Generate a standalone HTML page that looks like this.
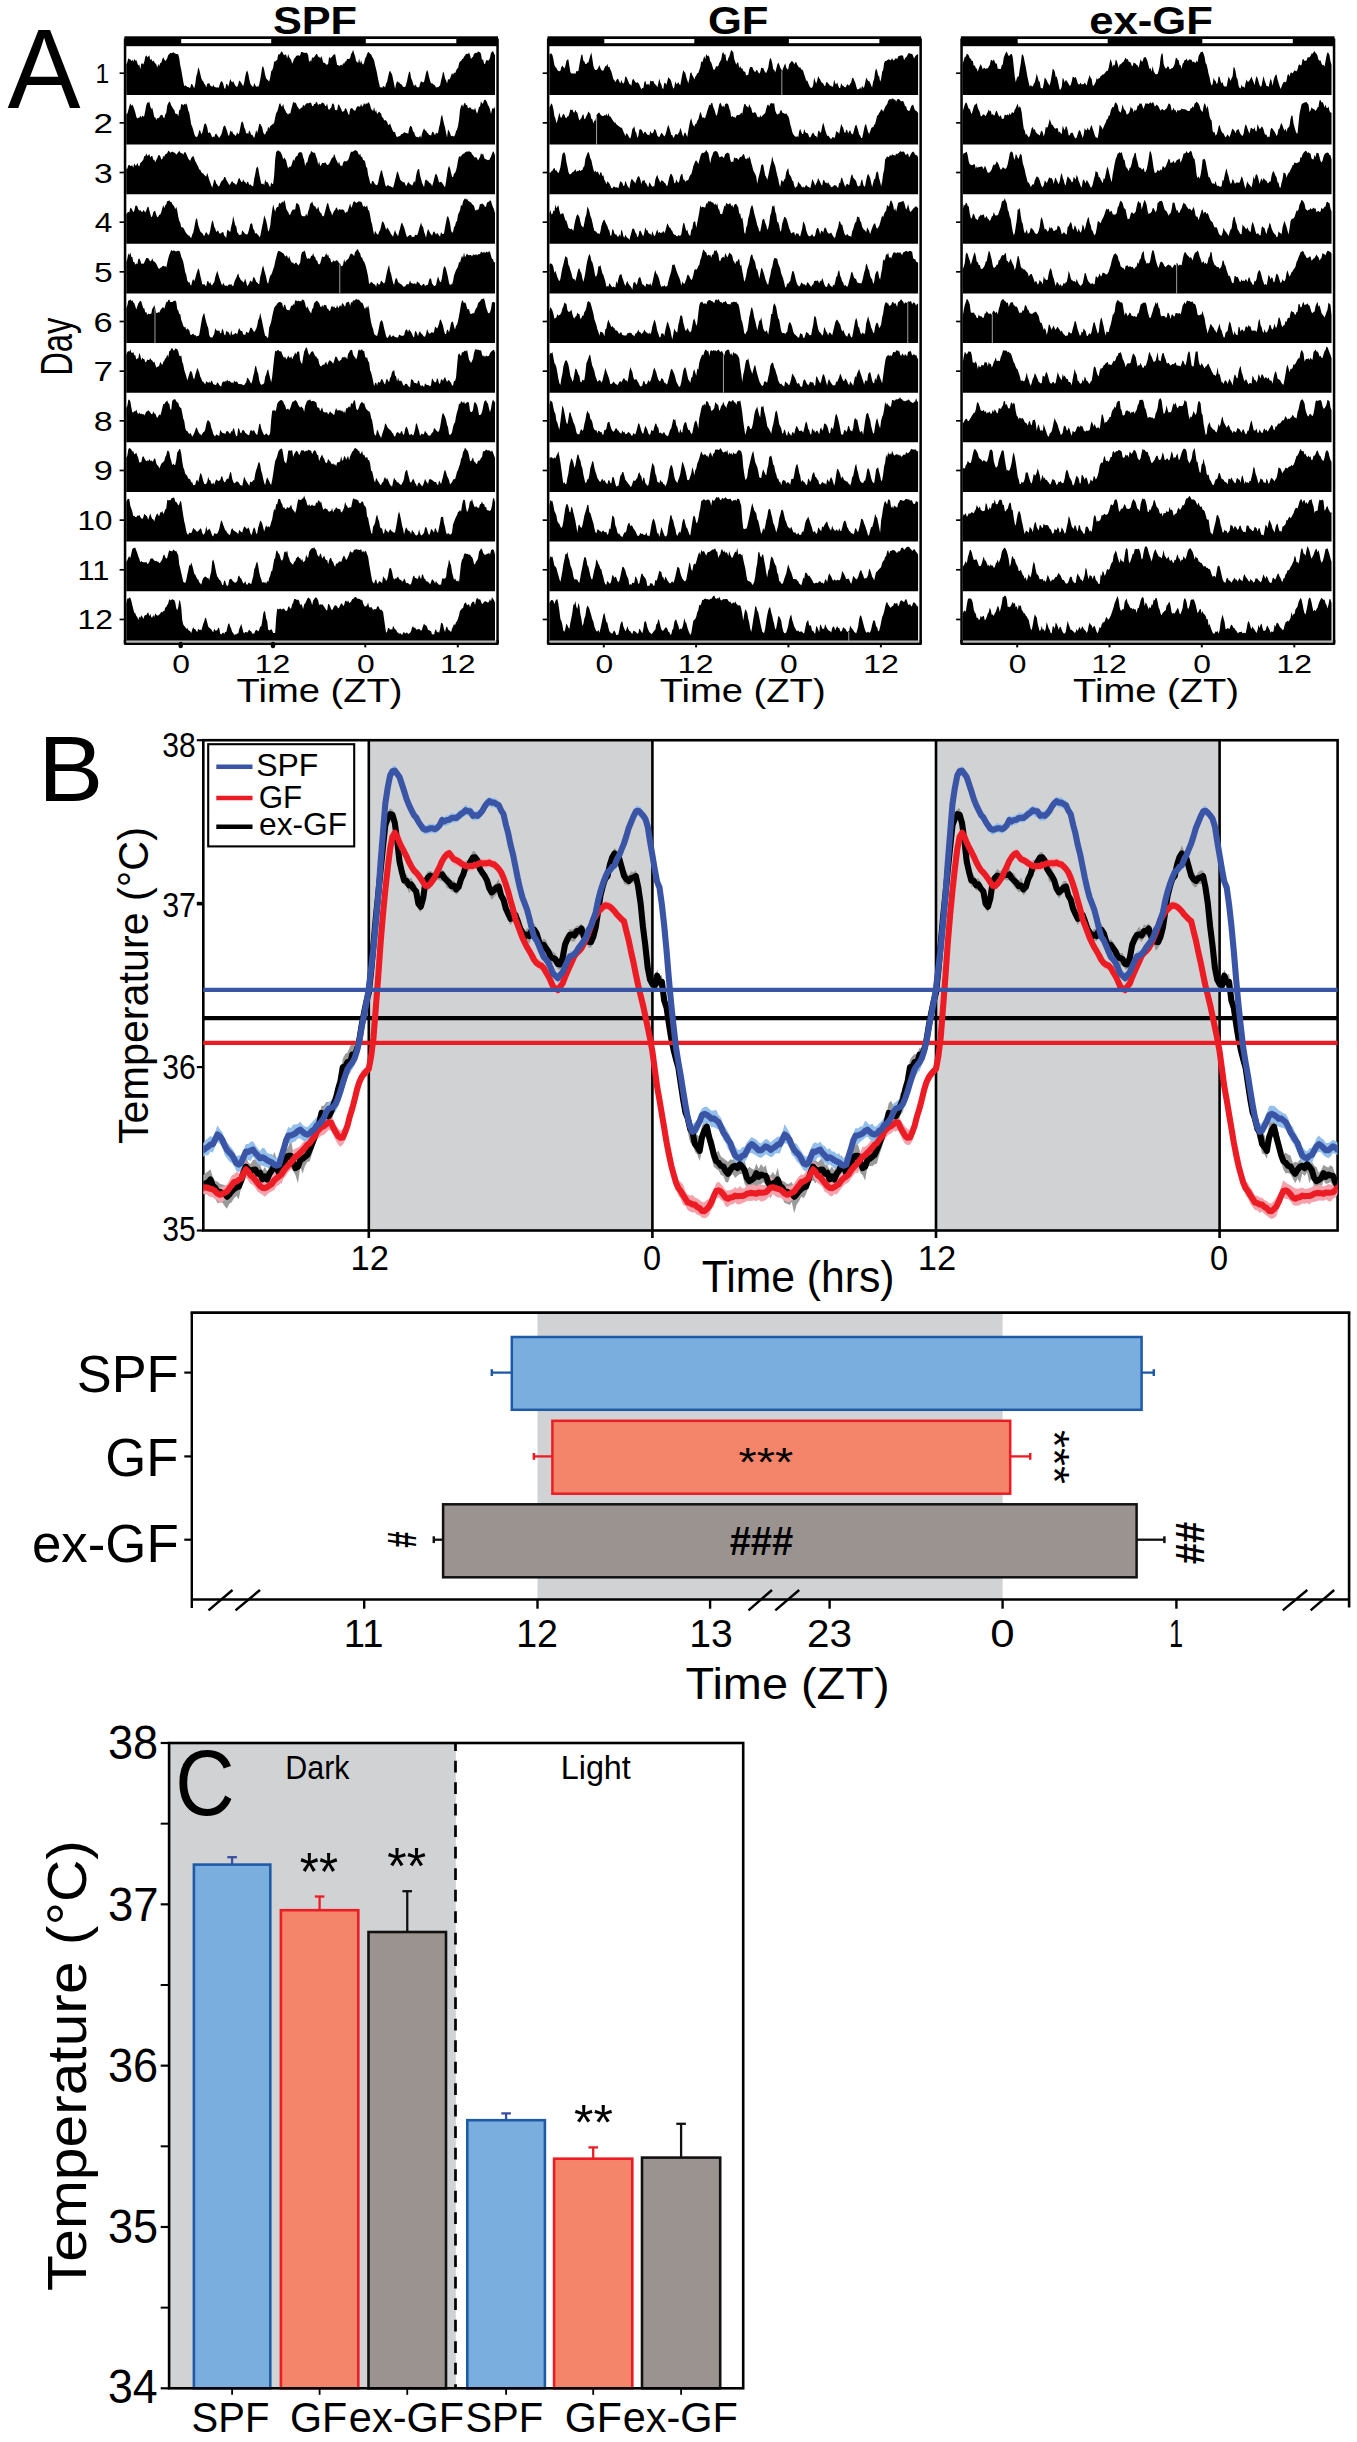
<!DOCTYPE html>
<html lang="en"><head><meta charset="utf-8"><title>Figure</title>
<style>
html,body{margin:0;padding:0;background:#fff}
svg{display:block}
text{font-family:"Liberation Sans", Arial, Helvetica, sans-serif;}
</style></head><body>
<svg width="1357" height="2442" viewBox="0 0 1357 2442">
<rect width="1357" height="2442" fill="#fff"/>
<g id="panelA">
<path transform="translate(126.3,95) scale(0.99919,-0.1)" d="M0,0V306l1 21 1 40 1-10 1 0 1-20 1 17 1-21 1 30 1-20 1 8 1-31 1-26 1 10 1-47 1 55 1 6 1-14 1 29 1 49 1 15 1-20 1 8 1 12 1-48 1 13 1-26 1 8 1-15 1-12 1-11 1-31 1 35 1-20 1 30 1 2 1 36 1 19 1-19 1-17 1 9 1 19 1 32 1 7 1 14 1-4 1 3 1 10 1-14 1-2 1-4 1-1 1-4 1-39 1-69 1-49 1-56 1-59 1-46 1 10 1-7 1-11 1 0 1-7 1 0 1 36 1-1 1-24 1-17 1 43 1 78 1 30 1 60 1-22 1-43 1-44 1-25 1-6 1-26 1-9 1-27 1 36 1 4 1 4 1-26 1-3 1-10 1 22 1-21 1-3 1-7 1 9 1-13 1 23 1 28 1 22 1-8 1-20 1-43 1-9 1 49 1-1 1-27 1 35 1 44 1-20 1-16 1 14 1-24 1-21 1-9 1-5 1 28 1 37 1-11 1-11 1-21 1-12 1 36 1 58 1 44 1 18 1-31 1-52 1-45 1-21 1-6 1-14 1 42 1-18 1-22 1 11 1-10 1 26 1 47 1 59 1 70 1 2 1-32 1-52 1-34 1-12 1-8 1-10 1 37 1 64 1 10 1 27 1 62 1 0 1 10 1 5 1 55 1 0 1 6 1 23 1-2 1-21 1-16 1 12 1-7 1-36 1 44 1-30 1-13 1-17 1-37 1 24 1 28 1 9 1 19 1 1 1 6 1-9 1 7 1 34 1-2 1-4 1-3 1-2 1 4 1-7 1-17 1-72 1 19 1-13 1 43 1-6 1 8 1 13 1 17 1 1 1-29 1 3 1-21 1 26 1-22 1-42 1-3 1-5 1-12 1-2 1 10 1 72 1-20 1 11 1 7 1 16 1 6 1 5 1-57 1-53 1 0 1-10 1 5 1 9 1-11 1 24 1-5 1 23 1-1 1 29 1-4 1 1 1 10 1 40 1 14 1 29 1-38 1-28 1-49 1-8 1-11 1 45 1-50 1 34 1-32 1-13 1 20 1 41 1 18 1 29 1 19 1-6 1-15 1-2 1-24 1-16 1-22 1-47 1-37 1-47 1-53 1-47 1-39 1 6 1-11 1 19 1-4 1-10 1 41 1 16 1 50 1 42 1 22 1-24 1-17 1-48 1-47 1-51 1 50 1 31 1-12 1-1 1-15 1-4 1-7 1-20 1 1 1-5 1 29 1 36 1 51 1 39 1 1 1-62 1-24 1-32 1-31 1 21 1-11 1-20 1 6 1-5 1 38 1 28 1-11 1-4 1 6 1 44 1 46 1 28 1-20 1-49 1-35 1-31 1 5 1-12 1-5 1-8 1-22 1 9 1-7 1 13 1 8 1 50 1 36 1 52 1-16 1-52 1-19 1-31 1 45 1-8 1 12 1 28 1 28 1-18 1 22 1-8 1 22 1 26 1 2 1 49 1 21 1 0 1 23 1 2 1 21 1 12 1 15 1 2 1-4 1 20 1-30 1-38 1 14 1 8 1 31 1 4 1 5 1-2 1 17 1-6 1-4 1-16 1-63 1 13 1-45 1-8 1 36 1 6 1-7 1 6 1 26 1 48 1 7 1 12 1-27 1-18V0Z"/>
<path transform="translate(126.3,144.62) scale(0.99919,-0.1)" d="M0,0V309l1-1 1 38 1 35 1 32 1-25 1 13 1-19 1-28 1-34 1-41 1-18 1 7 1 1 1 23 1-24 1 22 1-11 1 10 1 49 1 56 1 27 1-3 1 12 1-46 1-29 1 10 1-39 1-53 1 1 1-27 1 19 1-3 1 9 1 19 1 4 1 4 1-25 1-10 1 37 1 18 1 73 1 21 1 19 1-10 1-32 1-14 1-21 1-6 1-38 1-3 1-3 1-22 1 62 1 3 1 57 1-2 1-12 1 17 1-10 1 15 1-25 1-47 1-23 1-56 1-61 1-23 1-33 1-40 1-22 1-7 1 2 1 23 1 42 1-1 1-38 1 15 1 39 1 46 1 9 1-13 1-30 1-57 1 11 1-5 1-24 1-25 1 14 1-12 1 32 1 8 1-19 1-12 1-16 1 18 1 16 1 33 1 42 1 18 1-5 1-29 1-27 1-39 1-1 1 50 1-12 1 4 1-27 1-2 1-17 1 9 1 28 1-24 1 17 1 48 1 53 1 16 1-17 1-43 1-23 1-40 1 6 1-10 1 36 1-17 1-31 1 5 1-18 1-17 1 39 1 41 1-32 1 43 1 50 1 2 1-16 1-20 1-48 1-21 1-3 1 32 1 1 1 49 1-23 1 25 1 7 1 12 1 1 1 16 1 51 1 44 1 13 1 34 1 42 1 13 1-32 1-7 1 31 1-47 1-15 1-27 1-10 1-10 1 16 1-10 1 45 1 37 1 41 1-10 1 2 1-11 1-27 1-12 1-18 1 4 1 13 1-1 1 31 1-16 1 12 1 13 1 6 1-3 1 3 1 7 1-6 1-31 1-1 1 23 1 0 1 21 1-6 1-28 1 15 1-8 1 8 1 13 1-6 1-5 1-26 1 2 1 25 1-53 1-13 1 15 1 7 1 37 1 9 1-19 1-51 1 5 1-7 1 59 1-2 1-22 1-22 1-27 1 3 1 5 1 28 1-3 1-23 1-29 1-16 1 61 1 9 1 2 1-14 1-7 1-8 1 26 1 20 1 2 1-3 1-2 1 30 1-31 1 13 1 24 1-16 1 14 1-7 1 17 1-4 1-22 1-41 1-10 1-10 1 40 1-50 1 19 1-42 1 15 1 14 1-13 1-9 1-39 1 0 1-30 1 4 1-3 1-17 1-27 1-3 1 18 1-32 1-26 1-24 1-4 1-4 1-35 1-14 1 6 1 4 1 2 1 18 1 1 1 5 1 13 1-1 1-9 1 6 1-15 1 52 1 30 1 1 1-15 1-44 1 1 1-35 1-18 1 2 1-4 1-3 1 23 1-29 1 45 1 31 1 22 1-23 1 1 1-22 1-5 1-17 1-2 1-6 1 35 1 6 1-18 1-19 1 29 1-11 1 5 1 56 1 39 1 65 1 24 1-50 1-41 1-39 1-52 1-48 1 82 1-15 1-20 1-34 1 6 1-5 1-4 1 19 1 35 1 18 1 34 1 63 1 99 1 35 1 20 1-28 1 34 1 11 1-27 1 5 1-35 1 6 1 5 1-11 1-15 1 11 1-18 1 31 1-36 1-28 1 29 1 39 1 5 1 54 1-23 1 0 1 31 1 8 1-9 1-19 1-30 1-12 1-30 1-46 1 48 1 15 1-12 1 28V0Z"/>
<path transform="translate(126.3,194.24) scale(0.99919,-0.1)" d="M0,0V257l1-1 1 33 1 6 1-12 1 1 1 6 1-24 1 44 1-22 1-1 1 27 1-27 1-9 1 35 1 8 1 11 1 12 1 39 1-4 1 30 1-27 1 9 1 12 1-34 1 11 1 4 1-38 1-2 1-25 1 27 1 15 1 28 1 4 1-14 1-31 1 4 1 31 1-8 1 25 1 3 1 10 1 21 1-3 1-16 1 6 1 6 1-7 1-2 1-8 1-15 1 13 1 12 1 15 1-18 1-6 1 0 1-15 1 22 1 5 1-17 1-25 1-23 1-15 1-9 1 28 1 11 1 11 1-23 1-30 1-15 1-23 1-18 1-27 1-3 1-22 1-12 1-3 1-16 1-8 1-8 1 39 1-35 1-36 1-26 1-28 1-24 1 40 1 42 1-8 1-33 1-10 1-17 1 0 1 26 1 21 1 10 1 9 1 27 1-1 1-25 1-17 1-18 1-20 1 8 1 20 1 13 1-18 1-2 1-14 1-5 1 18 1 36 1 18 1-20 1-22 1-4 1 30 1-25 1 1 1-26 1 25 1-3 1-29 1 7 1-11 1-9 1 2 1 73 1 44 1 58 1 20 1-15 1-60 1-46 1-48 1-6 1 5 1-16 1 58 1-28 1 4 1-16 1-21 1-19 1 52 1-22 1 8 1 83 1 161 1 72 1 10 1 6 1-8 1-3 1-17 1-23 1-40 1 20 1-13 1-18 1-47 1-33 1 21 1-5 1 9 1 30 1 37 1-17 1 31 1 18 1-1 1 28 1 13 1-1 1 0 1-8 1-41 1-29 1-61 1 37 1-4 1 43 1 36 1 9 1 30 1-7 1-9 1 1 1-6 1-36 1-26 1-55 1 37 1-48 1 6 1 24 1-1 1 0 1 8 1-13 1-15 1 4 1 10 1 18 1 24 1 20 1 0 1 37 1-27 1-30 1-18 1-27 1 24 1-39 1 0 1-7 1 33 1 18 1-2 1-3 1 7 1 9 1 25 1 37 1 23 1-5 1 8 1 1 1 12 1-9 1-1 1-21 1-23 1 17 1-35 1 3 1-33 1-1 1-14 1-54 1-8 1-70 1-38 1-41 1-19 1 36 1-1 1-16 1-16 1-7 1-4 1 24 1 52 1 40 1 36 1-6 1-50 1-34 1-50 1-25 1 10 1 8 1-15 1 3 1-6 1-6 1-4 1 33 1 44 1 38 1 50 1-13 1-32 1-36 1-14 1-5 1-13 1 6 1-20 1-24 1 17 1 25 1-6 1-15 1-4 1-12 1 19 1 30 1-19 1 71 1 43 1 22 1 3 1-67 1-34 1-39 1-21 1-22 1 63 1 17 1-16 1-1 1-17 1-8 1-3 1-26 1 29 1 40 1 42 1 17 1-21 1-27 1-43 1 6 1 1 1-10 1-13 1-19 1-12 1 57 1 70 1 60 1 27 1-25 1-41 1-42 1-7 1 38 1 6 1 24 1 44 1 59 1 40 1-4 1 5 1 13 1 11 1 3 1 10 1 6 1 4 1-2 1 7 1-11 1 1 1-24 1-10 1-15 1-10 1 12 1-17 1-22 1 17 1 20 1 39 1-20 1 18 1-39 1-23 1 6 1-14 1 3 1-5 1 19 1 19 1 28 1 24 1-10 1-31V0Z"/>
<path transform="translate(126.3,243.86) scale(0.99919,-0.1)" d="M0,0V295l1 17 1 8 1-6 1 46 1-5 1-17 1-21 1 15 1 46 1 6 1-8 1-30 1-16 1 8 1-14 1-9 1 24 1-10 1-16 1 21 1 31 1 9 1-36 1-39 1-33 1 9 1 41 1 12 1-1 1-35 1-26 1 4 1 22 1 2 1 25 1 34 1 35 1-33 1 31 1 9 1 33 1 0 1 7 1-16 1 3 1-24 1-13 1-12 1-26 1 25 1-42 1-60 1-39 1-20 1-45 1 0 1-5 1-17 1-21 1-17 1-11 1-11 1-1 1-17 1-7 1 34 1 20 1 49 1 53 1 44 1-16 1-58 1-28 1-30 1-14 1-4 1-17 1-16 1 28 1 14 1-15 1-15 1 7 1 42 1 53 1 45 1-17 1-48 1-17 1-38 1 16 1 1 1-27 1-5 1 8 1 7 1 4 1-35 1-11 1-15 1 84 1-6 1-10 1-7 1 55 1 40 1 65 1-45 1-48 1-11 1-58 1-14 1-16 1 7 1-9 1 51 1-13 1-11 1-14 1-2 1-6 1 23 1 35 1 49 1 8 1-4 1-50 1-12 1-37 1 10 1-16 1-4 1-24 1 7 1 52 1 50 1 44 1 64 1-26 1-29 1-46 1-62 1 16 1 41 1 86 1 72 1 60 1-43 1-32 1 33 1 14 1-1 1 46 1-12 1 5 1 17 1-13 1 28 1-26 1-60 1-22 1-10 1-31 1 2 1 25 1 18 1 8 1 0 1 0 1 64 1-2 1-6 1-13 1-42 1-53 1-12 1-3 1 0 1-1 1 29 1-29 1 49 1 28 1 48 1 6 1 19 1-31 1-18 1 3 1-26 1-7 1 30 1-41 1-24 1-1 1-29 1-8 1 12 1 40 1 42 1 40 1-1 1-38 1-35 1-14 1-35 1 25 1 22 1 7 1 29 1-11 1-24 1 17 1-5 1-2 1 5 1-5 1-5 1-32 1 15 1-7 1 27 1 32 1 35 1-46 1 15 1 38 1 12 1-4 1-13 1 5 1 6 1 5 1-4 1 2 1-17 1-38 1 15 1-14 1 1 1 15 1-46 1-5 1-47 1-61 1-30 1-58 1-48 1 40 1-18 1-16 1-6 1 32 1 15 1 40 1 46 1-3 1-16 1-28 1-37 1 25 1-10 1-21 1-14 1-24 1-8 1-17 1 42 1 26 1-32 1-13 1-18 1 45 1 36 1 42 1 16 1-28 1-21 1-33 1-42 1-25 1 10 1 9 1 8 1-6 1-20 1 8 1-8 1 25 1-2 1-4 1 24 1 39 1 34 1 31 1-34 1-8 1-51 1-26 1-34 1 57 1 32 1-18 1-23 1-11 1-15 1 32 1 11 1-13 1-21 1 19 1-12 1-14 1-11 1 46 1-17 1-6 1 11 1 58 1 53 1 52 1 5 1-26 1-40 1-73 1-25 1 7 1 47 1 16 1 38 1 9 1 63 1 23 1 22 1 57 1-17 1 48 1 20 1 12 1-14 1 11 1-21 1-6 1-11 1 0 1-18 1-5 1-13 1-38 1-10 1 16 1-11 1 23 1 41 1-6 1 13 1-10 1-9 1-19 1 4 1 39 1 7 1 2 1 16 1-9 1-35 1-28 1-18 1-38V0Z"/>
<path transform="translate(126.3,293.48) scale(0.99919,-0.1)" d="M0,0V319l1 27 1 57 1-24 1 34 1-45 1-4 1-50 1 0 1-26 1 14 1-13 1 54 1 9 1-22 1-32 1 3 1-7 1 17 1 21 1 23 1-1 1-2 1-17 1-16 1 8 1 25 1-29 1-4 1-9 1-13 1-23 1-20 1-8 1 11 1 3 1 12 1 6 1-8 1 5 1-16 1 49 1 45 1 31 1 26 1 28 1-15 1 8 1-2 1-7 1-2 1 8 1-3 1 3 1-21 1-39 1-22 1-28 1-53 1-52 1-26 1-55 1-23 1 9 1-30 1-8 1 44 1 21 1-23 1 29 1 38 1 34 1 29 1-19 1-53 1-40 1-47 1-4 1 6 1-14 1-9 1 51 1 2 1-28 1 19 1-31 1-2 1 20 1 9 1 51 1 32 1 32 1-32 1-34 1-29 1-31 1-20 1 26 1-20 1-12 1 7 1-11 1 13 1 9 1-6 1 8 1-18 1-4 1 37 1 27 1 19 1 27 1 20 1-39 1-17 1-17 1-3 1-20 1 13 1 31 1-36 1-43 1 12 1 21 1 26 1-8 1-7 1 47 1 0 1-20 1-25 1-9 1-11 1-6 1 73 1 36 1 53 1 25 1-43 1-34 1-39 1-52 1-10 1 43 1 33 1 11 1 22 1 32 1 29 1 48 1 40 1 42 1 25 1 0 1-5 1-5 1-8 1-5 1-13 1-23 1 13 1-3 1-31 1 30 1-34 1-24 1-10 1 3 1-21 1 14 1 7 1-13 1-17 1 11 1 16 1 80 1 30 1-3 1 14 1-11 1-44 1-29 1 11 1-9 1 3 1 27 1-3 1 32 1-36 1-4 1-33 1-4 1-31 1-8 1 10 1 35 1 37 1-7 1 1 1 12 1 26 1-26 1 12 1-36 1-2 1-37 1-6 1 20 1-3 1-7 1 15 1-3 1-8 1-24 1 0 1-24 1-2 1 16 1 57 1-37 1 20 1 8 1 8 1 18 1 26 1 11 1-6 1-7 1-14 1 45 1 5 1 22 1-7 1-23 1-13 1-40 1-2 1-29 1-14 1-22 1-35 1-43 1-46 1-76 1 7 1 16 1-8 1-9 1-8 1-3 1-24 1 44 1-13 1-13 1 17 1 29 1-9 1-14 1-8 1 19 1 54 1 47 1 39 1 29 1-64 1-26 1-49 1-40 1-22 1 46 1 26 1-14 1-29 1-11 1-3 1-12 1-2 1-19 1 2 1 1 1 13 1 13 1-9 1 13 1 32 1-30 1 1 1-8 1 3 1 3 1-14 1 35 1-12 1-3 1-17 1-11 1-1 1 17 1 2 1-26 1 14 1-4 1 10 1 42 1 19 1-6 1-46 1-13 1-14 1 0 1 14 1 46 1 38 1-33 1-23 1 1 1 42 1 71 1 40 1 0 1-25 1-41 1-45 1-52 1-26 1 16 1-10 1 36 1 57 1 28 1 27 1 16 1 19 1 46 1-5 1 35 1 35 1-25 1 53 1-46 1 18 1 19 1-14 1-4 1 4 1-1 1-15 1 19 1 2 1-12 1 19 1-17 1 10 1 5 1-4 1 28 1-7 1-8 1 14 1-16 1 14 1 0 1-9 1 18 1-11 1-37 1-32 1-3 1-32 1 3V0Z"/>
<line x1="339.77" y1="264.28" x2="339.77" y2="293.48" stroke="#c8c8c8" stroke-width="0.8"/>
<path transform="translate(126.3,343.1) scale(0.99919,-0.1)" d="M0,0V350l1 25 1 52 1-2 1 14 1-18 1 8 1-20 1-11 1-29 1-32 1 30 1 29 1 15 1 13 1-9 1-34 1-32 1 0 1-44 1 6 1-31 1 15 1-7 1 5 1 0 1 51 1 11 1 26 1-38 1-41 1-2 1 12 1-9 1 26 1 13 1 14 1 2 1-14 1 31 1 37 1-4 1 23 1 4 1-24 1 0 1 1 1 6 1 5 1 2 1-15 1-72 1-12 1-34 1-3 1-57 1-27 1-31 1-17 1 9 1-34 1 17 1-12 1-6 1-46 1-4 1 8 1 6 1-17 1 6 1-18 1 4 1 2 1 11 1 59 1 60 1 53 1 32 1 14 1-50 1-41 1-35 1-23 1-71 1-23 1 0 1-4 1 20 1 18 1 58 1-21 1-4 1-4 1 8 1-32 1 5 1 44 1-18 1-43 1-8 1 46 1-9 1 0 1-18 1-23 1 57 1-46 1 1 1 4 1 12 1-3 1-12 1 37 1 29 1-23 1-8 1-1 1-33 1-1 1-6 1 33 1-4 1-11 1 19 1 35 1 5 1-14 1-19 1-13 1 13 1 20 1 30 1 56 1 19 1 54 1-47 1-42 1-52 1-48 1-43 1 3 1-23 1 7 1 97 1 27 1 31 1 52 1 45 1 41 1 18 1 6 1 21 1 7 1 9 1-2 1-4 1-8 1-46 1 32 1 0 1-41 1-12 1-1 1-5 1 18 1 33 1-8 1 25 1-15 1 47 1 4 1-12 1 9 1-8 1 2 1-3 1 20 1-3 1-8 1-31 1-48 1 22 1-17 1-26 1-14 1-15 1 45 1 10 1 50 1 7 1 11 1 3 1-11 1-11 1-29 1-17 1 27 1-20 1 22 1-5 1 3 1-37 1-1 1-20 1-1 1 38 1 12 1-17 1 12 1-16 1-2 1 32 1-34 1 15 1 17 1-20 1 42 1-8 1-17 1-13 1 39 1 3 1 10 1-7 1-39 1 42 1-8 1 24 1-4 1 8 1 12 1-10 1 2 1-4 1-11 1-18 1 2 1-17 1-31 1-15 1 23 1-17 1 31 1-41 1-73 1-56 1-41 1-26 1-48 1-12 1-6 1-5 1 38 1 53 1 47 1 17 1 1 1-29 1-50 1-38 1-41 1-18 1 6 1 20 1 11 1-26 1 4 1 13 1-11 1-7 1-3 1-1 1 0 1 29 1-7 1-2 1-5 1 5 1 0 1 41 1 17 1 0 1-27 1 30 1-15 1-12 1-20 1-26 1-10 1 67 1-5 1-21 1-28 1 41 1 9 1-22 1-5 1-16 1-12 1 3 1 25 1 49 1-24 1-20 1 1 1 7 1 9 1-15 1 15 1 52 1-10 1-10 1 18 1 34 1 42 1-11 1-27 1-27 1-51 1-31 1-1 1 44 1-4 1-24 1 44 1 51 1 15 1-6 1-45 1-31 1 38 1 14 1 33 1 54 1 55 1 62 1 38 1-9 1-21 1 9 1-18 1-41 1-13 1 6 1-45 1-3 1-2 1 11 1-6 1 28 1 24 1 9 1 37 1 15 1 6 1 20 1 4 1 4 1 4 1-34 1-52 1-28 1-33 1-2 1 10 1 33 1 63 1 5 1 1 1-10V0Z"/>
<line x1="154.98" y1="308.33" x2="154.98" y2="343.1" stroke="#c8c8c8" stroke-width="0.8"/>
<path transform="translate(126.3,392.72) scale(0.99919,-0.1)" d="M0,0V382l1 26 1 10 1-8 1 25 1-34 1-3 1 9 1-32 1 0 1-42 1 10 1 1 1 55 1-24 1-50 1 27 1-14 1-1 1-32 1 5 1 23 1-5 1-2 1 22 1-22 1-5 1-18 1 9 1-30 1-29 1 4 1 6 1 9 1 38 1-21 1-12 1 30 1 13 1 22 1 10 1 30 1-28 1 61 1 4 1 22 1 7 1-24 1-2 1 20 1-3 1-5 1-19 1-43 1-8 1 7 1-63 1-26 1-56 1-29 1-33 1-42 1 31 1 33 1 31 1-2 1-21 1-46 1-13 1 45 1 29 1 41 1-22 1-25 1-41 1-21 1-26 1-6 1-12 1-14 1 32 1-8 1-10 1 16 1-18 1 26 1-9 1-24 1-7 1-3 1 1 1 25 1-7 1-19 1-10 1-5 1 39 1 10 1-2 1 4 1-3 1 21 1-20 1 8 1-9 1-12 1 5 1-11 1 30 1-15 1 4 1-2 1-20 1-4 1-2 1 2 1-3 1-8 1 1 1 16 1 12 1 48 1-11 1-13 1-20 1-18 1 25 1 49 1 41 1 62 1-6 1-45 1-27 1-63 1-32 1-16 1 7 1 0 1 12 1 62 1 23 1 39 1 14 1-51 1-39 1-43 1 57 1 98 1 91 1 75 1-11 1 9 1 8 1-13 1-4 1 2 1-26 1-26 1-13 1 14 1-32 1 16 1 25 1-18 1-7 1 19 1-33 1 27 1 15 1 29 1-24 1 28 1 6 1-8 1-79 1-31 1-6 1 67 1 54 1 21 1 26 1-18 1-39 1-26 1 15 1 18 1 7 1-2 1-24 1-25 1 0 1-22 1 1 1-50 1-23 1-9 1 14 1 8 1-3 1 17 1 16 1-37 1 24 1 22 1 1 1-9 1-9 1-15 1 26 1 42 1 4 1-13 1-21 1-17 1 13 1 2 1 31 1-8 1 13 1-13 1 9 1-25 1 53 1 18 1 19 1 6 1-2 1-46 1-20 1-7 1-21 1 24 1 58 1 20 1-15 1 12 1-1 1-16 1 4 1-58 1-14 1 8 1-41 1-9 1-80 1-23 1-39 1-45 1-54 1 34 1 5 1-32 1 38 1-7 1 0 1 31 1 5 1-20 1-23 1-12 1 43 1 17 1-27 1-8 1 39 1 17 1 47 1 2 1 18 1-59 1-10 1-49 1 37 1-31 1-1 1 3 1-16 1-25 1-13 1 20 1 3 1-3 1-21 1-3 1-11 1 82 1-2 1-7 1-26 1-2 1 1 1-10 1 34 1-6 1-34 1-19 1 13 1-9 1-11 1 39 1-12 1-6 1 0 1-6 1-10 1 19 1 64 1-14 1-21 1-4 1-1 1 43 1-15 1-39 1-3 1 45 1-4 1-14 1 27 1 13 1-28 1-23 1 17 1 5 1-18 1-10 1-28 1-1 1 49 1-4 1 35 1 117 1 107 1 19 1-14 1-13 1 40 1-6 1 13 1 7 1-8 1 16 1-47 1-53 1-15 1-18 1 20 1 27 1 55 1 34 1 2 1-5 1 1 1 0 1-11 1 8 1-45 1-19 1 11 1-20 1 20 1-9 1 0 1 4 1 26 1 14 1 9 1 9 1 3 1-29V0Z"/>
<path transform="translate(126.3,442.34) scale(0.99919,-0.1)" d="M0,0V349l1 14 1 62 1 0 1-15 1-60 1-49 1-3 1 16 1-6 1 21 1-31 1-17 1 18 1-16 1 5 1-9 1 7 1-17 1 16 1 20 1 5 1 11 1-11 1-12 1-14 1-3 1 29 1-21 1 0 1-27 1-18 1 17 1 19 1-12 1 34 1 41 1 40 1-2 1 18 1 9 1 11 1-29 1-5 1-53 1-5 1 89 1 10 1 6 1-1 1-20 1-13 1-1 1-39 1-9 1-8 1-47 1-55 1-25 1-71 1-26 1-4 1-14 1-19 1 16 1-18 1-21 1 17 1 19 1 28 1 31 1-16 1-27 1-21 1-5 1-14 1 16 1 15 1 7 1 21 1 54 1 34 1 5 1-11 1-15 1-46 1-28 1-35 1-21 1-4 1 20 1-7 1-5 1-5 1 62 1-17 1-12 1-6 1 1 1-10 1 27 1 5 1-5 1-16 1-9 1 29 1-7 1 38 1-14 1-40 1-29 1 4 1 79 1-11 1-35 1-10 1 30 1 6 1-9 1-18 1-8 1-7 1-10 1 3 1 39 1 11 1-17 1 12 1-2 1-23 1-15 1-6 1 48 1 59 1 8 1-47 1-28 1-24 1-20 1 8 1 13 1-11 1-11 1 2 1 25 1 130 1 91 1 0 1 9 1-18 1 24 1 51 1 21 1 7 1 11 1 2 1-5 1-10 1-25 1-16 1-39 1 5 1 5 1-18 1 21 1 27 1 33 1 6 1 3 1 12 1-7 1-13 1-27 1-16 1-15 1 16 1-12 1-10 1-35 1 61 1 27 1 23 1 5 1 0 1 12 1-24 1 7 1-4 1 6 1-16 1 6 1-54 1-8 1 1 1-34 1 19 1 19 1-42 1-7 1-2 1 3 1 0 1-23 1 15 1 16 1-14 1-4 1-11 1-11 1 45 1 29 1-25 1 2 1-3 1 9 1-19 1 16 1-27 1 18 1-26 1 52 1-3 1 10 1 14 1-17 1 52 1-16 1 16 1 30 1-16 1-71 1-19 1 8 1 26 1 29 1 11 1 14 1-24 1 12 1-37 1-27 1-8 1-12 1-2 1-16 1-48 1-26 1-61 1-67 1-28 1 10 1 53 1-15 1-29 1-20 1-21 1 35 1 34 1 27 1 50 1-5 1-25 1-17 1-9 1-9 1-9 1-19 1-7 1-26 1-6 1 29 1 16 1 0 1-11 1-5 1 26 1-2 1-35 1 3 1 51 1 30 1-10 1-28 1-39 1-11 1 16 1-9 1-12 1 26 1 38 1 64 1-14 1-33 1-36 1-44 1 14 1 8 1-13 1 12 1 30 1-19 1-8 1-23 1 0 1-3 1 16 1 15 1 8 1 39 1-6 1-17 1-8 1-8 1 9 1 39 1 59 1 59 1 26 1-20 1-20 1-31 1-50 1-24 1-68 1-11 1 11 1 17 1 54 1 33 1 14 1 60 1 43 1 29 1 55 1-6 1 29 1-5 1-15 1 19 1-28 1 14 1 3 1 9 1-16 1-78 1-10 1-1 1 24 1 63 1 17 1-18 1-16 1-39 1-61 1 0 1 6 1 25 1 44 1 53 1 15 1 6 1-23 1-14 1-47 1-38 1 39 1 59 1 31 1-19 1-9V0Z"/>
<path transform="translate(126.3,491.96) scale(0.99919,-0.1)" d="M0,0V342l1 19 1 66 1 13 1-5 1-11 1-19 1 3 1-30 1 5 1 10 1-31 1-22 1-46 1 2 1 2 1 49 1 12 1-20 1-18 1-14 1 9 1-8 1 25 1-24 1 8 1-15 1 11 1 21 1-3 1-44 1-19 1-6 1-28 1 24 1 23 1 12 1 6 1 14 1 36 1 18 1 46 1-2 1-13 1-57 1-28 1-45 1 17 1-16 1 3 1 47 1 77 1 10 1 23 1-1 1-46 1-78 1-58 1-23 1-41 1-10 1-13 1-24 1-3 1-7 1-27 1 0 1-31 1 3 1 1 1 40 1 12 1-26 1 44 1 45 1-3 1-33 1-41 1-28 1-3 1 3 1 20 1 52 1-34 1-3 1-28 1-12 1 20 1-23 1 29 1 24 1-8 1-8 1 3 1 6 1 33 1 4 1-36 1-22 1 1 1 24 1 11 1-6 1 31 1 44 1-14 1-57 1-30 1-15 1 2 1 16 1 0 1-5 1-14 1-19 1 3 1-12 1 52 1 45 1-26 1-19 1-16 1-14 1-20 1 45 1-9 1 6 1 16 1-1 1 62 1 40 1 28 1 41 1 14 1-30 1-59 1-31 1-51 1-40 1-24 1 53 1 26 1-20 1-18 1-25 1-10 1 46 1 62 1 68 1 60 1 23 1 25 1 43 1 17 1 11 1 6 1-5 1-49 1-69 1-17 1-9 1 46 1 78 1 7 1-5 1 4 1 2 1-67 1 27 1 17 1 18 1-5 1-15 1-26 1 22 1 28 1-3 1 10 1-18 1 0 1 9 1-6 1 14 1-3 1-4 1-5 1-34 1 23 1 15 1 4 1-19 1-30 1 1 1-62 1 28 1 22 1 17 1-28 1-14 1-30 1-15 1 6 1 37 1-16 1-7 1-22 1-11 1 13 1-15 1 5 1-20 1 36 1 3 1-1 1 11 1 51 1-46 1 8 1 38 1-4 1-33 1 21 1 20 1-45 1 40 1 21 1 23 1 8 1 21 1 12 1-11 1-1 1-18 1 0 1-32 1 10 1 23 1-48 1 12 1-31 1-5 1 12 1-34 1-1 1-31 1-75 1-4 1-42 1-48 1-24 1 47 1-17 1-19 1-13 1-21 1-1 1 25 1 3 1 37 1 15 1-28 1 18 1-24 1-21 1-26 1-8 1-9 1 50 1 43 1-23 1-6 1-21 1 4 1-14 1-7 1-11 1 19 1 15 1 37 1 58 1 18 1 7 1-46 1-35 1-43 1-3 1 18 1 22 1-16 1-29 1-12 1-25 1 32 1 14 1-15 1-10 1-18 1 14 1 29 1 33 1-24 1-12 1-15 1 42 1 8 1-5 1-5 1-7 1-11 1-2 1 0 1-24 1-9 1 48 1-15 1-23 1 39 1 38 1 49 1 20 1-27 1-37 1-16 1-27 1-42 1 14 1 10 1 23 1 8 1-2 1 34 1 40 1 19 1 31 1 29 1 49 1 18 1 52 1 15 1 31 1-16 1-12 1-13 1-39 1-56 1-3 1 22 1 19 1-46 1 0 1-19 1 1 1 30 1-2 1 5 1 27 1 4 1 61 1-2 1 3 1 18 1-10 1-3 1 2 1-5 1-11 1 17 1-22 1-29 1-27V0Z"/>
<path transform="translate(126.3,541.58) scale(0.99919,-0.1)" d="M0,0V398l1 24 1 7 1-6 1-65 1-28 1-28 1-45 1 1 1-11 1-3 1 17 1-4 1 11 1-21 1-14 1-7 1 14 1 39 1-12 1-5 1-15 1-29 1 36 1 28 1-33 1-24 1-1 1-22 1 38 1 25 1 18 1-20 1-7 1 37 1-3 1 16 1-30 1 18 1 30 1 7 1 88 1-9 1 6 1-6 1 22 1 4 1 4 1-1 1-39 1-5 1-12 1-21 1 11 1 35 1-13 1-69 1-65 1-60 1-41 1-57 1-27 1-8 1 22 1-4 1 1 1 20 1 31 1-15 1-1 1-19 1-4 1 8 1 9 1 18 1-9 1-37 1-20 1 9 1 18 1 62 1-46 1 6 1 13 1-14 1-27 1-29 1-8 1 31 1-2 1-4 1 3 1 18 1 28 1 48 1 39 1-14 1-34 1-25 1-26 1-5 1-22 1-5 1-19 1 10 1 45 1 19 1-21 1-7 1-8 1-4 1-10 1-10 1 42 1-13 1-9 1-6 1 36 1 23 1-3 1-16 1-5 1 18 1-17 1-36 1-28 1 24 1 40 1 16 1-19 1-46 1 3 1 59 1 33 1 39 1-10 1-22 1-40 1-40 1 34 1 31 1-25 1 16 1-15 1 16 1 37 1 30 1 59 1 46 1-19 1 66 1-6 1 51 1 8 1-5 1-35 1-12 1-40 1 9 1-19 1-2 1 21 1-8 1-1 1 16 1 16 1-40 1-14 1-12 1-17 1 31 1 54 1 51 1-1 1-5 1 1 1 14 1 0 1 29 1-32 1-16 1-41 1-14 1 18 1-22 1 7 1 10 1-15 1 6 1-4 1 37 1-14 1 31 1 0 1-23 1 12 1-45 1-33 1 1 1 12 1-10 1 2 1-21 1-8 1 5 1 5 1 27 1-43 1 25 1 6 1 24 1-16 1-3 1-5 1 2 1-34 1 7 1 19 1 26 1 55 1-33 1-10 1-21 1 8 1 2 1-4 1 51 1 43 1-6 1-7 1 4 1-11 1 3 1-28 1-8 1 10 1 13 1-8 1-34 1-5 1-22 1-83 1-16 1-56 1-43 1-47 1-16 1 76 1 13 1 28 1 54 1 26 1-43 1-24 1-59 1-14 1 3 1-50 1-2 1 54 1-26 1-4 1-17 1 15 1 23 1-17 1-9 1-4 1-10 1 8 1 50 1 58 1 69 1 30 1-39 1-48 1-54 1-36 1-54 1 44 1 28 1-14 1-20 1-1 1-9 1-22 1 42 1-18 1-11 1-18 1-10 1 1 1 14 1 46 1-40 1-23 1 7 1 8 1 17 1 48 1 5 1-22 1-37 1-19 1 17 1 43 1-6 1-18 1-12 1 48 1-16 1-27 1-7 1 53 1 47 1 59 1-2 1 2 1-64 1-37 1-54 1-23 1 16 1-7 1-8 1 0 1 22 1 79 1 27 1 24 1 25 1 16 1 31 1 6 1 14 1-17 1 66 1 48 1 8 1-9 1-75 1-39 1 15 1 39 1 57 1-9 1 28 1-39 1-29 1-17 1 14 1-12 1-5 1 0 1 35 1 3 1 26 1-31 1 8 1-40 1 10 1-39 1 8 1-14 1 3 1 10 1 45 1 67 1 5 1-42V0Z"/>
<path transform="translate(126.3,591.2) scale(0.99919,-0.1)" d="M0,0V296l1 13 1 29 1 12 1-17 1 41 1 48 1 7 1 6 1 0 1-27 1-27 1-33 1-23 1-36 1 14 1-11 1-3 1 1 1-2 1 6 1-23 1 5 1 16 1 31 1 3 1 4 1-11 1-12 1-7 1 5 1-11 1 2 1-16 1 8 1 13 1 19 1 36 1 11 1-27 1-16 1 10 1 43 1 32 1-6 1-2 1-3 1 18 1-6 1-10 1 3 1-24 1-20 1-91 1-40 1-46 1-43 1-44 1-9 1-5 1 31 1 52 1 42 1 56 1-8 1 33 1-31 1-35 1-48 1-5 1-26 1-21 1-5 1-26 1-10 1-16 1 43 1 23 1 9 1 8 1-4 1-13 1 5 1-25 1 46 1 42 1 101 1 17 1-32 1-50 1-50 1-36 1-14 1-19 1-6 1-16 1-30 1-2 1 49 1-11 1-35 1-14 1 11 1 53 1 9 1 1 1-14 1-13 1-7 1-6 1 6 1 13 1 43 1 11 1-25 1-4 1-25 1-26 1 3 1 24 1-31 1-11 1 17 1 7 1-12 1-3 1 41 1 34 1 73 1 21 1 39 1 18 1-42 1-63 1-46 1-23 1-38 1 7 1-7 1 6 1-17 1 31 1-16 1 43 1 20 1 48 1 2 1 61 1 53 1 18 1 65 1 9 1-28 1-5 1-32 1-34 1-3 1 24 1 57 1 12 1-15 1 23 1-55 1-25 1-33 1-10 1-15 1-3 1 29 1 4 1 30 1 7 1 15 1-22 1 4 1-28 1 19 1-34 1 6 1 10 1 62 1-32 1 3 1 52 1 20 1 11 1 9 1-3 1 13 1-21 1-6 1-45 1-18 1-6 1 35 1-14 1-38 1 12 1 18 1-30 1-18 1 5 1-45 1 37 1 26 1-1 1-30 1-10 1-33 1-14 1 31 1-2 1 10 1 13 1 3 1-10 1 30 1 25 1 12 1-22 1-23 1 13 1 20 1 27 1 30 1-10 1-8 1 9 1 25 1-7 1 13 1-9 1 1 1-4 1 0 1 9 1-34 1 20 1-23 1 21 1-7 1-28 1-25 1-67 1-62 1-54 1-55 1-22 1-8 1 31 1 13 1-45 1 2 1 24 1-4 1-7 1-14 1 74 1-19 1-6 1-24 1 15 1 37 1 66 1 14 1-6 1-35 1-54 1-25 1 15 1-5 1 14 1 10 1-25 1-8 1-3 1-14 1 1 1 27 1-12 1-35 1 6 1-5 1-8 1-7 1 9 1 32 1 41 1 9 1-24 1-1 1-8 1 5 1 37 1-25 1-20 1 49 1-4 1-39 1-2 1-24 1 0 1-7 1-9 1-16 1 25 1 28 1-11 1-11 1-22 1 28 1-23 1-5 1-16 1 7 1-3 1 56 1 12 1-13 1 11 1 6 1 82 1 37 1 64 1-33 1-30 1-67 1-38 1-41 1 18 1-23 1-9 1 12 1-18 1 93 1 91 1 43 1 9 1 41 1 15 1-10 1 1 1-5 1-5 1 4 1-21 1-6 1-22 1-50 1 0 1 29 1 9 1 19 1 68 1 15 1 19 1-5 1-36 1-17 1-5 1 0 1 11 1-4 1 15 1-23 1 42 1 12 1 1 1-11 1-43V0Z"/>
<path transform="translate(126.3,640.82) scale(0.99919,-0.1)" d="M0,0V375l1 47 1-2 1 14 1-4 1-29 1-42 1-43 1-36 1-4 1-29 1-8 1-30 1 31 1-10 1 25 1-12 1-25 1 31 1 10 1-4 1 20 1 11 1-40 1 25 1-36 1-1 1 23 1-18 1 37 1-17 1-6 1-1 1 10 1 11 1 18 1-9 1 15 1-2 1 39 1 5 1 20 1 17 1 41 1-13 1 6 1 5 1-4 1-4 1-23 1-58 1-20 1 32 1 71 1-16 1-60 1-127 1-43 1-15 1-11 1-18 1 11 1-23 1-5 1-8 1-17 1 37 1 24 1-19 1-2 1-20 1-9 1 36 1-16 1 4 1-10 1 33 1 36 1 25 1 37 1-13 1-36 1-40 1-13 1-7 1-9 1-18 1-11 1 38 1-20 1-1 1 3 1 28 1-12 1-51 1-9 1 14 1 8 1-15 1 22 1-5 1 41 1 41 1 8 1-33 1-22 1-34 1-9 1-19 1 6 1-2 1 13 1-6 1 49 1 21 1 31 1-41 1-39 1-19 1 15 1 1 1-7 1 14 1 18 1-14 1-4 1-23 1 1 1-2 1 28 1 11 1-6 1-12 1 18 1 34 1-2 1 53 1 74 1 31 1-15 1-62 1-24 1-87 1-10 1 6 1 10 1-15 1-26 1 2 1 1 1 154 1 88 1-6 1-1 1 11 1-14 1 4 1 6 1-1 1-18 1-6 1 7 1 33 1 8 1-21 1-2 1 44 1 14 1 37 1 2 1-7 1-4 1 5 1-16 1-42 1 15 1-20 1-33 1 48 1 8 1 23 1 22 1 15 1-7 1-9 1-23 1-38 1 48 1 12 1 16 1 0 1-8 1-18 1-51 1 14 1-10 1 10 1-13 1-16 1-14 1-18 1-6 1 65 1-2 1-19 1-28 1-13 1 20 1 20 1 10 1-1 1-12 1-20 1 12 1 22 1 18 1 0 1-26 1 10 1 38 1 6 1-16 1 19 1-27 1 4 1 12 1 22 1 2 1 12 1 7 1 1 1-17 1 3 1-5 1-1 1-15 1 9 1-37 1-24 1-10 1 7 1 8 1 26 1-45 1-6 1 9 1-11 1-21 1 8 1 1 1-5 1 29 1 7 1-18 1-22 1 5 1-9 1-16 1-73 1-68 1-67 1 10 1 41 1-6 1-14 1 6 1-10 1 44 1-21 1-16 1-2 1-26 1-4 1-14 1 11 1-10 1-12 1 23 1 8 1-18 1 11 1 1 1-15 1 5 1 9 1 14 1 40 1 11 1-21 1 11 1-23 1 0 1 3 1 4 1-10 1-12 1 17 1 33 1 25 1-18 1 0 1-18 1-28 1-3 1-6 1-5 1-32 1 5 1-7 1 44 1 11 1-32 1 10 1-17 1 41 1 61 1 1 1-20 1-44 1-28 1 47 1 7 1-27 1-11 1-4 1-15 1 36 1 23 1 24 1-12 1 29 1 10 1 27 1 33 1 45 1 10 1 15 1 1 1 40 1 15 1 2 1-28 1 6 1 7 1-35 1 32 1 20 1 6 1 1 1-35 1 52 1 22 1-11 1-9 1 6 1-25 1-24 1 6 1 13 1 8 1-2 1-5 1-7 1 13 1 24 1-26 1 45 1-19 1-11 1-30V0Z"/>
<rect x="124.4" y="36.3" width="373.6" height="9.9" fill="#000"/>
<rect x="181.2" y="39" width="90" height="4.2" fill="#fff"/>
<rect x="365.8" y="39" width="90.5" height="4.2" fill="#fff"/>
<rect x="123.8" y="38.5" width="2.5" height="605" fill="#000"/>
<rect x="496.3" y="38.5" width="2.5" height="605" fill="#000"/>
<path d="M125.05,640 V643.7 H497.55 V640" fill="none" stroke="#000" stroke-width="2.5" stroke-linejoin="round"/>
<rect x="126.3" y="640.7" width="370" height="1.5" fill="#b4b4b4"/>
<ellipse cx="180.7" cy="645.0" rx="2.3" ry="3.3" fill="#000"/>
<ellipse cx="273" cy="645.0" rx="2.3" ry="3.3" fill="#000"/>
<rect x="364.3" y="643" width="2" height="4.4" fill="#000"/>
<rect x="456.8" y="643" width="2" height="4.4" fill="#000"/>
<text transform="translate(172.27,672.55) scale(1.2573,1)" font-size="25.35" fill="#000">0</text>
<text transform="translate(254.75,672.8) scale(1.2437,1)" font-size="25.71" fill="#000">12</text>
<text transform="translate(356.88,672.55) scale(1.2573,1)" font-size="25.35" fill="#000">0</text>
<text transform="translate(440.05,672.8) scale(1.2437,1)" font-size="25.71" fill="#000">12</text>
<text transform="translate(236.54,702.2) scale(1.1655,1)" font-size="32.75" fill="#000">Time (ZT)</text>
<line x1="119.6" y1="73.2" x2="124.3" y2="73.2" stroke="#000" stroke-width="1.7"/>
<line x1="119.6" y1="122.86" x2="124.3" y2="122.86" stroke="#000" stroke-width="1.7"/>
<line x1="119.6" y1="172.52" x2="124.3" y2="172.52" stroke="#000" stroke-width="1.7"/>
<line x1="119.6" y1="222.18" x2="124.3" y2="222.18" stroke="#000" stroke-width="1.7"/>
<line x1="119.6" y1="271.84" x2="124.3" y2="271.84" stroke="#000" stroke-width="1.7"/>
<line x1="119.6" y1="321.5" x2="124.3" y2="321.5" stroke="#000" stroke-width="1.7"/>
<line x1="119.6" y1="371.16" x2="124.3" y2="371.16" stroke="#000" stroke-width="1.7"/>
<line x1="119.6" y1="420.82" x2="124.3" y2="420.82" stroke="#000" stroke-width="1.7"/>
<line x1="119.6" y1="470.48" x2="124.3" y2="470.48" stroke="#000" stroke-width="1.7"/>
<line x1="119.6" y1="520.14" x2="124.3" y2="520.14" stroke="#000" stroke-width="1.7"/>
<line x1="119.6" y1="569.8" x2="124.3" y2="569.8" stroke="#000" stroke-width="1.7"/>
<line x1="119.6" y1="619.46" x2="124.3" y2="619.46" stroke="#000" stroke-width="1.7"/>
<path transform="translate(549.4,95) scale(0.99919,-0.1)" d="M0,0V403l1 13 1-2 1-13 1-44 1-58 1-20 1-10 1-18 1-11 1-3 1 6 1 38 1 13 1-15 1-15 1 25 1 50 1 16 1 0 1-64 1-60 1-16 1 3 1-6 1 5 1-8 1 32 1-3 1 1 1 61 1 54 1 49 1 3 1-63 1-8 1-25 1 1 1 15 1-2 1 38 1 35 1 28 1-65 1-67 1-30 1-13 1 0 1 8 1 16 1 26 1-30 1-20 1-8 1 3 1 22 1 22 1-1 1 24 1-35 1 5 1-26 1-22 1-36 1-41 1-8 1-22 1 21 1 15 1-6 1-24 1-18 1 35 1-25 1-12 1 18 1 56 1-6 1-22 1-23 1-27 1-5 1-12 1 59 1 11 1-18 1-14 1-11 1 8 1-8 1-14 1-26 1-21 1 11 1-2 1 60 1 15 1-37 1-1 1 9 1-20 1 53 1-8 1 0 1 5 1-27 1-10 1-9 1-21 1 42 1 48 1-40 1-22 1-36 1-8 1 62 1-3 1-20 1 39 1 40 1-10 1-13 1-23 1-38 1-31 1 14 1 61 1-29 1 4 1 16 1-21 1-11 1 56 1 51 1 45 1-18 1-8 1-46 1-29 1-30 1 41 1 60 1 8 1-30 1-15 1-28 1 29 1 11 1 23 1 3 1 30 1 29 1 59 1-10 1 29 1 33 1-33 1 56 1-25 1 9 1-17 1-43 1-12 1-32 1-35 1-8 1 17 1 23 1-4 1 4 1 29 1 19 1 20 1 58 1 13 1-30 1 16 1-67 1-13 1 32 1 18 1 36 1 31 1-15 1-6 1-70 1-32 1-27 1 24 1-2 1-54 1 19 1-26 1 7 1-31 1-5 1-3 1-36 1 4 1 4 1 52 1 25 1-1 1 1 1-24 1-19 1-9 1 22 1-3 1-20 1-14 1 18 1 44 1-8 1 5 1-27 1-18 1-8 1 27 1 27 1 62 1 37 1-15 1-37 1-63 1-4 1-27 1 34 1 42 1 23 1-20 1-31 1-20 1-14 1 29 1 27 1 22 1-42 1-18 1-1 1 51 1 13 1 16 1 0 1-6 1-26 1 19 1 7 1-28 1-16 1-15 1 7 1-23 1 0 1-17 1-31 1-31 1-35 1 4 1-27 1-24 1-17 1-9 1 6 1 26 1 74 1-36 1-27 1 34 1 45 1-24 1-13 1-24 1-7 1-9 1-22 1-2 1 34 1 5 1-13 1-12 1-15 1 6 1-17 1 14 1 63 1-37 1-14 1 24 1-34 1-24 1-1 1 50 1-22 1-5 1-10 1-8 1 11 1 24 1-10 1-7 1 21 1 12 1 45 1 2 1-25 1-19 1-39 1-35 1 7 1-3 1 23 1-23 1 37 1-23 1 6 1 41 1 55 1-17 1-17 1 0 1-18 1-26 1-21 1 58 1 28 1 75 1 30 1-23 1-47 1-8 1-55 1 27 1 73 1 14 1 74 1 19 1 0 1 7 1 7 1 4 1-11 1 3 1 19 1-21 1-1 1 16 1 7 1-16 1 30 1 5 1 5 1 2 1 1 1-7 1-42 1 23 1 7 1 12 1 26 1 1 1-2 1-5 1 2 1-22 1-24 1 18 1 14 1 8 1 4V0Z"/>
<line x1="781.83" y1="71.14" x2="781.83" y2="95" stroke="#c8c8c8" stroke-width="0.8"/>
<path transform="translate(549.4,144.62) scale(0.99919,-0.1)" d="M0,0V369l1 21 1 24 1-17 1-44 1-66 1-26 1-48 1 25 1 42 1 40 1-45 1-9 1 26 1 16 1-9 1-29 1-7 1 17 1 3 1 31 1 38 1-7 1 6 1-26 1-7 1 31 1-24 1-7 1-41 1-36 1 13 1 11 1 28 1 12 1-52 1 8 1 25 1 17 1 27 1-12 1-12 1-47 1-6 1-43 1 31 1-3 1 53 1 16 1 9 1 5 1-19 1-11 1-6 1 2 1 9 1-8 1 22 1-29 1 35 1-32 1-4 1-15 1-17 1-14 1-13 1 0 1-17 1-8 1-10 1-6 1-10 1 0 1-12 1-28 1-19 1-28 1 30 1-6 1-19 1-19 1-8 1 37 1 59 1 9 1 17 1-51 1-14 1-51 1 22 1 60 1 6 1-7 1-11 1-30 1 19 1 2 1-15 1-14 1-1 1-6 1 44 1-21 1-4 1 9 1 33 1-1 1-27 1-34 1-12 1-2 1 20 1 21 1-7 1-15 1-14 1 13 1 34 1 39 1 30 1-29 1-34 1-38 1 0 1-32 1 17 1 22 1 3 1-12 1 15 1 15 1 44 1-28 1-37 1-25 1 38 1 5 1-23 1-23 1 62 1 55 1 47 1 23 1-46 1-23 1-15 1 28 1 2 1 30 1 11 1 41 1 38 1-20 1-41 1 6 1-11 1 7 1 30 1 35 1 31 1 36 1-12 1 26 1 1 1-41 1-23 1-34 1-33 1 17 1 50 1 47 1 22 1-21 1-24 1 15 1-21 1 34 1 6 1 0 1-10 1-37 1-29 1-62 1 16 1-16 1 8 1-18 1 24 1 10 1-4 1 6 1 5 1 18 1-17 1 57 1 41 1 5 1-23 1-3 1-15 1 39 1-28 1-11 1-45 1-6 1 8 1 0 1-12 1-34 1 1 1-11 1 28 1-23 1 13 1 12 1 7 1 10 1 44 1 35 1 6 1-19 1 28 1 7 1-4 1-2 1 3 1-71 1-27 1-17 1 11 1-3 1 31 1 11 1-27 1-5 1-4 1-6 1 7 1-17 1-9 1-32 1-51 1-33 1-43 1-25 1-11 1-10 1-6 1 13 1-20 1 65 1 24 1-30 1-22 1-1 1 50 1-30 1-9 1 1 1-12 1-29 1-4 1 16 1 23 1 9 1-20 1-14 1 0 1-21 1 72 1 1 1-22 1 13 1 51 1 40 1-32 1-42 1-29 1-30 1 5 1-13 1-15 1-11 1 21 1 1 1-12 1 19 1 55 1-10 1-4 1-17 1 51 1 52 1-25 1-15 1-40 1-16 1 36 1-4 1-33 1 21 1 11 1-28 1-16 1 11 1 41 1 35 1 15 1-25 1-34 1-41 1-11 1-25 1 0 1 44 1 50 1 42 1-2 1-39 1-35 1-20 1 26 1 30 1 13 1-4 1 26 1 12 1 38 1 42 1 6 1 20 1 13 1 26 1-5 1-20 1 23 1 23 1 18 1 10 1 33 1 16 1 5 1-6 1 10 1 0 1-13 1 4 1-23 1 22 1 6 1-4 1-9 1-14 1 6 1 0 1-23 1-29 1-1 1-37 1-6 1-7 1 17 1 33 1 11 1 8 1-34 1-28 1 1 1-12 1-14V0Z"/>
<line x1="596.59" y1="115.88" x2="596.59" y2="144.62" stroke="#c8c8c8" stroke-width="0.8"/>
<path transform="translate(549.4,194.24) scale(0.99919,-0.1)" d="M0,0V217l1-2 1 14 1 7 1 20 1 9 1-27 1 2 1-17 1-12 1 24 1 35 1 66 1 64 1 16 1 5 1-28 1-70 1-46 1-53 1-23 1-2 1 8 1 14 1 5 1 8 1 19 1-30 1 12 1-4 1 14 1-13 1 8 1 2 1 28 1 13 1 71 1 29 1 27 1 15 1-26 1-40 1-19 1-47 1-43 1-31 1 19 1-21 1 10 1-9 1-30 1 33 1-3 1-35 1 8 1-47 1-16 1-28 1 30 1-11 1-11 1-20 1-25 1-5 1 16 1 3 1-10 1 3 1-2 1-8 1 39 1 33 1-10 1-8 1-32 1 4 1 49 1-23 1-27 1-13 1-16 1 56 1 39 1-1 1-16 1-10 1-16 1 33 1 23 1 18 1-7 1-27 1-47 1 33 1 2 1 8 1-30 1-7 1-21 1-17 1 52 1-14 1-19 1-12 1 3 1 0 1 68 1 27 1 20 1-33 1-20 1-27 1 26 1-6 1-3 1-17 1-4 1-22 1-6 1 42 1 46 1 30 1 4 1-17 1-24 1-54 1 3 1 37 1-22 1-14 1 19 1 46 1 23 1 5 1-58 1 0 1-23 1 10 1 5 1 3 1 30 1 19 1 8 1 36 1 44 1 24 1 29 1 4 1-11 1-25 1 37 1 39 1 25 1 14 1-4 1 6 1 7 1 21 1-24 1-6 1-56 1-52 1 54 1 26 1 30 1 10 1 4 1-3 1-5 1-18 1-35 1 2 1 4 1 4 1-19 1 11 1 30 1 5 1 9 1-7 1-3 1-60 1-28 1 8 1-1 1 44 1-10 1 3 1-3 1-17 1 17 1 15 1-3 1 14 1 17 1-8 1-38 1-8 1 14 1-9 1 25 1-22 1-43 1-34 1-41 1-18 1-19 1-28 1-68 1 50 1 39 1 38 1 57 1 9 1-3 1-57 1-51 1-15 1-30 1 40 1 49 1 47 1 39 1 62 1-46 1-27 1-24 1-50 1-42 1-35 1-55 1-28 1 66 1-5 1-12 1 25 1 11 1 63 1 23 1 18 1-61 1-14 1-16 1-34 1-6 1-43 1-26 1 12 1 7 1 46 1-17 1-8 1-16 1-18 1 9 1-12 1 12 1 19 1-15 1-5 1-5 1-12 1 35 1 58 1-17 1-19 1-32 1 24 1 20 1 35 1-24 1-16 1-25 1-10 1 53 1 1 1-26 1 1 1-13 1 19 1-23 1-10 1-20 1 4 1 4 1 14 1-4 1 1 1-18 1-7 1 51 1-4 1 53 1-1 1-33 1-27 1-30 1 22 1 10 1-8 1-7 1 51 1 43 1 19 1-35 1-14 1-8 1-17 1-36 1-19 1 12 1-2 1 52 1 14 1-49 1-25 1 7 1 58 1 42 1 23 1-20 1-23 1-48 1-43 1 40 1 39 1 4 1 57 1 18 1-16 1-53 1-36 1-45 1 48 1 74 1 43 1 102 1 15 1 17 1-10 1 7 1 20 1-15 1 22 1-14 1 5 1-11 1 24 1-9 1 13 1 3 1 18 1-7 1-1 1 3 1-2 1-23 1-11 1 14 1 1 1-39 1 20 1 21 1 11 1 9 1-10 1-20 1-9 1 1 1-22V0Z"/>
<path transform="translate(549.4,243.86) scale(0.99919,-0.1)" d="M0,0V301l1 41 1-45 1 2 1 35 1-7 1 66 1-36 1 15 1 15 1-53 1-41 1 7 1 6 1-3 1-34 1-33 1-6 1-32 1-38 1-7 1-7 1 8 1-13 1-11 1 61 1 48 1 36 1 21 1-10 1-17 1-47 1-38 1-14 1-7 1 49 1 54 1 27 1 80 1-19 1-27 1-45 1-25 1-40 1-48 1-37 1-5 1-6 1-17 1 2 1-10 1 26 1 56 1 33 1 22 1 11 1-26 1-22 1-18 1-33 1-12 1-52 1 3 1 63 1-7 1-34 1-12 1-1 1-19 1-2 1 23 1-23 1 72 1-20 1-49 1-15 1 32 1-19 1-14 1-2 1-18 1 38 1 34 1 39 1 4 1-9 1-31 1-13 1-34 1 9 1 51 1 7 1-17 1-26 1-14 1 36 1 52 1-29 1 3 1-27 1-11 1 0 1-21 1 49 1-30 1-24 1 14 1 32 1 24 1-38 1 14 1-13 1 4 1 2 1 16 1-23 1 22 1 36 1 41 1-17 1-26 1-2 1-22 1-10 1-29 1-8 1 0 1-14 1-5 1 15 1-6 1-2 1 14 1 63 1 52 1-3 1-40 1-40 1 17 1-40 1-18 1-3 1 58 1 12 1 62 1 11 1-3 1-60 1 49 1 52 1 53 1 69 1-22 1 8 1-3 1-5 1 2 1 42 1-7 1 29 1-9 1 8 1-9 1-5 1-1 1-24 1 16 1-21 1 19 1-50 1-12 1-41 1-4 1 4 1 35 1 47 1-8 1 37 1-9 1-9 1 8 1 8 1-30 1 13 1-32 1 29 1 9 1 1 1-19 1-13 1-65 1 1 1-55 1 18 1-61 1-88 1-19 1 65 1 26 1 66 1 34 1 55 1 33 1 12 1-32 1-52 1-37 1-38 1-45 1-22 1-38 1-2 1 50 1 60 1 19 1-7 1-34 1-25 1-45 1 15 1 50 1 77 1 27 1 72 1-10 1 17 1-66 1-29 1-74 1-4 1-33 1-62 1 16 1 66 1 31 1 38 1-6 1-10 1-27 1-38 1-35 1-26 1-26 1 7 1 5 1 0 1-34 1 24 1-6 1 6 1-24 1-7 1 42 1 36 1 74 1-19 1-24 1-47 1-32 1-22 1-6 1 0 1 8 1 13 1-21 1-6 1 15 1 51 1 22 1 0 1-29 1-35 1 36 1-3 1-16 1 38 1 17 1-15 1-30 1-16 1-6 1 6 1 7 1-20 1-16 1-17 1 4 1 44 1 31 1 29 1 57 1-4 1-29 1 1 1-45 1-36 1-23 1-6 1 19 1-15 1-9 1 0 1-9 1 55 1 21 1 38 1 31 1 4 1 58 1-10 1 6 1-44 1-13 1-44 1-20 1-10 1-7 1-21 1 54 1-21 1-15 1-35 1 34 1 29 1 28 1 14 1 5 1-41 1-13 1 12 1 15 1 31 1 38 1 35 1-16 1 33 1 20 1 11 1 59 1-15 1 1 1 47 1 13 1-21 1-26 1-55 1 24 1-38 1 43 1 46 1 8 1-2 1 6 1 2 1 7 1-13 1-39 1-36 1 20 1 37 1-46 1-34 1 7 1 11 1 14 1 11 1 6 1 10 1-14 1-2V0Z"/>
<path transform="translate(549.4,293.48) scale(0.99919,-0.1)" d="M0,0V287l1 15 1-5 1-6 1-29 1-57 1 22 1-33 1-31 1-23 1-17 1 22 1 61 1 49 1 37 1 42 1 41 1-10 1-8 1-70 1-17 1-38 1-27 1-44 1-15 1 0 1-21 1 38 1 44 1 39 1 7 1-33 1-18 1-49 1-38 1 43 1 53 1 68 1 52 1 38 1 28 1-21 1-49 1-15 1-37 1-52 1-53 1 2 1 27 1 73 1-3 1 15 1-42 1-40 1-18 1-31 1-32 1-53 1 6 1-7 1 38 1-16 1-14 1-13 1 7 1-3 1-7 1 65 1-29 1 49 1 36 1 11 1 5 1-38 1-27 1-33 1-22 1 30 1 22 1-27 1-16 1-11 1-14 1-22 1 66 1 11 1-4 1-26 1 17 1 46 1 15 1 0 1-35 1-37 1-1 1-13 1-11 1 34 1-6 1-4 1-3 1 19 1-33 1 33 1 46 1 47 1 36 1-36 1-9 1-23 1-30 1-44 1-28 1 11 1-5 1 13 1-16 1 4 1 0 1 49 1 36 1 32 1 35 1 63 1-2 1 9 1-29 1-33 1-26 1-27 1-22 1-30 1-49 1 43 1-18 1-8 1 22 1 27 1 40 1 4 1-15 1-20 1-20 1 14 1 35 1 51 1 12 1-8 1 10 1 28 1 11 1 50 1 24 1 45 1 36 1-10 1-17 1-3 1-36 1 14 1-9 1 8 1-30 1 34 1-5 1 46 1-10 1 14 1-25 1-16 1-65 1-8 1 29 1 8 1 10 1-18 1 52 1-21 1-24 1 21 1 30 1-10 1-8 1-15 1-48 1-11 1-25 1 33 1-9 1 25 1 0 1-66 1 15 1-64 1-50 1-59 1 22 1 42 1 57 1 33 1 33 1 55 1 27 1 2 1-38 1-16 1-28 1-58 1-8 1-38 1-56 1 51 1 57 1-5 1-31 1-29 1-42 1-27 1-27 1-6 1 56 1 36 1 60 1 25 1 54 1 33 1 4 1-6 1-2 1-49 1-25 1-24 1-49 1-25 1-28 1-41 1-48 1 6 1 34 1-2 1 17 1 12 1 49 1 44 1 9 1-23 1-42 1-40 1-30 1-12 1-12 1 11 1 30 1-5 1-16 1 5 1-11 1-3 1 32 1-4 1-15 1-14 1-13 1 18 1 7 1 32 1 8 1-9 1 10 1-7 1-24 1 28 1-8 1 33 1-23 1-36 1-22 1-7 1 3 1 36 1-5 1-20 1-5 1-16 1 28 1-8 1 34 1 51 1 8 1 48 1 12 1-52 1-25 1-33 1-11 1-37 1 14 1-13 1-10 1 21 1 39 1 35 1 48 1 12 1-33 1-31 1-7 1-6 1-30 1-6 1-4 1 2 1-8 1 23 1 42 1 49 1 30 1 58 1-13 1-38 1-16 1-54 1-22 1-14 1-48 1 22 1 70 1 26 1 15 1-12 1-52 1-25 1 65 1 47 1 89 1-12 1 17 1 51 1-10 1 25 1-52 1 6 1-13 1 27 1 28 1 6 1-3 1-8 1 11 1-3 1-4 1 9 1-17 1-12 1 24 1 6 1 6 1 7 1-6 1-8 1 10 1 4 1-8 1 0 1-64 1-13 1 2 1-25 1-7 1-2V0Z"/>
<path transform="translate(549.4,343.1) scale(0.99919,-0.1)" d="M0,0V322l1 40 1-15 1-20 1-34 1-50 1 9 1 4 1 34 1-17 1 8 1 8 1 18 1 39 1 19 1 40 1-8 1-3 1-64 1-17 1 0 1 5 1 19 1-46 1-33 1-12 1 18 1 6 1 35 1-15 1 0 1-49 1 10 1 24 1-2 1 37 1 14 1 32 1 53 1 11 1-8 1-7 1-34 1-38 1-38 1-57 1-28 1-28 1-43 1-26 1-39 1 43 1-6 1-2 1-12 1-32 1 73 1 8 1 54 1 36 1-27 1-21 1-30 1 13 1-16 1-5 1-21 1-2 1-3 1-21 1-11 1 13 1 4 1-28 1-3 1-1 1-1 1 1 1 22 1 0 1 5 1-1 1-3 1-17 1-4 1-12 1 26 1 5 1 13 1 24 1-24 1-3 1-18 1 9 1 11 1 26 1-21 1-6 1-7 1-12 1 15 1-16 1 22 1 54 1 33 1 38 1-20 1-43 1-51 1-25 1-35 1-7 1 42 1-1 1 0 1-24 1 59 1 39 1 46 1-17 1-33 1-33 1-52 1-45 1 53 1 59 1-24 1-12 1-7 1 76 1 39 1 54 1 4 1-12 1-60 1-39 1-41 1 0 1 25 1-14 1-21 1-7 1 11 1 57 1 51 1 18 1-31 1-45 1 31 1 95 1 79 1 31 1 2 1 8 1-23 1 3 1 2 1-11 1 28 1 10 1 7 1-4 1-7 1-3 1-9 1-8 1 29 1 8 1-14 1 19 1-16 1-19 1 5 1-16 1 14 1-3 1 12 1-9 1-19 1-3 1 1 1-6 1 24 1-3 1 9 1-1 1-4 1 7 1-20 1-2 1-38 1-56 1-61 1-28 1-46 1-64 1-16 1 24 1 13 1 57 1 76 1 47 1 55 1-7 1-35 1-58 1-36 1-44 1-49 1 45 1 51 1 1 1 33 1-60 1-51 1-23 1-13 1 17 1-11 1-33 1 63 1 61 1 84 1-1 1 81 1 26 1-15 1-27 1-61 1-46 1-16 1-60 1-53 1-18 1-1 1 0 1-11 1 17 1 7 1 61 1 31 1 3 1-21 1-29 1-44 1-24 1-6 1-11 1-9 1-11 1 4 1 43 1-10 1 2 1-40 1-1 1 25 1 36 1-9 1-3 1-21 1-1 1 3 1 53 1 46 1 83 1 6 1-25 1-56 1-47 1-29 1-6 1-14 1-19 1 17 1 71 1-18 1-27 1-13 1-27 1 30 1-3 1-11 1-17 1 45 1 40 1 45 1 21 1 9 1-18 1-16 1-16 1-41 1-31 1 19 1-24 1-25 1-12 1-9 1 28 1 14 1-24 1-22 1 0 1 53 1 56 1 53 1 32 1-28 1-62 1-8 1-42 1-27 1 17 1 0 1-17 1 20 1 90 1 36 1 38 1-41 1-28 1-44 1-22 1-32 1-3 1 64 1 32 1 10 1-14 1-43 1 15 1 22 1 71 1 39 1 67 1 35 1 15 1-17 1 6 1-31 1 6 1 5 1 27 1 5 1-23 1 12 1-17 1-24 1 50 1 2 1 12 1 14 1-16 1-7 1-26 1 18 1-5 1-3 1 18 1-5 1 2 1 5 1-34 1 18 1 2 1-12 1-21 1 23 1-8V0Z"/>
<line x1="907.78" y1="302.51" x2="907.78" y2="343.1" stroke="#c8c8c8" stroke-width="0.8"/>
<path transform="translate(549.4,392.72) scale(0.99919,-0.1)" d="M0,0V372l1 28 1-8 1 14 1-54 1-55 1-15 1-27 1-56 1-60 1-45 1-17 1 68 1 43 1 73 1 37 1 25 1 2 1-18 1-28 1-52 1-59 1-24 1-35 1 20 1 59 1 54 1-5 1-24 1-30 1-16 1-58 1-7 1 30 1-9 1 6 1 67 1 98 1 22 1 28 1 36 1-7 1-62 1-44 1-22 1-27 1-51 1-25 1-32 1 6 1 10 1-5 1-20 1 16 1 44 1 39 1 50 1-34 1-27 1-26 1-32 1-47 1 2 1 8 1 18 1-11 1-11 1-5 1-11 1 15 1 20 1 7 1-15 1 21 1 19 1 4 1-24 1 7 1-23 1 42 1 66 1 45 1-28 1-24 1-52 1-24 1 2 1 4 1-20 1-15 1-21 1-19 1 4 1 6 1 47 1-4 1-27 1-6 1 17 1 28 1-18 1 6 1 31 1 35 1 44 1 29 1-25 1-27 1-38 1-31 1-18 1 0 1 30 1-3 1-11 1-31 1 1 1-19 1 8 1 38 1 39 1 43 1 31 1-9 1-21 1-24 1-33 1-41 1-20 1-21 1-13 1 8 1 40 1 59 1 54 1 27 1 9 1-33 1-48 1-42 1-13 1-23 1 56 1 2 1 57 1 24 1-35 1-31 1 76 1-17 1 71 1 35 1 26 1 21 1-9 1 35 1 22 1 0 1-16 1 8 1-57 1 51 1 12 1-12 1 13 1-8 1 4 1-9 1 7 1 9 1-8 1-19 1 14 1-6 1-25 1-17 1 42 1 11 1 7 1 1 1-8 1-44 1 19 1-32 1 44 1-18 1 2 1-6 1-8 1-16 1-21 1-83 1-69 1-83 1 75 1 40 1 62 1 45 1-6 1 21 1-47 1-52 1-26 1-33 1 39 1 40 1 8 1-46 1-41 1-34 1-36 1-21 1-18 1-12 1 6 1 41 1 1 1-9 1-4 1 54 1 36 1 73 1 25 1 13 1-8 1-41 1-21 1-37 1-29 1-44 1-20 1-18 1 7 1-14 1-7 1-7 1 51 1-13 1-5 1-13 1-9 1 29 1 37 1 53 1-13 1-19 1-16 1-29 1-29 1 10 1-5 1-25 1-11 1 5 1 54 1 19 1-6 1-27 1-14 1-12 1 13 1 24 1-7 1-4 1 3 1-33 1 2 1 92 1-8 1-24 1-20 1-22 1 23 1 46 1 27 1-10 1-32 1-41 1-33 1 49 1 16 1-25 1-13 1-17 1-10 1 4 1 0 1 37 1-6 1 25 1 24 1 37 1-21 1-28 1-24 1-4 1 30 1-12 1-18 1-27 1-10 1 36 1-15 1-11 1-19 1 54 1 44 1-15 1 39 1 24 1 23 1-33 1-29 1-32 1-26 1-38 1 43 1-2 1-10 1 73 1 15 1 7 1-39 1-46 1-24 1-2 1 54 1-26 1 42 1 28 1-13 1-33 1-24 1-32 1 76 1 76 1 69 1 44 1 9 1 16 1-16 1 13 1-14 1 14 1 29 1 1 1-6 1 17 1 7 1-14 1 10 1-39 1-19 1 27 1-10 1-15 1 21 1-10 1-16 1 52 1-7 1 17 1-16 1-35 1 7 1 7 1-17 1 12 1-28 1-18V0Z"/>
<line x1="723.43" y1="355.03" x2="723.43" y2="392.72" stroke="#c8c8c8" stroke-width="0.8"/>
<path transform="translate(549.4,442.34) scale(0.99919,-0.1)" d="M0,0V372l1 50 1-11 1-11 1-54 1-42 1-19 1-68 1-20 1-42 1-28 1 79 1 83 1 80 1-23 1-45 1-55 1-50 1-15 1 53 1 64 1 4 1-38 1-29 1-34 1-19 1-30 1-50 1-19 1-1 1 0 1 37 1 14 1-19 1 15 1 55 1 40 1 57 1 37 1-25 1-5 1-51 1-12 1-24 1-53 1-19 1-11 1 5 1-33 1 29 1-5 1-13 1 6 1-28 1-3 1 49 1-3 1 15 1 55 1 12 1 3 1-42 1-31 1-17 1-11 1 8 1 23 1 6 1-20 1-5 1-17 1-7 1-7 1 33 1-22 1 11 1-29 1 4 1 8 1 15 1-11 1-8 1-19 1-3 1 28 1-8 1-7 1 32 1 38 1 41 1-4 1-34 1-35 1-26 1-3 1 44 1 34 1-20 1-20 1-35 1-15 1 5 1 44 1-9 1-3 1 42 1 33 1-3 1-28 1-11 1-55 1 7 1-7 1-8 1 15 1 3 1-22 1-8 1-9 1 7 1 33 1 27 1 12 1 47 1 47 1-14 1 11 1-64 1-13 1-45 1-18 1 45 1-35 1-4 1 62 1 32 1 11 1-8 1-41 1-31 1 3 1-21 1-22 1 9 1 49 1 49 1 24 1 1 1-30 1-49 1 107 1 45 1 50 1 34 1-4 1 19 1-20 1 43 1 1 1-13 1-30 1-5 1-50 1 6 1 10 1 15 1 60 1-16 1-7 1-11 1-57 1 21 1 33 1 6 1 35 1-33 1-11 1-21 1 35 1 25 1 16 1-10 1-2 1 13 1 0 1-19 1 0 1-28 1 35 1 5 1-4 1 12 1-54 1-69 1-88 1-68 1-69 1 35 1 49 1 10 1-5 1-28 1-1 1 24 1 50 1 67 1 43 1 18 1 23 1-46 1-41 1-23 1 113 1-10 1 17 1-60 1-36 1-52 1-59 1-15 1-18 1-17 1-26 1 59 1 36 1 51 1 66 1 24 1-22 1-52 1-64 1-22 1-23 1-49 1 2 1 39 1-15 1-38 1-12 1 52 1-26 1-10 1-17 1 36 1 0 1-17 1 42 1 37 1-4 1-23 1-21 1 0 1 6 1-9 1-13 1 39 1 46 1 27 1-23 1-51 1-14 1-39 1-4 1 64 1-24 1 1 1-23 1 17 1 5 1-19 1-19 1 53 1 18 1-37 1 18 1 55 1-1 1-9 1-15 1-32 1-43 1 7 1 62 1-23 1 8 1 49 1 65 1 32 1-21 1-36 1-42 1-50 1-58 1-5 1 6 1 38 1 7 1-24 1 15 1 48 1-7 1-35 1-8 1-8 1 35 1 79 1 23 1-18 1 4 1-50 1-46 1-36 1 14 1-5 1-33 1 73 1 69 1 59 1 18 1-4 1-36 1-30 1-60 1-39 1-40 1 10 1 72 1 52 1 25 1-40 1-38 1-26 1 78 1 35 1 23 1 54 1 76 1-30 1 18 1-22 1-4 1-18 1 16 1 57 1 0 1-8 1 7 1 12 1-8 1 11 1 0 1 15 1-19 1-2 1-14 1 0 1-9 1 10 1-1 1 11 1-1 1-15 1-8 1-6 1-7 1 14 1 2 1 36 1-33 1-7V0Z"/>
<path transform="translate(549.4,491.96) scale(0.99919,-0.1)" d="M0,0V345l1-3 1 7 1-8 1-8 1 13 1-11 1 26 1 18 1 29 1-53 1-59 1-68 1-80 1-66 1 17 1-22 1 4 1 60 1 44 1 74 1 43 1 38 1-21 1-25 1-52 1 22 1 59 1 48 1 4 1-40 1-21 1-53 1-23 1-63 1-45 1-41 1 6 1 31 1 2 1 44 1 68 1 32 1 37 1-10 1-54 1-41 1-27 1-37 1-16 1-16 1-8 1 20 1 15 1-29 1 17 1-22 1-15 1-9 1 40 1-1 1-26 1-4 1 60 1 5 1-27 1-42 1-30 1 10 1-2 1 48 1 53 1 11 1 27 1 1 1-37 1-42 1-11 1-12 1-15 1-10 1-22 1 3 1 28 1 32 1-1 1 0 1 17 1 11 1 42 1 16 1-29 1-14 1-54 1 42 1-4 1-51 1-11 1-17 1 7 1 46 1 74 1 49 1 56 1-19 1-17 1-72 1-26 1-56 1-3 1-16 1 41 1-24 1 1 1-23 1-2 1-20 1 17 1 33 1 44 1 68 1 36 1 18 1-18 1-44 1-59 1-34 1-13 1-15 1 30 1 27 1 36 1 58 1 64 1-20 1-30 1-37 1-44 1-54 1-4 1 8 1 32 1 30 1 62 1-28 1-54 1 52 1 17 1 50 1 23 1 28 1 39 1 32 1-25 1-14 1 7 1 4 1-20 1 7 1-23 1 34 1 21 1-17 1-31 1 34 1 3 1 37 1-3 1 5 1-6 1 1 1 19 1-14 1-18 1-14 1 2 1 10 1-9 1 25 1-56 1 31 1-20 1 14 1-23 1 28 1-14 1 0 1 0 1 21 1 13 1 0 1-2 1-9 1-36 1-118 1-70 1-58 1 5 1 21 1 79 1 36 1 42 1 45 1 37 1 25 1-60 1-57 1-21 1-25 1-43 1-58 1-10 1 2 1 54 1 32 1-25 1-26 1-12 1 66 1 37 1 79 1 10 1 8 1-39 1-51 1-13 1-56 1-28 1-42 1 0 1-35 1 2 1-35 1 38 1 16 1-8 1 5 1-36 1 16 1 0 1-12 1-15 1 55 1 5 1-5 1 43 1 61 1 37 1 15 1-35 1-56 1-30 1-63 1 23 1-17 1-3 1-14 1-20 1 10 1 59 1-14 1-22 1 19 1 51 1 21 1 6 1-45 1-5 1-19 1-8 1-37 1-12 1 10 1 20 1-9 1-8 1 2 1-16 1 59 1-14 1-19 1 36 1 17 1-21 1-31 1-36 1 42 1 73 1 55 1-4 1-22 1-26 1-47 1 24 1-14 1-24 1-3 1-10 1 1 1-18 1-6 1-18 1 28 1 56 1 11 1 51 1 50 1 21 1-57 1-33 1-48 1-32 1-14 1-6 1-5 1 25 1 3 1 42 1 67 1 16 1-18 1-36 1-45 1-32 1-16 1-4 1 65 1 73 1 12 1 9 1-45 1-39 1-53 1 7 1 59 1 81 1 35 1 82 1-29 1 54 1-26 1 15 1-15 1 38 1-26 1-21 1 3 1 13 1-8 1 4 1-13 1 8 1-18 1 3 1 14 1 8 1-12 1 34 1-13 1 0 1 11 1 11 1 22 1-6 1 1 1-5 1 5 1-7 1-14 1 7V0Z"/>
<path transform="translate(549.4,541.58) scale(0.99919,-0.1)" d="M0,0V357l1 61 1-15 1 4 1-45 1-57 1-20 1-24 1-57 1-18 1-11 1-25 1-15 1 17 1 51 1 74 1 62 1 35 1 3 1-27 1-52 1-8 1 62 1-16 1-44 1-42 1-44 1-54 1-64 1 74 1 9 1-25 1-10 1 25 1 47 1 54 1 31 1 32 1 44 1-4 1-72 1-7 1-34 1-37 1-28 1-54 1-36 1-15 1 40 1 0 1-14 1-3 1-13 1 14 1 4 1-13 1-3 1 2 1-30 1 15 1 51 1-9 1 69 1 70 1-9 1-16 1-77 1-22 1-44 1-19 1 5 1-20 1-6 1-10 1 24 1 23 1 0 1 16 1 48 1 25 1 10 1-37 1 10 1-6 1-23 1-15 1-14 1-22 1-23 1-3 1 6 1 25 1-13 1 5 1-9 1-5 1 3 1 24 1-34 1 2 1-9 1 47 1 60 1 48 1 25 1-15 1-33 1-51 1-51 1 3 1-38 1 45 1 53 1-27 1-28 1-27 1-11 1 1 1 24 1 80 1 45 1 58 1 6 1-38 1-23 1-46 1-30 1-52 1-20 1 22 1 22 1-16 1 42 1 65 1 35 1-4 1-43 1-37 1-13 1-27 1-29 1-13 1 71 1 63 1 57 1 9 1-24 1-50 1 3 1 39 1 60 1 45 1 72 1 4 1 12 1 1 1-11 1 2 1 8 1-3 1-1 1-21 1-36 1 61 1-13 1 2 1 12 1 23 1-8 1 8 1-10 1-19 1 1 1 21 1-10 1 2 1 12 1-8 1-9 1-2 1 1 1 6 1-15 1-14 1 15 1-7 1 11 1-14 1 22 1 0 1-5 1-36 1-30 1-139 1-85 1-10 1 8 1-6 1 26 1 47 1 45 1 48 1 48 1 45 1-37 1-35 1-15 1-14 1-60 1-15 1-43 1-51 1-40 1 24 1 37 1-23 1 44 1 54 1 38 1 64 1 16 1-6 1-44 1-40 1-52 1-21 1-36 1-40 1 35 1 39 1 71 1 31 1 44 1 11 1-14 1-45 1-45 1-20 1-33 1-20 1-6 1-12 1 24 1-27 1-27 1-8 1 8 1-20 1-4 1 20 1-24 1-2 1 6 1 32 1-10 1 38 1 54 1 29 1 14 1 23 1-29 1-31 1-28 1-34 1-39 1 16 1-9 1-21 1 10 1 57 1-14 1-13 1-13 1 49 1-13 1 20 1 18 1 15 1 9 1-38 1-22 1-21 1-7 1 46 1-32 1-7 1-21 1 24 1-7 1-16 1 35 1-28 1-3 1 33 1 44 1 25 1 3 1-21 1-43 1-15 1-25 1-4 1-19 1 3 1-14 1 12 1 49 1-2 1-28 1-8 1 38 1 40 1 54 1 2 1-15 1-34 1-22 1-33 1-28 1-38 1 6 1 46 1 35 1-3 1 35 1 44 1 56 1-29 1-11 1-47 1-50 1-52 1 125 1 54 1 68 1 46 1 26 1-20 1-16 1 50 1-1 1-12 1-72 1 18 1-25 1 32 1-12 1-1 1-14 1 47 1 11 1 23 1 0 1-6 1-2 1 0 1 13 1 8 1-6 1-2 1 2 1-15 1 8 1-8 1-24 1-10 1 8 1 29 1-17 1 8V0Z"/>
<path transform="translate(549.4,591.2) scale(0.99919,-0.1)" d="M0,0V313l1 38 1-12 1 7 1-41 1-50 1-8 1-15 1-39 1-36 1-36 1-30 1 57 1 51 1 72 1 43 1 57 1-2 1 25 1-54 1-27 1-54 1-25 1-29 1-57 1-32 1 3 1 1 1-9 1-18 1-9 1 57 1 54 1 49 1 56 1 40 1 1 1-23 1-59 1-15 1-43 1-46 1-34 1-2 1 50 1 49 1 31 1 70 1-16 1-30 1-17 1-32 1-7 1-46 1-31 1-46 1-25 1-5 1 41 1-13 1-14 1-1 1 30 1 55 1-8 1-21 1 14 1-12 1-31 1-15 1 16 1 41 1 48 1 48 1 3 1-19 1-18 1-42 1-22 1-23 1-58 1 9 1-9 1 25 1-9 1 7 1 63 1-13 1-22 1-43 1 9 1 46 1 47 1 4 1-23 1-12 1-12 1-23 1-55 1 3 1-3 1 30 1-4 1 0 1-20 1-7 1 64 1-13 1 23 1 40 1 39 1-7 1-4 1-49 1-4 1-33 1 39 1-15 1-21 1-12 1-16 1-6 1 13 1 11 1-19 1 27 1 39 1 44 1 50 1-1 1-8 1-47 1-32 1-27 1-12 1-15 1 1 1 18 1 54 1 53 1 63 1-16 1-56 1-15 1 56 1 19 1-10 1 28 1 38 1 35 1 25 1-29 1 51 1-22 1 10 1-5 1-22 1-17 1 27 1 8 1-1 1 8 1 7 1 9 1-2 1 8 1 5 1-29 1-1 1-66 1 25 1 13 1 46 1 4 1-29 1 17 1-24 1 10 1-10 1-33 1 53 1-36 1-24 1-11 1 20 1 25 1 21 1-11 1 47 1-69 1 6 1 5 1-16 1 9 1-50 1-48 1-38 1-65 1-57 1-10 1-1 1-7 1-7 1-23 1 9 1 22 1 56 1 79 1 50 1 108 1 8 1-44 1-15 1 32 1-4 1-59 1-52 1-65 1-50 1 66 1 21 1 73 1 49 1-7 1-16 1-38 1-22 1-15 1-65 1-18 1-66 1-4 1-18 1-6 1 16 1 34 1 28 1 28 1 50 1 41 1-33 1-26 1-21 1-32 1-36 1 0 1-1 1 2 1-16 1-6 1-24 1-7 1-11 1 28 1 52 1-14 1 60 1 0 1-10 1-24 1 9 1-17 1-15 1-15 1-24 1-12 1 4 1 6 1-6 1 6 1 10 1 5 1-18 1 7 1-15 1 8 1 38 1-8 1-21 1 55 1 32 1-18 1-13 1-25 1-20 1 17 1-7 1-8 1 9 1-2 1-4 1 8 1 32 1 53 1-14 1-17 1-22 1-26 1 0 1 4 1-9 1-24 1-22 1 34 1 49 1-13 1-10 1-13 1 7 1 16 1 35 1 29 1 7 1-31 1-22 1-32 1 2 1 1 1 9 1 26 1 63 1-15 1-30 1-39 1-11 1-27 1 45 1 41 1 4 1 14 1 13 1 7 1 12 1 40 1 21 1 6 1 36 1 4 1 49 1 14 1-39 1 30 1-2 1 8 1 2 1-1 1-5 1-16 1-7 1 17 1-2 1 4 1 29 1 7 1-6 1-17 1 8 1 16 1 4 1 3 1 0 1-17 1-8 1-19 1 8 1 14 1-10 1-20 1-8 1-22V0Z"/>
<path transform="translate(549.4,640.82) scale(0.99919,-0.1)" d="M0,0V376l1 21 1 11 1 1 1-12 1-32 1 32 1 15 1 3 1-48 1-67 1-81 1-22 1-40 1-56 1-11 1 34 1 48 1-16 1-22 1-16 1 66 1 46 1 54 1 78 1-2 1 38 1-59 1-22 1 60 1-27 1-81 1-50 1-70 1 21 1 54 1 27 1 70 1 33 1-13 1-20 1-35 1-35 1-37 1-22 1-49 1-26 1-22 1-2 1 17 1-29 1 37 1 44 1 52 1 46 1 21 1-47 1-44 1-10 1-47 1-37 1-12 1-9 1-5 1 23 1 10 1-18 1-30 1 5 1 2 1 49 1 53 1 27 1 2 1-47 1-25 1-26 1 16 1 36 1-29 1-19 1-4 1-18 1-8 1 32 1-4 1-7 1-7 1-13 1 6 1 48 1-14 1-20 1-14 1 43 1 69 1 9 1-17 1-44 1-26 1-25 1-4 1-16 1 11 1 13 1 13 1 8 1 52 1 12 1 43 1-18 1-48 1-35 1-15 1 2 1 12 1 17 1 0 1-12 1-29 1-2 1-28 1 4 1 43 1 14 1 64 1 24 1 1 1-34 1-24 1-42 1 12 1-8 1 16 1 37 1 59 1-39 1-9 1-41 1-33 1-24 1-23 1 19 1 62 1 60 1 12 1 7 1 26 1 41 1 21 1 55 1-8 1 19 1 35 1 1 1 10 1 4 1-7 1 2 1-4 1-3 1 11 1-2 1 15 1 13 1 5 1-25 1-10 1 10 1-6 1 23 1-28 1-14 1 7 1 9 1-2 1 2 1 1 1-2 1-16 1-13 1 4 1-18 1-1 1 12 1-11 1 21 1-21 1-13 1-7 1 1 1-1 1-30 1-57 1-65 1 66 1 48 1-12 1-24 1-60 1-37 1-63 1-31 1 56 1 69 1 57 1 74 1-4 1-39 1-17 1-49 1-52 1-47 1-43 1-13 1 0 1 48 1 68 1 62 1 43 1 32 1 0 1-52 1-31 1-48 1-38 1-51 1 11 1 56 1 64 1-1 1-19 1-24 1-62 1-44 1-16 1-3 1 7 1 30 1 38 1 57 1 38 1 18 1-57 1-30 1-34 1-18 1-19 1-10 1 10 1-18 1 5 1-1 1-2 1-14 1-1 1 51 1 49 1 22 1 9 1-55 1 6 1-14 1-46 1 3 1-19 1-10 1 78 1-11 1-28 1-24 1 80 1-12 1-30 1-7 1 7 1 44 1-27 1-17 1-16 1-8 1-4 1-13 1 43 1 19 1-7 1-33 1 22 1 21 1-22 1 4 1-31 1-9 1 19 1 30 1-14 1-2 1-18 1-18 1 6 1 4 1 56 1-20 1-13 1-13 1-17 1-6 1-12 1 33 1 37 1 73 1 37 1-2 1-35 1-37 1-40 1-33 1-21 1 0 1 8 1-11 1 4 1 28 1 47 1 37 1 12 1-19 1-45 1-9 1-40 1 5 1 37 1 47 1 53 1 20 1 36 1 47 1 38 1 10 1-25 1-14 1-17 1-1 1 16 1-1 1 32 1-5 1-4 1 12 1-39 1 17 1 34 1 11 1-5 1-7 1-8 1 26 1 6 1-22 1-35 1 1 1 8 1-25 1 7 1 30 1 5 1-11 1-9 1-25 1 13V0Z"/>
<line x1="848.78" y1="631.97" x2="848.78" y2="640.82" stroke="#c8c8c8" stroke-width="0.8"/>
<rect x="547.5" y="36.3" width="373.6" height="9.9" fill="#000"/>
<rect x="604.3" y="39" width="90" height="4.2" fill="#fff"/>
<rect x="788.9" y="39" width="90.5" height="4.2" fill="#fff"/>
<rect x="546.9" y="38.5" width="2.5" height="605" fill="#000"/>
<rect x="919.4" y="38.5" width="2.5" height="605" fill="#000"/>
<path d="M548.15,640 V643.7 H920.65 V640" fill="none" stroke="#000" stroke-width="2.5" stroke-linejoin="round"/>
<rect x="549.4" y="640.7" width="370" height="1.5" fill="#b4b4b4"/>
<rect x="602.8" y="643" width="2" height="4.4" fill="#000"/>
<rect x="695.1" y="643" width="2" height="4.4" fill="#000"/>
<rect x="787.4" y="643" width="2" height="4.4" fill="#000"/>
<rect x="879.9" y="643" width="2" height="4.4" fill="#000"/>
<text transform="translate(595.38,672.55) scale(1.2573,1)" font-size="25.35" fill="#000">0</text>
<text transform="translate(677.85,672.8) scale(1.2437,1)" font-size="25.71" fill="#000">12</text>
<text transform="translate(779.98,672.55) scale(1.2573,1)" font-size="25.35" fill="#000">0</text>
<text transform="translate(863.15,672.8) scale(1.2437,1)" font-size="25.71" fill="#000">12</text>
<text transform="translate(659.64,702.2) scale(1.1655,1)" font-size="32.75" fill="#000">Time (ZT)</text>
<line x1="542.7" y1="73.2" x2="547.4" y2="73.2" stroke="#000" stroke-width="1.7"/>
<line x1="542.7" y1="122.86" x2="547.4" y2="122.86" stroke="#000" stroke-width="1.7"/>
<line x1="542.7" y1="172.52" x2="547.4" y2="172.52" stroke="#000" stroke-width="1.7"/>
<line x1="542.7" y1="222.18" x2="547.4" y2="222.18" stroke="#000" stroke-width="1.7"/>
<line x1="542.7" y1="271.84" x2="547.4" y2="271.84" stroke="#000" stroke-width="1.7"/>
<line x1="542.7" y1="321.5" x2="547.4" y2="321.5" stroke="#000" stroke-width="1.7"/>
<line x1="542.7" y1="371.16" x2="547.4" y2="371.16" stroke="#000" stroke-width="1.7"/>
<line x1="542.7" y1="420.82" x2="547.4" y2="420.82" stroke="#000" stroke-width="1.7"/>
<line x1="542.7" y1="470.48" x2="547.4" y2="470.48" stroke="#000" stroke-width="1.7"/>
<line x1="542.7" y1="520.14" x2="547.4" y2="520.14" stroke="#000" stroke-width="1.7"/>
<line x1="542.7" y1="569.8" x2="547.4" y2="569.8" stroke="#000" stroke-width="1.7"/>
<line x1="542.7" y1="619.46" x2="547.4" y2="619.46" stroke="#000" stroke-width="1.7"/>
<path transform="translate(962.8,95) scale(0.99919,-0.1)" d="M0,0V312l1 39 1 32 1-1 1 31 1-5 1-13 1-28 1-4 1-24 1 4 1-53 1 7 1-26 1-9 1-29 1 32 1 24 1 22 1-25 1-32 1 19 1-4 1-10 1 8 1-2 1 21 1 14 1 45 1 8 1-15 1 20 1-25 1-20 1 2 1-52 1-1 1-2 1 1 1 36 1 10 1 68 1 25 1 23 1 12 1-28 1-16 1 3 1 17 1-2 1-31 1-96 1-96 1-58 1 37 1 21 1-2 1 73 1 59 1 82 1 10 1-28 1-53 1-48 1-60 1-51 1-46 1-40 1 17 1-12 1-3 1 27 1 14 1 41 1 50 1-40 1-39 1-4 1-61 1-4 1-4 1 49 1 61 1-12 1-14 1-25 1-16 1-13 1 47 1 60 1 61 1-8 1-19 1-56 1 7 1-39 1-50 1-41 1-1 1 28 1 89 1-14 1-32 1 24 1-8 1-16 1-17 1-18 1 10 1 34 1 47 1-3 1-10 1 10 1-26 1-33 1-16 1 4 1 18 1-23 1 6 1-1 1 18 1-17 1-14 1 45 1 30 1 30 1-31 1-10 1-64 1-3 1 18 1 21 1 40 1-15 1 12 1 3 1 18 1 5 1 13 1-3 1 13 1 14 1 11 1-2 1 32 1 53 1 35 1-32 1-50 1 26 1-9 1 57 1-6 1-35 1-39 1 34 1 2 1 9 1 11 1 7 1 19 1 22 1-21 1 5 1-26 1-4 1-5 1-31 1-7 1 40 1-10 1-3 1-15 1-3 1-23 1 44 1 42 1-25 1 2 1 36 1 5 1 4 1-21 1-27 1-42 1-33 1 11 1-37 1 57 1-49 1-20 1-13 1 1 1 3 1 31 1 45 1 88 1 41 1 0 1-105 1-28 1-19 1 3 1 20 1-5 1-28 1 7 1 6 1 4 1 17 1 20 1 57 1 8 1-20 1-5 1-47 1-4 1-38 1 54 1 10 1 28 1 0 1 13 1-25 1 9 1 9 1-3 1-4 1-23 1 7 1-7 1-8 1 26 1-17 1 61 1 19 1 20 1 3 1 4 1-23 1-33 1-58 1-15 1-44 1-52 1-36 1-51 1-27 1 11 1 66 1-26 1-7 1-29 1 8 1 68 1-8 1-39 1-24 1 13 1-37 1-7 1-1 1 1 1 51 1 50 1-20 1-27 1 28 1 20 1 93 1-7 1-38 1-60 1-18 1-63 1-24 1-4 1 39 1-26 1 4 1-14 1 51 1 35 1-23 1 0 1 13 1 19 1 20 1-32 1-23 1-32 1 59 1 34 1-21 1-37 1-33 1-16 1 10 1 51 1 46 1-43 1-27 1-31 1 1 1-10 1 42 1 42 1-21 1-51 1 53 1 35 1 19 1 7 1-51 1-32 1-33 1-30 1 23 1 28 1 17 1 4 1-8 1 22 1 53 1 12 1-25 1 37 1 1 1-9 1 14 1 18 1-6 1-3 1 17 1 43 1 10 1-14 1 6 1 54 1 5 1-19 1 2 1 2 1 30 1 3 1 1 1 13 1 23 1-2 1 15 1 14 1-21 1-7 1-20 1-40 1-11 1 6 1-34 1-16 1 4 1-19 1 54 1 56 1 34 1-8 1-22 1-60 1-38V0Z"/>
<path transform="translate(962.8,144.62) scale(0.99919,-0.1)" d="M0,0V339l1 30 1 31 1 21 1-6 1-31 1-26 1-2 1-31 1-21 1 40 1 31 1 27 1-2 1 15 1-47 1-23 1-19 1-45 1 4 1 14 1 5 1-10 1-10 1 25 1 17 1 28 1-26 1 14 1-46 1 11 1-17 1 7 1 33 1 9 1-29 1-25 1-6 1 18 1-36 1-6 1 6 1 39 1-4 1-2 1 10 1-13 1 27 1-24 1 29 1-1 1-7 1 35 1 13 1 27 1 22 1-49 1 20 1-18 1-46 1-89 1-71 1-18 1-42 1 6 1-20 1-11 1 11 1 39 1 43 1 10 1-30 1 9 1-30 1-12 1-9 1-6 1-7 1 37 1 11 1-16 1-42 1 32 1 61 1-3 1 1 1 38 1 45 1-31 1-27 1-3 1-18 1-13 1-5 1 7 1-3 1-42 1 9 1-16 1-11 1 89 1-28 1-21 1 39 1-1 1-41 1-48 1 1 1 24 1 2 1-1 1-27 1-20 1-11 1 14 1 31 1 31 1 11 1-20 1-31 1-30 1 36 1 63 1-19 1-3 1 29 1-26 1 0 1 36 1 15 1-38 1-28 1-34 1-23 1-4 1-7 1 57 1 81 1-14 1-14 1-23 1 29 1 21 1 20 1 31 1 6 1 33 1 0 1 46 1 27 1 16 1-9 1 38 1 15 1-13 1-16 1-51 1-14 1-11 1 39 1 46 1-42 1-13 1-11 1-37 1 3 1 11 1 20 1 46 1-19 1-1 1-38 1 28 1-11 1 11 1 41 1-3 1 26 1-6 1 4 1-34 1-19 1 31 1 26 1-8 1 3 1-4 1 9 1 8 1-16 1 17 1-8 1-33 1 2 1 15 1-9 1-13 1-22 1-19 1 16 1 2 1-13 1 1 1 11 1 7 1 25 1 25 1-4 1-14 1-54 1 7 1 24 1-31 1 6 1-27 1 30 1-11 1 6 1 1 1 16 1-4 1-3 1 0 1-3 1-6 1-8 1-2 1 2 1 27 1 0 1 20 1-15 1 43 1 5 1 13 1-12 1-9 1-24 1-35 1-13 1-11 1 57 1 34 1-21 1-40 1 35 1-53 1-57 1-31 1-9 1-102 1-18 1 4 1-36 1 11 1 31 1 50 1 18 1-43 1-24 1-15 1-6 1-23 1-16 1 13 1 19 1-17 1-12 1 28 1 35 1 24 1-13 1-12 1-24 1 34 1 1 1 8 1-29 1-22 1-11 1-9 1 23 1 58 1 38 1-15 1-31 1-28 1-20 1 51 1 7 1-12 1-2 1 22 1-42 1-1 1 75 1-29 1-23 1 6 1 18 1-6 1-22 1-41 1-12 1-1 1-26 1 8 1-3 1 73 1 19 1-10 1-15 1-16 1-18 1-23 1 16 1 54 1 5 1 37 1 17 1-27 1-29 1-22 1 24 1-35 1 37 1 8 1 16 1 67 1 36 1-2 1-77 1-39 1-35 1-25 1-2 1 99 1 95 1 50 1 46 1 9 1 5 1 7 1 2 1 2 1-16 1-11 1-74 1 17 1 32 1-13 1-5 1-6 1-15 1 15 1 20 1 9 1 61 1 5 1-23 1 3 1-18 1-35 1 28 1-33 1-1 1 14 1-43 1-16 1-3V0Z"/>
<path transform="translate(962.8,194.24) scale(0.99919,-0.1)" d="M0,0V387l1 28 1-4 1 10 1 3 1-39 1-61 1-25 1-5 1-3 1 2 1 7 1-1 1-43 1 25 1-18 1 11 1-2 1 2 1 7 1-14 1-17 1 36 1-15 1-31 1-26 1 2 1 3 1 13 1 19 1 31 1 19 1-10 1 14 1 26 1-16 1-21 1-29 1-19 1 6 1 17 1-5 1-9 1 0 1 16 1 32 1 50 1 54 1 17 1 4 1-13 1-51 1-20 1 59 1-13 1-27 1-9 1 39 1 12 1-20 1-75 1-30 1-35 1-49 1-39 1-40 1 1 1-20 1-25 1 14 1 16 1-7 1 41 1 24 1 20 1-8 1-7 1-28 1-34 1-27 1-6 1 19 1 46 1-5 1-20 1 22 1 28 1 9 1-13 1 6 1-24 1-37 1 49 1 17 1-27 1-20 1-21 1 29 1 57 1 30 1-51 1-24 1-40 1-12 1 56 1 35 1-13 1-12 1-12 1-22 1 1 1 52 1-14 1-13 1 49 1-25 1-38 1-24 1-28 1-14 1 65 1 19 1-22 1-19 1 36 1-16 1-19 1-18 1-25 1 2 1 27 1 49 1 34 1 54 1-12 1-2 1-48 1-1 1-23 1-18 1-20 1 51 1-9 1 49 1 51 1 26 1-43 1-43 1-41 1-30 1 76 1 52 1 59 1 44 1 23 1 33 1 1 1 13 1-13 1 14 1-38 1-37 1-7 1-62 1-14 1-13 1-21 1 33 1 4 1 38 1 52 1 19 1 35 1 4 1-60 1-37 1-47 1-8 1 1 1-15 1-3 1 18 1-43 1 2 1 27 1 44 1 61 1 68 1 7 1-35 1-65 1-72 1-43 1-1 1 5 1 26 1-13 1 3 1 13 1-11 1 41 1-2 1-15 1 12 1 26 1 24 1 32 1-9 1-37 1 8 1 3 1 16 1-28 1 10 1 22 1 4 1 5 1 8 1-43 1 26 1 26 1 41 1-1 1 5 1 21 1-21 1 1 1 11 1 12 1-11 1-40 1-25 1-10 1-65 1-93 1-32 1 19 1-24 1 39 1 60 1 93 1 3 1 5 1-24 1-56 1-52 1-52 1-1 1-24 1-28 1-13 1 4 1-11 1 37 1-43 1-11 1 7 1-13 1 1 1 5 1 61 1-6 1 52 1 42 1 30 1-49 1-32 1-46 1-28 1 6 1 41 1-13 1-30 1-2 1 12 1-2 1-1 1 1 1 27 1 36 1-17 1-38 1-42 1-26 1 43 1 31 1-29 1-8 1-15 1-10 1 46 1 68 1-38 1 44 1 13 1-17 1-38 1-45 1 35 1 23 1-28 1 31 1-14 1-11 1-2 1-25 1 1 1 17 1-4 1 61 1 33 1 13 1-21 1-25 1-17 1-49 1-5 1-44 1-7 1 50 1 37 1 66 1-5 1-4 1-43 1 31 1 17 1 10 1 22 1 18 1 26 1 4 1 27 1-8 1-2 1 5 1 4 1 6 1 48 1-7 1 33 1 15 1 12 1 8 1-5 1-16 1 8 1-11 1-3 1-50 1-8 1-1 1 47 1-25 1 44 1-1 1-3 1-37 1-41 1-14 1 17 1 41 1 24 1 9 1 6 1 2 1-4 1-20 1-3 1-43V0Z"/>
<path transform="translate(962.8,243.86) scale(0.99919,-0.1)" d="M0,0V340l1 55 1-13 1 26 1 0 1-29 1-5 1-73 1-42 1-5 1 40 1 10 1-28 1-28 1-1 1-11 1 34 1 6 1 18 1-10 1 6 1 6 1-39 1 10 1 11 1-28 1-3 1-21 1 19 1 29 1 5 1 39 1-25 1-11 1 3 1 0 1 26 1 29 1 27 1 51 1 13 1-1 1 25 1-27 1-21 1-65 1-24 1-48 1-22 1-69 1-59 1-35 1 23 1 66 1 65 1 108 1-6 1 20 1-81 1-56 1-24 1-62 1-32 1 9 1 30 1-45 1 5 1 11 1 46 1-9 1-7 1-16 1-19 1-10 1-3 1 8 1 26 1 40 1 73 1 23 1-32 1-47 1-45 1 7 1-16 1-15 1 17 1 37 1-24 1 17 1-19 1-23 1 7 1 9 1-1 1 43 1-7 1-8 1-26 1-47 1 8 1 14 1-5 1-16 1-2 1 76 1 6 1 26 1 20 1-24 1-49 1-7 1 45 1-15 1-31 1-26 1 41 1-29 1-15 1 24 1 59 1-19 1-41 1 47 1 38 1 37 1 12 1-57 1-26 1-47 1-10 1-30 1-12 1 16 1 54 1 66 1 4 1-12 1-8 1 29 1 17 1 20 1 29 1 31 1 21 1-12 1 12 1-39 1 11 1 5 1-35 1-3 1-2 1 4 1 12 1 56 1 16 1 35 1 19 1-12 1-14 1-42 1-13 1-9 1-55 1-41 1 2 1 8 1 41 1 19 1-7 1-11 1 11 1 12 1 51 1 40 1 19 1-25 1 6 1-70 1 35 1 37 1 25 1-22 1-26 1-65 1-32 1 10 1 4 1 12 1 36 1 1 1-23 1-19 1 21 1 74 1 3 1 14 1 1 1 1 1-15 1-39 1-33 1-11 1-6 1-23 1-23 1 22 1 4 1 41 1 65 1 1 1-4 1-48 1-31 1 8 1-30 1 6 1 26 1 17 1 31 1 25 1-11 1-6 1-22 1-14 1-14 1 7 1-10 1-13 1 18 1 24 1-36 1-54 1-10 1-2 1-33 1 35 1 30 1 34 1 8 1-42 1 16 1 1 1-24 1 15 1-25 1-29 1-22 1-11 1-8 1-30 1-21 1 2 1 0 1-22 1-36 1-18 1-7 1-3 1 32 1 51 1-28 1-12 1-11 1-16 1-18 1 38 1 27 1 11 1 72 1 41 1 6 1-49 1-28 1-49 1-17 1-20 1-13 1 2 1 98 1-20 1-5 1-21 1-3 1 17 1-28 1-12 1-8 1 68 1 36 1-25 1-34 1-40 1-27 1 11 1-6 1-15 1-1 1 76 1 17 1-15 1-6 1-34 1-26 1 53 1 18 1 43 1-13 1-41 1-26 1-20 1-12 1-8 1-25 1 5 1 55 1-12 1-6 1-10 1 66 1 39 1 30 1-33 1-30 1-37 1-39 1 59 1 73 1 24 1 1 1 5 1 13 1 34 1 31 1-4 1 14 1 50 1 17 1 30 1-6 1-12 1-21 1-52 1-7 1-12 1 12 1 0 1 16 1-14 1 8 1 12 1-13 1 5 1-39 1 9 1 3 1-11 1 6 1 40 1-15 1 4 1 18 1 2 1 44 1 4 1-9 1-5 1-53 1-30V0Z"/>
<path transform="translate(962.8,293.48) scale(0.99919,-0.1)" d="M0,0V243l1 28 1 34 1 90 1 15 1-18 1-36 1-24 1-44 1 29 1 41 1 33 1 23 1-40 1-56 1-3 1-32 1 1 1-37 1-2 1 4 1 16 1 17 1 37 1 3 1 61 1 43 1-8 1-42 1-40 1-56 1-25 1 5 1 10 1 21 1-4 1 46 1 3 1 22 1 21 1 5 1-3 1 16 1 10 1-80 1-2 1-21 1 23 1 22 1-31 1-24 1-17 1-45 1 30 1 60 1 56 1-8 1-48 1-52 1-18 1-3 1-10 1 1 1-12 1-12 1-11 1-34 1 15 1 8 1 1 1-28 1-24 1-33 1 15 1-9 1-29 1 16 1 34 1-17 1-4 1-26 1 83 1-25 1-7 1-9 1 8 1 60 1 38 1 17 1-27 1-50 1-28 1-40 1-37 1 41 1-5 1-16 1-16 1 17 1-24 1 13 1 25 1-14 1 18 1 2 1 46 1 68 1-31 1-44 1-20 1-3 1-10 1 5 1-15 1 37 1-29 1-21 1-13 1-10 1 13 1 13 1 51 1 51 1 2 1-34 1-36 1-16 1-11 1-12 1 6 1 2 1-12 1 7 1 73 1-1 1-15 1 21 1 27 1-33 1 7 1 34 1-5 1-3 1-11 1-2 1 11 1 18 1 34 1 26 1 49 1 31 1 29 1 8 1 7 1-16 1-11 1-44 1-17 1-45 1-5 1-11 1-1 1-19 1 43 1 0 1 5 1-20 1 11 1-4 1-6 1 4 1-16 1-4 1 20 1 3 1 44 1-19 1 44 1 9 1 44 1 24 1 8 1-80 1-18 1-31 1 13 1-9 1 12 1 39 1 57 1 28 1-8 1-38 1-48 1-39 1-30 1-18 1 40 1 24 1-1 1-7 1-18 1-20 1-10 1 13 1 10 1 5 1-11 1 0 1-16 1-5 1 20 1 14 1-13 1 28 1-10 1-21 1 13 1-3 1-4 1 55 1 47 1 28 1 1 1-20 1-13 1-8 1-17 1 11 1-13 1-22 1 41 1 29 1 12 1 2 1 17 1-22 1-40 1-22 1-38 1-1 1 15 1-29 1 14 1-20 1 22 1 47 1 12 1 48 1-9 1-68 1-32 1-25 1-5 1-12 1-5 1 4 1-22 1 14 1 18 1 51 1 2 1-42 1-12 1-39 1-32 1-29 1 3 1-23 1-36 1-17 1 4 1 68 1 1 1-13 1 6 1-21 1-28 1-3 1 27 1-21 1 7 1-6 1 23 1-11 1-21 1 47 1 0 1-38 1-13 1-21 1-4 1 45 1-11 1 27 1 57 1 21 1 11 1-22 1-36 1-40 1-28 1-23 1 11 1-17 1 48 1 60 1-15 1-33 1 22 1-6 1-44 1 5 1 49 1 35 1-8 1-23 1-36 1-30 1 8 1 32 1-20 1-2 1 23 1 60 1 28 1-37 1-25 1 15 1 26 1 7 1 22 1 11 1 17 1 46 1 17 1 30 1 22 1 28 1 6 1 7 1-5 1-28 1-12 1-23 1-3 1 7 1 9 1-1 1-41 1 10 1 12 1 5 1 17 1 17 1-17 1-9 1-32 1 14 1 13 1 47 1-8 1-4 1-13 1 30 1 18 1-4 1-4 1-5 1-18V0Z"/>
<line x1="1176.65" y1="263.46" x2="1176.65" y2="293.48" stroke="#c8c8c8" stroke-width="0.8"/>
<path transform="translate(962.8,343.1) scale(0.99919,-0.1)" d="M0,0V273l1 60 1 47 1 31 1 30 1-4 1-27 1-25 1-79 1-3 1 1 1 3 1-19 1-13 1-23 1-1 1 36 1-19 1 1 1-3 1-15 1 4 1 42 1 1 1 22 1-16 1-10 1 0 1 1 1-11 1 30 1 13 1-17 1-9 1 16 1-32 1 55 1 34 1 43 1 15 1 10 1-5 1-18 1-2 1-19 1 10 1-47 1 29 1 15 1 4 1 0 1-31 1-4 1-10 1 3 1-20 1-31 1-17 1 6 1-1 1 30 1-13 1 49 1 11 1-21 1-26 1-9 1-26 1-2 1-5 1 5 1 9 1 3 1 7 1-12 1-17 1-18 1-47 1-20 1 0 1-36 1-35 1 21 1-22 1-50 1 38 1 66 1-1 1-30 1-19 1 24 1 18 1-31 1-14 1 22 1 10 1-16 1-16 1-18 1 12 1-22 1-14 1-8 1-13 1 7 1 2 1 39 1-9 1-11 1 3 1 43 1 34 1 42 1 0 1-40 1-41 1-29 1-31 1 1 1 39 1-11 1 43 1-17 1-13 1-46 1-1 1 19 1 9 1-16 1 36 1 48 1 40 1-1 1-42 1-35 1-35 1 13 1 85 1 50 1 13 1-50 1-41 1-53 1-36 1 44 1-11 1 1 1 47 1 26 1 45 1 54 1 10 1 22 1 76 1 25 1 17 1-9 1-9 1-9 1 3 1-14 1-64 1-54 1 31 1-13 1-25 1 18 1 19 1-7 1-27 1 1 1-10 1 8 1-8 1-2 1 34 1 6 1 43 1 43 1 4 1 10 1 6 1-3 1 3 1-31 1-58 1-36 1-32 1 4 1 31 1 32 1 40 1 20 1 33 1-21 1 22 1-54 1-10 1-65 1-17 1 6 1 3 1-6 1-11 1-1 1 47 1-1 1-26 1-37 1 46 1 2 1-18 1-2 1 33 1 0 1-5 1 0 1 7 1-15 1 38 1 52 1 13 1 21 1-22 1 29 1 8 1-8 1 2 1-8 1 2 1 1 1-21 1 0 1-13 1-40 1-57 1-5 1-1 1 9 1-2 1 39 1-45 1-31 1-62 1-47 1-44 1 35 1 32 1 32 1-13 1-18 1-10 1-22 1-9 1-22 1 35 1 30 1 30 1-53 1-17 1-35 1-31 1-4 1 48 1 10 1 7 1 60 1 39 1-21 1-43 1-44 1-36 1 45 1-29 1-10 1-2 1 84 1-4 1-46 1 21 1 1 1-18 1 7 1 39 1 5 1-14 1 26 1-13 1-2 1-40 1-1 1 3 1-1 1-2 1-12 1 45 1 64 1 23 1-65 1-19 1-42 1-16 1 38 1-31 1-2 1 11 1 25 1 40 1-2 1-35 1-13 1 24 1 40 1-40 1-1 1 39 1 59 1 1 1-35 1-41 1-19 1 19 1 2 1 41 1-10 1 35 1 6 1-1 1 50 1 21 1-12 1-1 1-19 1-11 1 31 1 3 1 78 1-2 1-35 1 7 1 31 1 20 1-35 1 9 1-2 1 13 1-19 1-2 1-35 1-34 1-10 1 15 1 1 1 55 1 25 1 19 1-49 1 15 1-38 1-40 1-14 1-13 1-17 1 25 1 30 1 23 1 71 1-12 1-11 1-107V0Z"/>
<line x1="992.3" y1="313.85" x2="992.3" y2="343.1" stroke="#c8c8c8" stroke-width="0.8"/>
<path transform="translate(962.8,392.72) scale(0.99919,-0.1)" d="M0,0V306l1 59 1 41 1-8 1-17 1 18 1 17 1-8 1 3 1-37 1-74 1 1 1-5 1 19 1-29 1-48 1 38 1-21 1 5 1 21 1-9 1 3 1 38 1-14 1 5 1-43 1 48 1-24 1 5 1-39 1 22 1 33 1 18 1 29 1-38 1 5 1 0 1-5 1 43 1 21 1 36 1 12 1-7 1 2 1-3 1-17 1 9 1-17 1 1 1-29 1-31 1-32 1-14 1-31 1-18 1-10 1-34 1-28 1-47 1-2 1 2 1-8 1 8 1 37 1 43 1-48 1-25 1-36 1-22 1 30 1 36 1 19 1 40 1-12 1-26 1-23 1-28 1-5 1-9 1 4 1 77 1-9 1-4 1 36 1 11 1-30 1-38 1-35 1-13 1 1 1 15 1 1 1-20 1 14 1 53 1 51 1-28 1-24 1-15 1-15 1 65 1-30 1 14 1-23 1-13 1 0 1-31 1 2 1-8 1-28 1 65 1 49 1 54 1-44 1-11 1-65 1-4 1-22 1-4 1 8 1 37 1-26 1 52 1-17 1-27 1-2 1-20 1-5 1 22 1 8 1 60 1 70 1 14 1-18 1-41 1-27 1-16 1 56 1 27 1-2 1 10 1 22 1 4 1 16 1 4 1 10 1-33 1 8 1-6 1 1 1 23 1 21 1-12 1 20 1 34 1 5 1 29 1-1 1 10 1-28 1-43 1-17 1-28 1-38 1 27 1 14 1 0 1-4 1 11 1 45 1 36 1 10 1-18 1-18 1-52 1-46 1 19 1-5 1 27 1-27 1-24 1 0 1 25 1-6 1 29 1 32 1 57 1 24 1-34 1-17 1-26 1-26 1 5 1 8 1 40 1 46 1-83 1 0 1-8 1 52 1 30 1 0 1-40 1-22 1-37 1-5 1 6 1-18 1-8 1 6 1 9 1-4 1 10 1 11 1-32 1-1 1-3 1 0 1-8 1 31 1 32 1-12 1-28 1-10 1 46 1 60 1 31 1-2 1-68 1-68 1-12 1 4 1 75 1 69 1 3 1 1 1-90 1-40 1-14 1 29 1-19 1-16 1-20 1 20 1 3 1 18 1 5 1-30 1-16 1-25 1-19 1-20 1-1 1-12 1 26 1 64 1-75 1 6 1-39 1-43 1 0 1-18 1 30 1 8 1-12 1-25 1 30 1 24 1-26 1-15 1-28 1 63 1 47 1-8 1-27 1-3 1 64 1 39 1 21 1-63 1-26 1-41 1-28 1 22 1-4 1-27 1-19 1 15 1 0 1-8 1 81 1-20 1-24 1-2 1-23 1 25 1 59 1-20 1-25 1 42 1 0 1-20 1-23 1 16 1-6 1-14 1 18 1-29 1-3 1-3 1-30 1 60 1 44 1 23 1-21 1-53 1-7 1-5 1-12 1-22 1-11 1-5 1 53 1 54 1 65 1 30 1-38 1-40 1 35 1-3 1 10 1 39 1-6 1 13 1 21 1 20 1 12 1 0 1 56 1 25 1-12 1-23 1-79 1 19 1 9 1-4 1 9 1-19 1 27 1-18 1-6 1 78 1 11 1 13 1-18 1-2 1-14 1-35 1 8 1-21 1-2 1 34 1 33 1 13 1 34 1-6 1-25 1-29 1-21 1-36V0Z"/>
<path transform="translate(962.8,442.34) scale(0.99919,-0.1)" d="M0,0V199l1 0 1 24 1 10 1 2 1-22 1 0 1 19 1 13 1 22 1 11 1 19 1-1 1 33 1 58 1 18 1-22 1-28 1-37 1-2 1-2 1 11 1-23 1 11 1-27 1 14 1-4 1 12 1-24 1 8 1 33 1-25 1 34 1-20 1-20 1-2 1 48 1 1 1-8 1 21 1 13 1 44 1 6 1-47 1 14 1-34 1-15 1 8 1 46 1 13 1-27 1 23 1-16 1-72 1-43 1-12 1-27 1 24 1-13 1 0 1 4 1-17 1-24 1-8 1-5 1-24 1 39 1 11 1-36 1-7 1 50 1 1 1 5 1-38 1-75 1 48 1 19 1-44 1-27 1 16 1-15 1 71 1-35 1-26 1-31 1-27 1-8 1 32 1 9 1 14 1 43 1 53 1 37 1-30 1-19 1-21 1-39 1-26 1-33 1 2 1 20 1 57 1 14 1-12 1-38 1 3 1 30 1-23 1-38 1-26 1 51 1-11 1-3 1 15 1 27 1 18 1-2 1-11 1 23 1-14 1 1 1-38 1-10 1-3 1 12 1-7 1 6 1 4 1 52 1 36 1-24 1-31 1 29 1-28 1-18 1 10 1 3 1-20 1 71 1 74 1 2 1-39 1-51 1 17 1-6 1 21 1 10 1 25 1-4 1 49 1 25 1 11 1 24 1-20 1 52 1 16 1 6 1-1 1-79 1-17 1-46 1-3 1 7 1 38 1 4 1 0 1-10 1 1 1-21 1 16 1-2 1 8 1-23 1 23 1 17 1 41 1 17 1 42 1-3 1 1 1 0 1-18 1-58 1-17 1-42 1-44 1 2 1 6 1-3 1-5 1 2 1-11 1 3 1 48 1 21 1 37 1 73 1 18 1 3 1-24 1-73 1-60 1 7 1 31 1 49 1-46 1-29 1 9 1-6 1 20 1 44 1 30 1-16 1 22 1-40 1-20 1 20 1 7 1-4 1 2 1 0 1 21 1 40 1-14 1-5 1-65 1-67 1-42 1 30 1-10 1 29 1 34 1-22 1-19 1 26 1 78 1 37 1-5 1-21 1-96 1-18 1-87 1-56 1-58 1 11 1 75 1 24 1 21 1-44 1-11 1-12 1-11 1-3 1-17 1-8 1 36 1 51 1-29 1 31 1 51 1 20 1-51 1-21 1-19 1-22 1 17 1 15 1-23 1-29 1-9 1-26 1 26 1-8 1-9 1 17 1 29 1-9 1-6 1-17 1-18 1 32 1 3 1-27 1-23 1 7 1 30 1-1 1 42 1 40 1 24 1-49 1-47 1-10 1 6 1 16 1-41 1 0 1 35 1-20 1-16 1-3 1 34 1 15 1-25 1 11 1-23 1 17 1 20 1 13 1 20 1-9 1-37 1-9 1 38 1 1 1 18 1 13 1-4 1 7 1 17 1 11 1-2 1 20 1 24 1-18 1-16 1 10 1-6 1 13 1 7 1 24 1-13 1-15 1-3 1-8 1 63 1 27 1 51 1 37 1 11 1 3 1-17 1-22 1-68 1-33 1-23 1-9 1 23 1 4 1-15 1-8 1 26 1 52 1 67 1 14 1-8 1 5 1 2 1 3 1-14 1-46 1-27 1 5 1 15 1 23 1 47 1-8 1-6 1-64 1-26V0Z"/>
<path transform="translate(962.8,491.96) scale(0.99919,-0.1)" d="M0,0V230l1 12 1-10 1 36 1 11 1 32 1-13 1-9 1 1 1 37 1 51 1 40 1 15 1-14 1-13 1-22 1-36 1-16 1-3 1-14 1-12 1 19 1-12 1-6 1-5 1 25 1 44 1 49 1 5 1 2 1-25 1-91 1-36 1-28 1 4 1 16 1 59 1 27 1 33 1 30 1 3 1-8 1-80 1-60 1-57 1 11 1-12 1 11 1 31 1 46 1 66 1 34 1-46 1-57 1-67 1-77 1-27 1-47 1 3 1 24 1-15 1 13 1 29 1 63 1 0 1 1 1-42 1-32 1-28 1-8 1 43 1 55 1-17 1 0 1 31 1 39 1-35 1-33 1-64 1 41 1 26 1-38 1 11 1-28 1 7 1-18 1-11 1-17 1-1 1 33 1 24 1-11 1-5 1-27 1-23 1 15 1 22 1-6 1 13 1-21 1-3 1 7 1 44 1 59 1 24 1-10 1-34 1-34 1-16 1-21 1-39 1 0 1 30 1 42 1 25 1-15 1-14 1-51 1 3 1 84 1-5 1-20 1-23 1 21 1-2 1-36 1-33 1 16 1 37 1-15 1-5 1 52 1-3 1-31 1 13 1 24 1 40 1 60 1 25 1 12 1-8 1 50 1 23 1-45 1-10 1 6 1-15 1 24 1 26 1 0 1 50 1 10 1-20 1 12 1 8 1-2 1 15 1-4 1-7 1-10 1-53 1-9 1 11 1 27 1-14 1 7 1-25 1 59 1-11 1-14 1 19 1 20 1 2 1-12 1-25 1-47 1-11 1-8 1 23 1 52 1 41 1-14 1 3 1-17 1-5 1 2 1-38 1-11 1-40 1-25 1 7 1 15 1 12 1 24 1 18 1-5 1-34 1-6 1 6 1 24 1 47 1-25 1-48 1-3 1 14 1 0 1-19 1 6 1 38 1 47 1-23 1-48 1 13 1-3 1 27 1 9 1-60 1 3 1 32 1 35 1 27 1 14 1-1 1-4 1-22 1-81 1-22 1-17 1 28 1 18 1 67 1 25 1 17 1-69 1-68 1-4 1-59 1-42 1-6 1 79 1 13 1 51 1-55 1-29 1-68 1-17 1 9 1-49 1-15 1-19 1-19 1-6 1 27 1 30 1 4 1 11 1 45 1 7 1-29 1-30 1-6 1-4 1-20 1-2 1-9 1-17 1 60 1-4 1-5 1 23 1-29 1-12 1-18 1-3 1 45 1 9 1-15 1-4 1-30 1 59 1 16 1-41 1-46 1 31 1-17 1 5 1-11 1 24 1-3 1 39 1 44 1 60 1-15 1-51 1-28 1-37 1-36 1 18 1 36 1-10 1-4 1-26 1-3 1-9 1 51 1-23 1-35 1 16 1 33 1 13 1-9 1-13 1-13 1 21 1 13 1 44 1 62 1-7 1-4 1-28 1-20 1 23 1 10 1 25 1-5 1-6 1 16 1 5 1 3 1 15 1-14 1 14 1 22 1 32 1 32 1 5 1 20 1 25 1 23 1-20 1-4 1 2 1-36 1 8 1-24 1-11 1 18 1-18 1 10 1-40 1 6 1 40 1-2 1 16 1 31 1 10 1-28 1-26 1-8 1-27 1-12 1-7 1 33 1 54 1 18 1 0 1-18 1-46 1-31 1-18V0Z"/>
<path transform="translate(962.8,541.58) scale(0.99919,-0.1)" d="M0,0V248l1 29 1-10 1 19 1-37 1 10 1 24 1-5 1 5 1 13 1-7 1-6 1 26 1 14 1 42 1-20 1-14 1 22 1-36 1-7 1-6 1 3 1 5 1 75 1-13 1-45 1-13 1 32 1-24 1 49 1 14 1-4 1 38 1-43 1-6 1 7 1 28 1 14 1-3 1-5 1-48 1 3 1-60 1-6 1 21 1 6 1 39 1 24 1-5 1-68 1-6 1-78 1-57 1-16 1 63 1 54 1 25 1-3 1-34 1-60 1-42 1-51 1-40 1 32 1 2 1-13 1-7 1 61 1-12 1-14 1-29 1 55 1 39 1 9 1-52 1-19 1-15 1 55 1-3 1-21 1-7 1 46 1-16 1-2 1 3 1-3 1-11 1-23 1-5 1-27 1-20 1 11 1 43 1-16 1 0 1 30 1-17 1-40 1 11 1 45 1-19 1-19 1-27 1 12 1 56 1 40 1 70 1-20 1-40 1-44 1-14 1-14 1 38 1-5 1-37 1-19 1 58 1 6 1-43 1-14 1-14 1-18 1 4 1 66 1 3 1-4 1-19 1-29 1 15 1-16 1 67 1 80 1 23 1-15 1-57 1 16 1-9 1 8 1 16 1 40 1-6 1 11 1 7 1-9 1 0 1 6 1 24 1 32 1 37 1 2 1-8 1 18 1 38 1 2 1 2 1-36 1-67 1-22 1 23 1 12 1-1 1 26 1 20 1-22 1-27 1 1 1-4 1 6 1 11 1 44 1 26 1 15 1-18 1-16 1-39 1-27 1-3 1-22 1 73 1 36 1 22 1-10 1 5 1-21 1-44 1-63 1-7 1 33 1-13 1 35 1 16 1 44 1 8 1-34 1-33 1-13 1-10 1-41 1-9 1 12 1-38 1 37 1-4 1 4 1 21 1-11 1 1 1 50 1-34 1 7 1-15 1-48 1 12 1 8 1 9 1 34 1 21 1-22 1 1 1 23 1 23 1-5 1 13 1 41 1 17 1 1 1 11 1 13 1-16 1-22 1 0 1 2 1-7 1-12 1-22 1-18 1 30 1-34 1-12 1 6 1-35 1-2 1-12 1-34 1-41 1-10 1 3 1-74 1-56 1-12 1-8 1 47 1 43 1 36 1 60 1 11 1-18 1-24 1-55 1-33 1-45 1-4 1 31 1-14 1 1 1-27 1 15 1 13 1 61 1-8 1-7 1-30 1 28 1-1 1-19 1-18 1 13 1 31 1 3 1-37 1-17 1-11 1 2 1-9 1 68 1 4 1-3 1-26 1-6 1-12 1-12 1 8 1 35 1-3 1-9 1-32 1 30 1 4 1-43 1-28 1 3 1-8 1 51 1 57 1-10 1-24 1 58 1 27 1-29 1-21 1-41 1-18 1-18 1 51 1 28 1 10 1-46 1-31 1 3 1-9 1 53 1 3 1 10 1 9 1 46 1-8 1 26 1 13 1-17 1 14 1 20 1 17 1 32 1 17 1 6 1-8 1 32 1 37 1 21 1 3 1-34 1 22 1 5 1-39 1 19 1-24 1 24 1 20 1-2 1 10 1-45 1-29 1-65 1 21 1 1 1 1 1 69 1 44 1-9 1 0 1 9 1-16 1-98 1 14 1 25 1 9 1-33 1-20 1-14 1 4V0Z"/>
<path transform="translate(962.8,591.2) scale(0.99919,-0.1)" d="M0,0V250l1 8 1 22 1 22 1-26 1 61 1 36 1 40 1 0 1-27 1-42 1-33 1 4 1 1 1 1 1-29 1-30 1-9 1 6 1 22 1 40 1 31 1-40 1-2 1-26 1-26 1 7 1-14 1 26 1-21 1 6 1-24 1 6 1 36 1 13 1 29 1-37 1 28 1 27 1 57 1 22 1 11 1 12 1-17 1-21 1-35 1-49 1-71 1 29 1 62 1 17 1-30 1 0 1-40 1-22 1-16 1-44 1 1 1 15 1-28 1-24 1-14 1-29 1 19 1-38 1 31 1 41 1-27 1-6 1 48 1 65 1 43 1-29 1-56 1-44 1-3 1-19 1-31 1 6 1-6 1 8 1-26 1 13 1-21 1 38 1 36 1-22 1-25 1-22 1 14 1 10 1-7 1 19 1 13 1-3 1 25 1 19 1-20 1-11 1-26 1-17 1 2 1-17 1-19 1-1 1 3 1 23 1 33 1 11 1-5 1-40 1-8 1-13 1 4 1 62 1 33 1-25 1-11 1-26 1-5 1-15 1 30 1 38 1 71 1-22 1-59 1-36 1 41 1-3 1-8 1-29 1 35 1 1 1-39 1-15 1-10 1-22 1 5 1 94 1-17 1 51 1-13 1-37 1 20 1 40 1 10 1-11 1 13 1 38 1 22 1 10 1 65 1 22 1 24 1-21 1-46 1-31 1-27 1 48 1-28 1-1 1-12 1 70 1 60 1 16 1-22 1-105 1-30 1 30 1 30 1 36 1 1 1 42 1 5 1 0 1-1 1 7 1-18 1-37 1-55 1 13 1 62 1 43 1 15 1-4 1-19 1-40 1-30 1-30 1-31 1 44 1 42 1 25 1 12 1-32 1-17 1-22 1-3 1-6 1-13 1 39 1 46 1-53 1-17 1-20 1 14 1 12 1-39 1-3 1 11 1-29 1-4 1 32 1-6 1 39 1 23 1-41 1-5 1-30 1 21 1-3 1 40 1-22 1-8 1 31 1 44 1 19 1 11 1 2 1-21 1-14 1-30 1-50 1 37 1-19 1 0 1-34 1-8 1-6 1-4 1-17 1-18 1 3 1 0 1-17 1 3 1-14 1 2 1-21 1-32 1-25 1 4 1 5 1-18 1 55 1 57 1 9 1-10 1-40 1-46 1-41 1-22 1-12 1 2 1 41 1 5 1-24 1-2 1-10 1-13 1 19 1 16 1 18 1-23 1 1 1-21 1 19 1 18 1-19 1-5 1-9 1 52 1 22 1-28 1-12 1-13 1-19 1-7 1 30 1-14 1-8 1-17 1 10 1 34 1-3 1-1 1-18 1-4 1-16 1 15 1 38 1 30 1-25 1-21 1 30 1-20 1-26 1-19 1-8 1 3 1 42 1 12 1-18 1 0 1 27 1 24 1 5 1-28 1-17 1-27 1-13 1 39 1 0 1 39 1 7 1 34 1 0 1 9 1 23 1 14 1 24 1 19 1 50 1-5 1-55 1 3 1-18 1 43 1 71 1 41 1-5 1-48 1-3 1-19 1 58 1 41 1-24 1-28 1-45 1-31 1 20 1 19 1 31 1 21 1 12 1-40 1 24 1-43 1-54 1-30 1 13 1 28 1 45 1 49 1 4 1 6 1-30 1-32 1-40 1-33V0Z"/>
<path transform="translate(962.8,640.82) scale(0.99919,-0.1)" d="M0,0V272l1 27 1 3 1-11 1 69 1 54 1 12 1-2 1-2 1-12 1-30 1-69 1-28 1-12 1-46 1 8 1-25 1 8 1 34 1-14 1 9 1 6 1-45 1 10 1 25 1 32 1 12 1 49 1-25 1-51 1 7 1-16 1 27 1 13 1 32 1 29 1-18 1-45 1 40 1 46 1 64 1 0 1 16 1-4 1-32 1-82 1 7 1-7 1 13 1 20 1 22 1-21 1 12 1-47 1 14 1-40 1 55 1-19 1 15 1-51 1-10 1-23 1 0 1-22 1-9 1-20 1-17 1-47 1-42 1-10 1 49 1 60 1 49 1-17 1-16 1-64 1-39 1-34 1 15 1 39 1-42 1 11 1-27 1 30 1 67 1-34 1-33 1-15 1-31 1 2 1 67 1-3 1-22 1 63 1-14 1-26 1-33 1 28 1 2 1-30 1-21 1-16 1 1 1 14 1 60 1 52 1-37 1-26 1-29 1 3 1-12 1-9 1-13 1 10 1 33 1-25 1 28 1 17 1-30 1 24 1 12 1-28 1-11 1-9 1-20 1 21 1 55 1 30 1-24 1-7 1-28 1 21 1 3 1-31 1-31 1-12 1 30 1 36 1-15 1 37 1 20 1 2 1 7 1 33 1 16 1-25 1-3 1 18 1 20 1 28 1 30 1 28 1 42 1 21 1 27 1 20 1-38 1-74 1-31 1-1 1 17 1-6 1 75 1 19 1 15 1-45 1-16 1-21 1-16 1 2 1-14 1 12 1-12 1 2 1-36 1 47 1 2 1 38 1 38 1 24 1 10 1-10 1-79 1 34 1-13 1-27 1-27 1 24 1-15 1 41 1-9 1 55 1-9 1 26 1 0 1-40 1-57 1-18 1-44 1-15 1 23 1 9 1 12 1 7 1 46 1 8 1 20 1 11 1-45 1-62 1-14 1 11 1-11 1 23 1 14 1 23 1-18 1-42 1-3 1 31 1 31 1 71 1 28 1-13 1-30 1-60 1-5 1 36 1 49 1 7 1 2 1 1 1-23 1-28 1-46 1-42 1 16 1 20 1 9 1-49 1 25 1-26 1-9 1-14 1-33 1 2 1-64 1 15 1-32 1-28 1-25 1-12 1 2 1 23 1-7 1 9 1-24 1 29 1 80 1 45 1 34 1-40 1-33 1-74 1 2 1 11 1-4 1-7 1 34 1 12 1-15 1-20 1-3 1-20 1-6 1-20 1 2 1 8 1-2 1 6 1-18 1 3 1 2 1-6 1 43 1 58 1 25 1-25 1-35 1-25 1 31 1-23 1-13 1-18 1-14 1 30 1 52 1-31 1 32 1 12 1-47 1-29 1 4 1 4 1 32 1 17 1-25 1-18 1-31 1 16 1-9 1 8 1 66 1-20 1 38 1 2 1-14 1-22 1-14 1-7 1-16 1 2 1 44 1 30 1 6 1 10 1-6 1 15 1 18 1 60 1-38 1 18 1 2 1 47 1 13 1 13 1 43 1 22 1 24 1-19 1-43 1-57 1-36 1-12 1 44 1 49 1 58 1 18 1-11 1-37 1-53 1-40 1 18 1-15 1 22 1 13 1 36 1 27 1 19 1 18 1-9 1-12 1 4 1-38 1-16 1-37 1 42 1 54 1-2 1-41V0Z"/>
<rect x="960.9" y="36.3" width="373.6" height="9.9" fill="#000"/>
<rect x="1017.7" y="39" width="90" height="4.2" fill="#fff"/>
<rect x="1202.3" y="39" width="90.5" height="4.2" fill="#fff"/>
<rect x="960.3" y="38.5" width="2.5" height="605" fill="#000"/>
<rect x="1332.8" y="38.5" width="2.5" height="605" fill="#000"/>
<path d="M961.55,640 V643.7 H1334.05 V640" fill="none" stroke="#000" stroke-width="2.5" stroke-linejoin="round"/>
<rect x="962.8" y="640.7" width="370" height="1.5" fill="#b4b4b4"/>
<rect x="1016.2" y="643" width="2" height="4.4" fill="#000"/>
<rect x="1108.5" y="643" width="2" height="4.4" fill="#000"/>
<rect x="1200.8" y="643" width="2" height="4.4" fill="#000"/>
<rect x="1293.3" y="643" width="2" height="4.4" fill="#000"/>
<text transform="translate(1008.78,672.55) scale(1.2573,1)" font-size="25.35" fill="#000">0</text>
<text transform="translate(1091.25,672.8) scale(1.2437,1)" font-size="25.71" fill="#000">12</text>
<text transform="translate(1193.37,672.55) scale(1.2573,1)" font-size="25.35" fill="#000">0</text>
<text transform="translate(1276.55,672.8) scale(1.2437,1)" font-size="25.71" fill="#000">12</text>
<text transform="translate(1073.04,702.2) scale(1.1655,1)" font-size="32.75" fill="#000">Time (ZT)</text>
<line x1="956.1" y1="73.2" x2="960.8" y2="73.2" stroke="#000" stroke-width="1.7"/>
<line x1="956.1" y1="122.86" x2="960.8" y2="122.86" stroke="#000" stroke-width="1.7"/>
<line x1="956.1" y1="172.52" x2="960.8" y2="172.52" stroke="#000" stroke-width="1.7"/>
<line x1="956.1" y1="222.18" x2="960.8" y2="222.18" stroke="#000" stroke-width="1.7"/>
<line x1="956.1" y1="271.84" x2="960.8" y2="271.84" stroke="#000" stroke-width="1.7"/>
<line x1="956.1" y1="321.5" x2="960.8" y2="321.5" stroke="#000" stroke-width="1.7"/>
<line x1="956.1" y1="371.16" x2="960.8" y2="371.16" stroke="#000" stroke-width="1.7"/>
<line x1="956.1" y1="420.82" x2="960.8" y2="420.82" stroke="#000" stroke-width="1.7"/>
<line x1="956.1" y1="470.48" x2="960.8" y2="470.48" stroke="#000" stroke-width="1.7"/>
<line x1="956.1" y1="520.14" x2="960.8" y2="520.14" stroke="#000" stroke-width="1.7"/>
<line x1="956.1" y1="569.8" x2="960.8" y2="569.8" stroke="#000" stroke-width="1.7"/>
<line x1="956.1" y1="619.46" x2="960.8" y2="619.46" stroke="#000" stroke-width="1.7"/>
<text transform="translate(272.9,33.91) scale(1.1098,1)" font-size="39.01" font-weight="bold" fill="#000">SPF</text>
<text transform="translate(707.96,33.91) scale(1.1169,1)" font-size="39.01" font-weight="bold" fill="#000">GF</text>
<text transform="translate(1089.25,33.91) scale(1.1191,1)" font-size="39.01" font-weight="bold" fill="#000">ex-GF</text>
<text transform="translate(7.5,107.8) scale(0.9722,1)" font-size="112.75" fill="#000">A</text>
<text transform="translate(95.46,83.2) scale(0.8933,1)" font-size="27.54" fill="#000">1</text>
<text transform="translate(93.54,132.86) scale(1.2770,1)" font-size="27.54" fill="#000">2</text>
<text transform="translate(93.95,182.52) scale(1.2233,1)" font-size="27.54" fill="#000">3</text>
<text transform="translate(94.67,232.18) scale(1.1506,1)" font-size="27.54" fill="#000">4</text>
<text transform="translate(93.95,281.84) scale(1.2233,1)" font-size="27.54" fill="#000">5</text>
<text transform="translate(93.58,331.5) scale(1.2496,1)" font-size="27.54" fill="#000">6</text>
<text transform="translate(93.54,381.16) scale(1.2770,1)" font-size="27.54" fill="#000">7</text>
<text transform="translate(93.77,430.82) scale(1.2363,1)" font-size="27.54" fill="#000">8</text>
<text transform="translate(93.75,480.48) scale(1.2496,1)" font-size="27.54" fill="#000">9</text>
<text transform="translate(77.55,530.14) scale(1.1403,1)" font-size="27.54" fill="#000">10</text>
<text transform="translate(77.49,579.8) scale(1.1192,1)" font-size="27.54" fill="#000">11</text>
<text transform="translate(77.51,629.46) scale(1.1577,1)" font-size="27.54" fill="#000">12</text>
<text transform="translate(71.83,375.82) rotate(-90) scale(0.7503,1)" font-size="43.67" fill="#000">Day</text>
</g>
<g id="panelB1">
<clipPath id="clipB"><rect x="203.3" y="740.2" width="1134.3" height="490.3"/></clipPath>
<rect x="368.8" y="740.2" width="283.6" height="490.3" fill="#d1d2d4"/>
<rect x="936" y="740.2" width="283.6" height="490.3" fill="#d1d2d4"/>
<rect x="203.3" y="740.2" width="1134.3" height="490.3" fill="none" stroke="#000" stroke-width="2.6"/>
<line x1="368.8" y1="740.2" x2="368.8" y2="1238" stroke="#000" stroke-width="2.6"/>
<line x1="652.4" y1="740.2" x2="652.4" y2="1238" stroke="#000" stroke-width="2.6"/>
<line x1="936" y1="740.2" x2="936" y2="1238" stroke="#000" stroke-width="2.6"/>
<line x1="1219.6" y1="740.2" x2="1219.6" y2="1238" stroke="#000" stroke-width="2.6"/>
<g clip-path="url(#clipB)" fill="none" stroke-linejoin="round" stroke-linecap="round">
<polygon points="201.0,1175.9 203.4,1174.7 205.7,1172.9 208.1,1171.3 210.5,1169.3 212.8,1177.0 215.2,1181.0 217.5,1181.4 219.9,1183.8 222.3,1184.4 224.6,1185.1 227.0,1187.3 229.4,1185.2 231.7,1182.4 234.1,1178.9 236.5,1179.7 238.8,1179.7 241.2,1169.6 243.5,1155.2 245.9,1156.7 248.3,1162.5 250.6,1164.1 253.0,1159.9 255.4,1159.5 257.7,1163.3 260.1,1164.6 262.4,1171.1 264.8,1167.1 267.2,1171.3 269.5,1166.3 271.9,1159.2 274.3,1151.7 276.6,1158.4 279.0,1159.6 281.4,1160.5 283.7,1152.7 286.1,1149.8 288.4,1146.4 290.8,1138.9 293.2,1152.1 295.5,1157.0 297.9,1153.5 300.3,1151.9 302.6,1149.2 305.0,1145.4 307.4,1145.7 309.7,1141.6 312.1,1133.8 314.4,1128.6 316.8,1121.4 319.2,1116.0 321.5,1105.7 323.9,1105.8 326.3,1102.1 328.6,1102.1 331.0,1100.9 333.3,1095.6 335.7,1091.6 338.1,1082.1 340.4,1072.6 342.8,1058.7 345.2,1053.9 347.5,1052.6 349.9,1046.8 352.3,1042.2 354.6,1046.2 357.0,1042.3 359.3,1034.0 361.7,1016.6 364.1,1005.1 366.4,996.2 368.8,985.6 371.2,965.2 373.5,938.7 375.9,912.2 378.3,888.1 380.6,863.4 383.0,840.7 385.3,819.1 387.7,811.8 390.1,808.3 392.4,809.8 394.8,814.3 397.2,835.8 399.5,855.1 401.9,866.7 404.2,873.5 406.6,874.3 409.0,879.1 411.3,877.5 413.7,883.8 416.1,884.2 418.4,898.6 420.8,900.6 423.2,893.2 425.5,875.1 427.9,871.4 430.2,870.9 432.6,872.0 435.0,871.5 437.3,868.2 439.7,867.3 442.1,869.6 444.4,871.5 446.8,875.0 449.2,876.7 451.5,880.5 453.9,880.5 456.2,883.5 458.6,882.3 461.0,871.8 463.3,867.7 465.7,860.4 468.1,860.8 470.4,856.4 472.8,851.0 475.1,851.5 477.5,855.8 479.9,861.1 482.2,866.9 484.6,870.4 487.0,874.5 489.3,883.0 491.7,886.3 494.1,885.4 496.4,882.6 498.8,878.8 501.1,890.5 503.5,894.4 505.9,903.3 508.2,906.6 510.6,913.4 513.0,911.4 515.3,909.7 517.7,914.4 520.1,922.8 522.4,925.6 524.8,931.3 527.1,928.0 529.5,930.1 531.9,924.1 534.2,923.3 536.6,928.1 539.0,935.8 541.3,941.6 543.7,938.5 546.0,940.1 548.4,945.4 550.8,951.1 553.1,951.7 555.5,953.2 557.9,958.0 560.2,959.3 562.6,952.0 565.0,939.8 567.3,933.9 569.7,929.1 572.0,929.4 574.4,928.3 576.8,925.7 579.1,925.5 581.5,923.6 583.9,930.3 586.2,931.2 588.6,935.7 591.0,936.1 593.3,931.7 595.7,921.2 598.0,906.7 600.4,890.7 602.8,879.9 605.1,872.9 607.5,870.6 609.9,856.7 612.2,851.9 614.6,847.9 616.9,850.5 619.3,853.7 621.7,861.5 624.0,870.6 626.4,871.5 628.8,875.8 631.1,871.3 633.5,872.3 635.9,870.3 638.2,880.1 640.6,898.3 642.9,921.5 645.3,940.3 647.7,959.7 650.0,973.5 652.4,978.5 654.8,979.6 657.1,969.6 659.5,976.5 661.9,974.9 664.2,990.8 666.6,998.6 668.9,1016.3 671.3,1031.7 673.7,1042.1 676.0,1050.4 678.4,1058.0 680.8,1077.2 683.1,1088.3 685.5,1102.0 687.8,1105.9 690.2,1119.0 692.6,1124.3 694.9,1134.5 697.3,1134.7 699.7,1137.5 702.0,1125.2 704.4,1122.5 706.8,1118.7 709.1,1128.3 711.5,1138.6 713.8,1139.8 716.2,1152.6 718.6,1150.8 720.9,1156.6 723.3,1158.2 725.7,1160.1 728.0,1161.9 730.4,1159.3 732.8,1160.1 735.1,1157.0 737.5,1159.4 739.8,1153.7 742.2,1157.1 744.6,1159.9 746.9,1169.7 749.3,1166.8 751.7,1168.4 754.0,1169.7 756.4,1163.5 758.7,1168.7 761.1,1164.0 763.5,1167.5 765.8,1165.2 768.2,1175.3 770.6,1175.2 772.9,1171.9 775.3,1175.4 777.7,1167.4 780.0,1178.4 782.4,1180.9 784.7,1181.8 787.1,1184.0 789.5,1183.4 791.8,1181.9 794.2,1187.7 796.6,1186.4 798.9,1183.5 801.3,1173.9 803.7,1180.4 806.0,1177.5 808.4,1170.6 810.7,1165.1 813.1,1150.8 815.5,1160.1 817.8,1162.2 820.2,1159.9 822.6,1155.9 824.9,1164.5 827.3,1165.2 829.6,1169.7 832.0,1166.4 834.4,1170.4 836.7,1158.4 839.1,1160.7 841.5,1155.3 843.8,1159.3 846.2,1162.5 848.6,1159.0 850.9,1151.8 853.3,1148.1 855.6,1142.5 858.0,1144.8 860.4,1152.5 862.7,1158.4 865.1,1155.6 867.5,1150.2 869.8,1151.5 872.2,1145.0 874.6,1142.9 876.9,1139.4 879.3,1134.6 881.6,1122.5 884.0,1123.5 886.4,1114.1 888.7,1103.2 891.1,1100.7 893.5,1105.8 895.8,1105.2 898.2,1104.0 900.5,1093.1 902.9,1091.2 905.3,1079.5 907.6,1070.9 910.0,1059.8 912.4,1056.3 914.7,1054.1 917.1,1054.8 919.5,1047.4 921.8,1048.9 924.2,1040.2 926.5,1032.5 928.9,1016.3 931.3,1006.7 933.6,995.0 936.0,987.1 938.4,964.0 940.7,938.5 943.1,911.0 945.5,887.4 947.8,864.1 950.2,838.9 952.5,818.9 954.9,812.6 957.3,808.9 959.6,807.9 962.0,816.2 964.4,834.1 966.7,856.2 969.1,866.8 971.4,872.5 973.8,874.9 976.2,878.9 978.5,878.1 980.9,883.0 983.3,886.4 985.6,896.8 988.0,899.3 990.4,892.1 992.7,876.5 995.1,872.5 997.4,868.8 999.8,871.4 1002.2,870.2 1004.5,868.0 1006.9,868.5 1009.3,868.5 1011.6,872.7 1014.0,873.0 1016.4,877.3 1018.7,881.3 1021.1,877.5 1023.4,884.0 1025.8,881.2 1028.2,873.2 1030.5,868.0 1032.9,860.0 1035.3,859.7 1037.6,856.1 1040.0,851.9 1042.3,852.2 1044.7,855.8 1047.1,862.8 1049.4,867.0 1051.8,868.0 1054.2,875.0 1056.5,883.0 1058.9,887.2 1061.3,885.1 1063.6,881.0 1066.0,880.9 1068.3,890.5 1070.7,893.9 1073.1,902.0 1075.4,907.3 1077.8,913.4 1080.2,910.0 1082.5,909.8 1084.9,914.5 1087.3,922.2 1089.6,925.2 1092.0,931.2 1094.3,928.4 1096.7,929.7 1099.1,924.5 1101.4,923.3 1103.8,928.7 1106.2,934.5 1108.5,940.7 1110.9,939.0 1113.2,942.6 1115.6,946.1 1118.0,952.2 1120.3,953.0 1122.7,953.0 1125.1,958.5 1127.4,957.2 1129.8,953.2 1132.2,938.6 1134.5,934.4 1136.9,929.9 1139.2,926.6 1141.6,930.2 1144.0,924.3 1146.3,925.4 1148.7,923.3 1151.1,928.6 1153.4,931.3 1155.8,935.7 1158.2,935.9 1160.5,931.5 1162.9,921.9 1165.2,904.8 1167.6,890.0 1170.0,880.5 1172.3,873.7 1174.7,869.9 1177.1,859.9 1179.4,852.1 1181.8,845.3 1184.1,850.4 1186.5,853.2 1188.9,861.9 1191.2,869.0 1193.6,872.3 1196.0,875.7 1198.3,871.9 1200.7,870.6 1203.1,870.4 1205.4,881.0 1207.8,898.1 1210.1,921.5 1212.5,940.5 1214.9,962.8 1217.2,973.1 1219.6,978.9 1222.0,980.2 1224.3,969.5 1226.7,976.2 1229.1,973.6 1231.4,993.1 1233.8,1001.5 1236.1,1015.3 1238.5,1031.8 1240.9,1041.3 1243.2,1044.9 1245.6,1056.1 1248.0,1075.7 1250.3,1092.6 1252.7,1097.7 1255.0,1110.5 1257.4,1121.9 1259.8,1124.9 1262.1,1136.3 1264.5,1134.9 1266.9,1144.1 1269.2,1122.1 1271.6,1120.6 1274.0,1117.3 1276.3,1126.4 1278.7,1132.1 1281.0,1146.8 1283.4,1154.3 1285.8,1152.7 1288.1,1154.4 1290.5,1155.5 1292.9,1163.2 1295.2,1161.8 1297.6,1162.6 1300.0,1159.8 1302.3,1157.9 1304.7,1159.0 1307.0,1156.0 1309.4,1157.3 1311.8,1161.5 1314.1,1165.6 1316.5,1167.2 1318.9,1172.8 1321.2,1169.9 1323.6,1164.7 1325.9,1166.4 1328.3,1167.4 1330.7,1165.3 1333.0,1167.3 1335.4,1176.1 1337.8,1180.2 1337.8,1194.4 1335.4,1189.1 1333.0,1186.5 1330.7,1182.0 1328.3,1183.3 1325.9,1183.9 1323.6,1180.6 1321.2,1187.7 1318.9,1187.4 1316.5,1193.1 1314.1,1187.3 1311.8,1177.2 1309.4,1183.2 1307.0,1172.2 1304.7,1176.1 1302.3,1173.6 1300.0,1182.9 1297.6,1178.4 1295.2,1183.3 1292.9,1178.7 1290.5,1174.3 1288.1,1173.0 1285.8,1173.6 1283.4,1169.5 1281.0,1161.4 1278.7,1154.5 1276.3,1143.6 1274.0,1136.0 1271.6,1138.4 1269.2,1145.0 1266.9,1158.8 1264.5,1154.4 1262.1,1153.5 1259.8,1143.8 1257.4,1138.6 1255.0,1127.0 1252.7,1122.9 1250.3,1112.4 1248.0,1092.3 1245.6,1077.0 1243.2,1069.9 1240.9,1060.3 1238.5,1051.2 1236.1,1031.6 1233.8,1015.1 1231.4,1007.5 1229.1,989.9 1226.7,989.4 1224.3,981.2 1222.0,991.4 1219.6,989.5 1217.2,985.6 1214.9,973.0 1212.5,951.0 1210.1,931.4 1207.8,908.2 1205.4,892.1 1203.1,881.0 1200.7,884.0 1198.3,884.1 1196.0,887.6 1193.6,886.4 1191.2,882.5 1188.9,872.7 1186.5,865.1 1184.1,863.0 1181.8,859.2 1179.4,862.4 1177.1,870.3 1174.7,881.8 1172.3,885.1 1170.0,891.3 1167.6,901.5 1165.2,922.0 1162.9,933.7 1160.5,942.5 1158.2,948.2 1155.8,950.7 1153.4,942.9 1151.1,942.6 1148.7,935.4 1146.3,936.5 1144.0,937.9 1141.6,942.0 1139.2,939.5 1136.9,940.4 1134.5,944.7 1132.2,951.6 1129.8,965.0 1127.4,969.6 1125.1,969.6 1122.7,964.6 1120.3,966.3 1118.0,962.7 1115.6,957.0 1113.2,954.5 1110.9,951.8 1108.5,952.0 1106.2,946.3 1103.8,940.7 1101.4,935.6 1099.1,935.5 1096.7,941.1 1094.3,940.7 1092.0,941.9 1089.6,937.3 1087.3,933.4 1084.9,926.0 1082.5,920.8 1080.2,921.0 1077.8,925.3 1075.4,920.0 1073.1,914.4 1070.7,905.2 1068.3,900.5 1066.0,891.6 1063.6,893.0 1061.3,895.5 1058.9,898.8 1056.5,893.6 1054.2,887.9 1051.8,880.7 1049.4,882.7 1047.1,874.6 1044.7,865.5 1042.3,862.3 1040.0,862.7 1037.6,867.6 1035.3,871.6 1032.9,872.4 1030.5,879.6 1028.2,885.5 1025.8,893.0 1023.4,895.3 1021.1,891.1 1018.7,892.5 1016.4,889.3 1014.0,887.0 1011.6,883.1 1009.3,880.3 1006.9,880.5 1004.5,879.3 1002.2,881.5 999.8,882.2 997.4,881.0 995.1,884.9 992.7,888.3 990.4,903.8 988.0,912.6 985.6,909.2 983.3,897.1 980.9,893.8 978.5,889.4 976.2,890.7 973.8,885.6 971.4,886.9 969.1,877.3 966.7,866.8 964.4,846.9 962.0,828.2 959.6,819.7 957.3,820.4 954.9,824.8 952.5,830.4 950.2,851.8 947.8,876.0 945.5,900.1 943.1,922.9 940.7,951.7 938.4,977.2 936.0,998.7 933.6,1009.2 931.3,1019.9 928.9,1031.1 926.5,1045.8 924.2,1057.1 921.8,1062.4 919.5,1064.7 917.1,1074.1 914.7,1074.7 912.4,1076.6 910.0,1076.0 907.6,1088.2 905.3,1101.1 902.9,1111.8 900.5,1115.1 898.2,1122.8 895.8,1124.8 893.5,1123.6 891.1,1122.1 888.7,1127.6 886.4,1134.4 884.0,1140.1 881.6,1148.5 879.3,1155.1 876.9,1163.7 874.6,1164.3 872.2,1166.2 869.8,1165.7 867.5,1167.3 865.1,1180.6 862.7,1175.2 860.4,1173.1 858.0,1166.2 855.6,1164.6 853.3,1167.1 850.9,1172.1 848.6,1182.1 846.2,1183.5 843.8,1177.3 841.5,1180.0 839.1,1182.8 836.7,1188.0 834.4,1188.7 832.0,1184.8 829.6,1186.6 827.3,1182.6 824.9,1180.9 822.6,1178.4 820.2,1177.7 817.8,1179.4 815.5,1183.2 813.1,1180.6 810.7,1181.3 808.4,1187.6 806.0,1194.3 803.7,1198.2 801.3,1196.6 798.9,1201.5 796.6,1204.7 794.2,1213.2 791.8,1202.0 789.5,1205.0 787.1,1203.7 784.7,1202.9 782.4,1198.4 780.0,1195.6 777.7,1189.2 775.3,1190.3 772.9,1192.5 770.6,1198.5 768.2,1189.4 765.8,1184.8 763.5,1182.3 761.1,1184.1 758.7,1186.0 756.4,1186.2 754.0,1190.2 751.7,1192.6 749.3,1189.0 746.9,1187.0 744.6,1183.8 742.2,1174.0 739.8,1174.1 737.5,1175.8 735.1,1177.9 732.8,1174.1 730.4,1176.3 728.0,1182.5 725.7,1182.1 723.3,1176.0 720.9,1175.1 718.6,1170.4 716.2,1168.8 713.8,1166.7 711.5,1157.9 709.1,1145.4 706.8,1135.8 704.4,1138.7 702.0,1150.5 699.7,1161.1 697.3,1154.6 694.9,1151.7 692.6,1144.2 690.2,1142.8 687.8,1131.9 685.5,1121.5 683.1,1109.3 680.8,1092.5 678.4,1080.2 676.0,1067.6 673.7,1058.9 671.3,1047.8 668.9,1031.8 666.6,1018.4 664.2,1010.1 661.9,987.8 659.5,989.4 657.1,982.5 654.8,992.7 652.4,990.3 650.0,986.0 647.7,972.8 645.3,951.6 642.9,933.4 640.6,909.5 638.2,893.6 635.9,881.7 633.5,882.8 631.1,883.3 628.8,885.8 626.4,884.8 624.0,884.1 621.7,873.6 619.3,865.6 616.9,861.0 614.6,862.3 612.2,863.1 609.9,871.2 607.5,881.5 605.1,883.9 602.8,892.1 600.4,902.9 598.0,917.3 595.7,933.2 593.3,943.1 591.0,947.4 588.6,947.7 586.2,941.9 583.9,941.6 581.5,934.4 579.1,936.2 576.8,937.2 574.4,942.0 572.0,941.2 569.7,941.6 567.3,945.4 565.0,949.7 562.6,963.0 560.2,969.7 557.9,969.6 555.5,965.5 553.1,963.0 550.8,964.4 548.4,957.1 546.0,953.0 543.7,950.2 541.3,954.3 539.0,946.1 536.6,938.5 534.2,937.7 531.9,935.6 529.5,943.8 527.1,941.3 524.8,942.0 522.4,937.9 520.1,936.2 517.7,926.2 515.3,921.0 513.0,921.4 510.6,924.9 508.2,921.1 505.9,915.1 503.5,906.1 501.1,900.8 498.8,892.2 496.4,894.6 494.1,897.1 491.7,899.9 489.3,895.2 487.0,886.6 484.6,881.5 482.2,877.5 479.9,874.0 477.5,867.9 475.1,862.2 472.8,864.1 470.4,867.6 468.1,871.6 465.7,871.2 463.3,880.2 461.0,886.0 458.6,892.7 456.2,894.6 453.9,892.3 451.5,891.4 449.2,888.7 446.8,888.0 444.4,882.8 442.1,881.3 439.7,880.4 437.3,879.4 435.0,882.4 432.6,882.9 430.2,882.9 427.9,883.1 425.5,887.3 423.2,903.5 420.8,912.6 418.4,910.1 416.1,896.2 413.7,894.6 411.3,889.4 409.0,893.3 406.6,886.3 404.2,885.6 401.9,878.1 399.5,869.7 397.2,846.3 394.8,828.2 392.4,821.5 390.1,820.6 387.7,825.2 385.3,831.4 383.0,853.9 380.6,875.9 378.3,898.4 375.9,922.2 373.5,949.8 371.2,976.9 368.8,997.8 366.4,1009.4 364.1,1019.8 361.7,1032.9 359.3,1049.9 357.0,1055.6 354.6,1064.6 352.3,1065.1 349.9,1074.3 347.5,1069.6 345.2,1075.2 342.8,1076.3 340.4,1088.2 338.1,1101.9 335.7,1108.7 333.3,1114.6 331.0,1124.0 328.6,1125.0 326.3,1122.9 323.9,1123.8 321.5,1122.9 319.2,1130.4 316.8,1138.3 314.4,1145.9 312.1,1153.7 309.7,1161.2 307.4,1161.9 305.0,1166.1 302.6,1173.4 300.3,1167.1 297.9,1183.6 295.5,1175.3 293.2,1170.9 290.8,1167.4 288.4,1162.7 286.1,1166.1 283.7,1176.9 281.4,1183.8 279.0,1181.5 276.6,1176.3 274.3,1171.2 271.9,1181.3 269.5,1182.7 267.2,1192.7 264.8,1186.3 262.4,1186.1 260.1,1180.6 257.7,1183.5 255.4,1178.6 253.0,1176.7 250.6,1180.6 248.3,1179.4 245.9,1177.8 243.5,1183.5 241.2,1186.9 238.8,1199.3 236.5,1195.9 234.1,1198.1 231.7,1202.3 229.4,1203.8 227.0,1208.8 224.6,1206.1 222.3,1202.5 219.9,1202.5 217.5,1203.3 215.2,1198.2 212.8,1192.8 210.5,1187.3 208.1,1190.9 205.7,1194.6 203.4,1193.2 201.0,1189.3" fill="#9a9a9a" stroke="none"/>
<polygon points="201.0,1182.5 203.4,1180.9 205.7,1180.8 208.1,1180.0 210.5,1180.5 212.8,1180.2 215.2,1182.8 217.5,1186.7 219.9,1187.7 222.3,1186.8 224.6,1185.4 227.0,1184.4 229.4,1180.3 231.7,1175.4 234.1,1174.3 236.5,1171.8 238.8,1173.0 241.2,1171.6 243.5,1164.0 245.9,1161.5 248.3,1163.7 250.6,1168.6 253.0,1167.9 255.4,1170.6 257.7,1174.5 260.1,1177.7 262.4,1180.3 264.8,1180.9 267.2,1178.9 269.5,1177.4 271.9,1176.1 274.3,1172.3 276.6,1170.3 279.0,1169.6 281.4,1165.6 283.7,1162.4 286.1,1160.0 288.4,1158.2 290.8,1155.2 293.2,1150.0 295.5,1148.5 297.9,1147.6 300.3,1145.8 302.6,1142.7 305.0,1139.7 307.4,1137.8 309.7,1136.4 312.1,1132.6 314.4,1129.1 316.8,1124.7 319.2,1120.9 321.5,1119.6 323.9,1119.1 326.3,1117.4 328.6,1115.0 331.0,1114.3 333.3,1119.6 335.7,1124.7 338.1,1127.9 340.4,1130.7 342.8,1128.8 345.2,1125.1 347.5,1115.7 349.9,1107.8 352.3,1102.1 354.6,1092.4 357.0,1083.8 359.3,1076.2 361.7,1070.2 364.1,1069.1 366.4,1065.8 368.8,1064.6 371.2,1051.6 373.5,1032.6 375.9,1002.2 378.3,970.2 380.6,938.9 383.0,909.7 385.3,886.1 387.7,863.1 390.1,844.7 392.4,831.8 394.8,827.7 397.2,832.0 399.5,838.2 401.9,842.3 404.2,847.6 406.6,852.5 409.0,857.4 411.3,862.0 413.7,865.9 416.1,868.1 418.4,870.9 420.8,873.8 423.2,877.4 425.5,881.5 427.9,881.7 430.2,879.6 432.6,875.8 435.0,872.1 437.3,867.0 439.7,862.3 442.1,857.0 444.4,852.7 446.8,850.3 449.2,848.8 451.5,851.9 453.9,854.7 456.2,856.0 458.6,857.0 461.0,858.8 463.3,860.5 465.7,862.1 468.1,861.3 470.4,862.0 472.8,861.5 475.1,860.5 477.5,860.3 479.9,858.7 482.2,859.0 484.6,858.9 487.0,858.9 489.3,857.9 491.7,859.7 494.1,860.2 496.4,862.4 498.8,864.6 501.1,867.9 503.5,873.7 505.9,879.7 508.2,887.0 510.6,896.6 513.0,904.2 515.3,914.7 517.7,920.9 520.1,927.0 522.4,933.5 524.8,937.4 527.1,943.2 529.5,946.6 531.9,950.8 534.2,955.8 536.6,958.9 539.0,959.2 541.3,961.0 543.7,963.7 546.0,967.8 548.4,971.8 550.8,976.4 553.1,982.6 555.5,983.9 557.9,985.6 560.2,982.5 562.6,978.8 565.0,973.0 567.3,967.1 569.7,962.4 572.0,957.4 574.4,951.5 576.8,948.8 579.1,946.8 581.5,943.3 583.9,939.2 586.2,933.7 588.6,928.0 591.0,922.2 593.3,915.3 595.7,911.4 598.0,907.3 600.4,905.4 602.8,903.0 605.1,901.0 607.5,901.3 609.9,902.1 612.2,904.2 614.6,906.7 616.9,910.4 619.3,912.4 621.7,915.1 624.0,917.1 626.4,926.7 628.8,936.2 631.1,947.9 633.5,958.4 635.9,970.1 638.2,981.4 640.6,991.4 642.9,1000.4 645.3,1011.6 647.7,1022.7 650.0,1034.3 652.4,1047.0 654.8,1064.5 657.1,1080.7 659.5,1093.7 661.9,1107.2 664.2,1122.0 666.6,1135.8 668.9,1145.1 671.3,1158.0 673.7,1166.5 676.0,1174.7 678.4,1180.1 680.8,1182.3 683.1,1184.6 685.5,1191.6 687.8,1194.7 690.2,1195.5 692.6,1195.1 694.9,1197.4 697.3,1198.5 699.7,1200.0 702.0,1202.1 704.4,1202.2 706.8,1200.0 709.1,1198.9 711.5,1194.7 713.8,1189.0 716.2,1183.2 718.6,1181.4 720.9,1184.0 723.3,1186.8 725.7,1190.3 728.0,1190.4 730.4,1190.0 732.8,1189.3 735.1,1187.1 737.5,1188.7 739.8,1186.1 742.2,1188.5 744.6,1188.3 746.9,1185.6 749.3,1184.9 751.7,1185.2 754.0,1184.2 756.4,1186.2 758.7,1184.0 761.1,1184.8 763.5,1185.0 765.8,1185.0 768.2,1182.1 770.6,1176.2 772.9,1179.4 775.3,1180.2 777.7,1180.7 780.0,1181.7 782.4,1182.8 784.7,1186.1 787.1,1186.5 789.5,1186.1 791.8,1185.6 794.2,1183.3 796.6,1179.4 798.9,1176.5 801.3,1174.6 803.7,1174.7 806.0,1171.6 808.4,1170.1 810.7,1166.0 813.1,1161.6 815.5,1162.9 817.8,1165.4 820.2,1168.6 822.6,1173.0 824.9,1174.6 827.3,1178.7 829.6,1178.2 832.0,1180.4 834.4,1179.2 836.7,1178.3 839.1,1176.3 841.5,1172.1 843.8,1169.9 846.2,1169.3 848.6,1167.0 850.9,1162.6 853.3,1160.1 855.6,1156.9 858.0,1153.0 860.4,1151.8 862.7,1146.8 865.1,1146.8 867.5,1144.9 869.8,1141.8 872.2,1139.1 874.6,1137.7 876.9,1135.4 879.3,1130.8 881.6,1128.4 884.0,1124.2 886.4,1122.4 888.7,1119.7 891.1,1118.4 893.5,1114.8 895.8,1113.4 898.2,1115.0 900.5,1120.3 902.9,1123.7 905.3,1126.8 907.6,1128.9 910.0,1129.9 912.4,1124.7 914.7,1117.1 917.1,1108.9 919.5,1100.3 921.8,1093.4 924.2,1083.4 926.5,1075.7 928.9,1071.6 931.3,1069.4 933.6,1066.4 936.0,1064.1 938.4,1051.2 940.7,1033.3 943.1,1002.6 945.5,971.3 947.8,938.6 950.2,909.8 952.5,886.2 954.9,863.8 957.3,843.8 959.6,832.5 962.0,828.2 964.4,832.3 966.7,838.4 969.1,842.9 971.4,847.2 973.8,852.5 976.2,858.0 978.5,861.9 980.9,865.9 983.3,868.4 985.6,870.6 988.0,874.7 990.4,877.4 992.7,881.4 995.1,881.4 997.4,879.0 999.8,875.8 1002.2,872.4 1004.5,866.2 1006.9,862.5 1009.3,856.9 1011.6,853.1 1014.0,850.2 1016.4,849.0 1018.7,852.2 1021.1,854.6 1023.4,855.7 1025.8,856.9 1028.2,858.9 1030.5,860.3 1032.9,861.6 1035.3,861.4 1037.6,861.4 1040.0,861.6 1042.3,859.9 1044.7,859.7 1047.1,859.0 1049.4,859.3 1051.8,858.5 1054.2,858.9 1056.5,858.0 1058.9,859.6 1061.3,860.0 1063.6,862.0 1066.0,864.5 1068.3,867.6 1070.7,873.3 1073.1,880.5 1075.4,887.3 1077.8,896.4 1080.2,904.7 1082.5,914.3 1084.9,920.3 1087.3,926.8 1089.6,932.3 1092.0,937.9 1094.3,942.7 1096.7,947.2 1099.1,951.1 1101.4,956.0 1103.8,958.7 1106.2,960.8 1108.5,961.0 1110.9,964.1 1113.2,967.9 1115.6,970.9 1118.0,976.9 1120.3,982.2 1122.7,983.8 1125.1,985.8 1127.4,981.8 1129.8,979.0 1132.2,972.8 1134.5,967.4 1136.9,962.3 1139.2,957.1 1141.6,951.2 1144.0,948.4 1146.3,947.0 1148.7,944.0 1151.1,939.2 1153.4,934.3 1155.8,928.3 1158.2,922.1 1160.5,915.6 1162.9,910.7 1165.2,907.3 1167.6,905.1 1170.0,902.3 1172.3,901.3 1174.7,901.2 1177.1,902.5 1179.4,904.5 1181.8,907.0 1184.1,910.0 1186.5,912.6 1188.9,915.2 1191.2,917.0 1193.6,926.9 1196.0,936.7 1198.3,947.5 1200.7,957.5 1203.1,970.6 1205.4,981.5 1207.8,990.6 1210.1,1000.1 1212.5,1011.8 1214.9,1023.2 1217.2,1033.8 1219.6,1046.8 1222.0,1063.0 1224.3,1080.6 1226.7,1093.0 1229.1,1108.1 1231.4,1121.3 1233.8,1135.1 1236.1,1147.7 1238.5,1158.5 1240.9,1166.9 1243.2,1173.3 1245.6,1180.8 1248.0,1183.2 1250.3,1187.5 1252.7,1191.1 1255.0,1195.5 1257.4,1195.7 1259.8,1197.6 1262.1,1197.7 1264.5,1200.0 1266.9,1200.9 1269.2,1203.3 1271.6,1203.2 1274.0,1201.1 1276.3,1197.2 1278.7,1194.1 1281.0,1187.0 1283.4,1180.3 1285.8,1182.6 1288.1,1183.9 1290.5,1185.2 1292.9,1187.1 1295.2,1188.2 1297.6,1188.7 1300.0,1188.2 1302.3,1187.4 1304.7,1189.1 1307.0,1188.7 1309.4,1187.9 1311.8,1187.3 1314.1,1185.3 1316.5,1185.9 1318.9,1184.7 1321.2,1184.9 1323.6,1186.4 1325.9,1185.5 1328.3,1184.1 1330.7,1184.6 1333.0,1185.6 1335.4,1182.5 1337.8,1181.9 1337.8,1194.3 1335.4,1197.6 1333.0,1198.8 1330.7,1201.8 1328.3,1201.0 1325.9,1199.4 1323.6,1200.8 1321.2,1200.5 1318.9,1200.6 1316.5,1201.2 1314.1,1202.0 1311.8,1202.1 1309.4,1204.4 1307.0,1203.0 1304.7,1203.8 1302.3,1203.4 1300.0,1205.0 1297.6,1205.8 1295.2,1205.7 1292.9,1204.8 1290.5,1201.3 1288.1,1199.1 1285.8,1199.0 1283.4,1198.1 1281.0,1203.4 1278.7,1209.2 1276.3,1216.3 1274.0,1218.0 1271.6,1219.1 1269.2,1217.8 1266.9,1215.7 1264.5,1214.2 1262.1,1211.6 1259.8,1212.9 1257.4,1210.4 1255.0,1209.9 1252.7,1207.2 1250.3,1203.6 1248.0,1198.7 1245.6,1195.1 1243.2,1190.0 1240.9,1183.1 1238.5,1172.6 1236.1,1161.8 1233.8,1148.7 1231.4,1135.0 1229.1,1122.4 1226.7,1105.7 1224.3,1091.6 1222.0,1074.7 1219.6,1056.4 1217.2,1042.4 1214.9,1032.0 1212.5,1021.0 1210.1,1009.0 1207.8,999.4 1205.4,990.1 1203.1,978.8 1200.7,966.5 1198.3,956.9 1196.0,945.8 1193.6,935.5 1191.2,925.3 1188.9,923.9 1186.5,921.2 1184.1,918.7 1181.8,915.9 1179.4,913.2 1177.1,911.2 1174.7,909.7 1172.3,909.5 1170.0,911.1 1167.6,914.1 1165.2,916.0 1162.9,919.8 1160.5,923.6 1158.2,930.3 1155.8,937.1 1153.4,943.2 1151.1,948.0 1148.7,952.3 1146.3,955.0 1144.0,957.1 1141.6,960.0 1139.2,966.5 1136.9,971.5 1134.5,976.2 1132.2,981.4 1129.8,987.8 1127.4,990.8 1125.1,994.5 1122.7,992.9 1120.3,991.5 1118.0,985.5 1115.6,980.8 1113.2,976.3 1110.9,972.3 1108.5,970.1 1106.2,969.3 1103.8,968.2 1101.4,964.2 1099.1,959.7 1096.7,955.5 1094.3,952.1 1092.0,947.1 1089.6,941.7 1087.3,936.0 1084.9,929.3 1082.5,923.5 1080.2,913.8 1077.8,905.3 1075.4,896.2 1073.1,889.1 1070.7,882.5 1068.3,876.5 1066.0,873.6 1063.6,870.5 1061.3,869.1 1058.9,868.2 1056.5,866.9 1054.2,868.0 1051.8,868.2 1049.4,867.5 1047.1,867.5 1044.7,868.7 1042.3,869.8 1040.0,870.1 1037.6,870.8 1035.3,870.7 1032.9,870.5 1030.5,868.9 1028.2,868.1 1025.8,865.7 1023.4,864.1 1021.1,863.3 1018.7,860.4 1016.4,857.8 1014.0,859.0 1011.6,861.7 1009.3,865.4 1006.9,870.8 1004.5,875.5 1002.2,881.7 999.8,884.8 997.4,888.4 995.1,890.3 992.7,890.3 990.4,887.1 988.0,883.1 985.6,880.0 983.3,877.0 980.9,874.4 978.5,870.4 976.2,866.4 973.8,860.7 971.4,856.8 969.1,851.6 966.7,847.0 964.4,841.0 962.0,837.4 959.6,840.9 957.3,853.5 954.9,872.8 952.5,894.3 950.2,918.5 947.8,947.6 945.5,979.8 943.1,1011.5 940.7,1042.1 938.4,1060.0 936.0,1073.3 933.6,1075.5 931.3,1080.2 928.9,1082.0 926.5,1087.6 924.2,1096.2 921.8,1105.9 919.5,1115.7 917.1,1122.7 914.7,1133.1 912.4,1141.3 910.0,1144.7 907.6,1145.1 905.3,1144.1 902.9,1140.6 900.5,1135.1 898.2,1130.3 895.8,1131.6 893.5,1131.0 891.1,1133.6 888.7,1134.4 886.4,1137.0 884.0,1140.4 881.6,1145.0 879.3,1149.9 876.9,1152.7 874.6,1151.9 872.2,1154.7 869.8,1158.9 867.5,1161.5 865.1,1163.0 862.7,1163.6 860.4,1166.4 858.0,1173.1 855.6,1172.7 853.3,1175.4 850.9,1178.8 848.6,1182.3 846.2,1183.6 843.8,1185.3 841.5,1188.3 839.1,1191.6 836.7,1194.4 834.4,1193.9 832.0,1196.5 829.6,1195.7 827.3,1192.9 824.9,1191.9 822.6,1187.2 820.2,1184.7 817.8,1183.2 815.5,1181.0 813.1,1176.1 810.7,1180.7 808.4,1186.2 806.0,1187.0 803.7,1188.7 801.3,1189.3 798.9,1194.9 796.6,1195.7 794.2,1199.8 791.8,1200.1 789.5,1202.1 787.1,1201.8 784.7,1200.7 782.4,1198.8 780.0,1197.6 777.7,1197.5 775.3,1196.1 772.9,1194.2 770.6,1196.6 768.2,1197.5 765.8,1200.1 763.5,1200.9 761.1,1201.7 758.7,1199.8 756.4,1201.2 754.0,1200.2 751.7,1201.1 749.3,1200.7 746.9,1200.9 744.6,1202.2 742.2,1203.3 739.8,1204.3 737.5,1204.5 735.1,1202.5 732.8,1204.5 730.4,1204.5 728.0,1206.9 725.7,1206.5 723.3,1201.5 720.9,1199.8 718.6,1197.4 716.2,1198.8 713.8,1206.4 711.5,1209.2 709.1,1215.1 706.8,1217.4 704.4,1218.3 702.0,1217.8 699.7,1215.4 697.3,1215.0 694.9,1212.5 692.6,1212.4 690.2,1211.8 687.8,1210.2 685.5,1206.0 683.1,1205.1 680.8,1199.1 678.4,1195.4 676.0,1189.5 673.7,1181.4 671.3,1173.1 668.9,1161.1 666.6,1149.6 664.2,1135.5 661.9,1121.3 659.5,1106.6 657.1,1091.5 654.8,1074.7 652.4,1056.5 650.0,1042.7 647.7,1031.8 645.3,1020.4 642.9,1009.3 640.6,999.4 638.2,989.9 635.9,978.9 633.5,966.5 631.1,957.4 628.8,945.2 626.4,935.3 624.0,926.2 621.7,924.0 619.3,921.8 616.9,918.7 614.6,915.4 612.2,914.3 609.9,911.0 607.5,909.9 605.1,910.0 602.8,912.8 600.4,913.6 598.0,917.1 595.7,919.8 593.3,924.2 591.0,930.5 588.6,937.0 586.2,943.2 583.9,948.0 581.5,952.5 579.1,955.2 576.8,957.4 574.4,960.5 572.0,966.0 569.7,971.3 567.3,976.0 565.0,981.3 562.6,987.6 560.2,991.3 557.9,994.4 555.5,992.6 553.1,990.7 550.8,985.6 548.4,981.5 546.0,976.4 543.7,973.3 541.3,970.3 539.0,969.4 536.6,967.3 534.2,964.1 531.9,960.7 529.5,956.4 527.1,951.3 524.8,947.0 522.4,941.8 520.1,935.6 517.7,929.1 515.3,923.0 513.0,913.5 510.6,905.3 508.2,896.6 505.9,888.6 503.5,882.6 501.1,876.8 498.8,873.1 496.4,870.5 494.1,868.7 491.7,868.2 489.3,866.6 487.0,867.5 484.6,867.7 482.2,867.6 479.9,867.4 477.5,868.5 475.1,868.9 472.8,870.5 470.4,871.0 468.1,870.4 465.7,870.2 463.3,868.7 461.0,868.6 458.6,866.0 456.2,865.4 453.9,864.0 451.5,860.5 449.2,857.3 446.8,858.6 444.4,861.4 442.1,865.8 439.7,871.0 437.3,876.1 435.0,881.6 432.6,885.1 430.2,887.8 427.9,890.5 425.5,889.7 423.2,886.8 420.8,883.1 418.4,879.3 416.1,876.9 413.7,874.8 411.3,870.7 409.0,866.6 406.6,861.2 404.2,856.1 401.9,851.8 399.5,846.7 397.2,841.5 394.8,837.3 392.4,841.8 390.1,853.2 387.7,873.1 385.3,894.4 383.0,918.0 380.6,947.2 378.3,980.1 375.9,1011.2 373.5,1041.8 371.2,1061.0 368.8,1073.2 366.4,1075.6 364.1,1078.8 361.7,1081.9 359.3,1087.7 357.0,1096.7 354.6,1108.1 352.3,1116.9 349.9,1123.1 347.5,1132.8 345.2,1140.8 342.8,1144.6 340.4,1147.1 338.1,1144.5 335.7,1140.6 333.3,1135.2 331.0,1130.8 328.6,1130.0 326.3,1132.5 323.9,1134.8 321.5,1135.5 319.2,1137.5 316.8,1139.2 314.4,1143.9 312.1,1147.1 309.7,1150.8 307.4,1154.5 305.0,1154.7 302.6,1157.7 300.3,1159.9 297.9,1164.1 295.5,1163.4 293.2,1168.7 290.8,1169.4 288.4,1172.0 286.1,1175.4 283.7,1178.5 281.4,1182.2 279.0,1185.0 276.6,1186.3 274.3,1189.9 271.9,1191.2 269.5,1192.5 267.2,1194.4 264.8,1196.8 262.4,1194.8 260.1,1193.2 257.7,1191.8 255.4,1187.9 253.0,1185.1 250.6,1183.7 248.3,1180.7 245.9,1176.2 243.5,1180.6 241.2,1185.5 238.8,1187.0 236.5,1190.2 234.1,1191.9 231.7,1193.4 229.4,1195.8 227.0,1200.0 224.6,1200.2 222.3,1201.5 219.9,1202.9 217.5,1200.5 215.2,1199.3 212.8,1197.2 210.5,1197.0 208.1,1195.5 205.7,1193.6 203.4,1194.2 201.0,1196.4" fill="#f4a3ad" stroke="none"/>
<polygon points="201.0,1139.9 203.4,1142.9 205.7,1140.0 208.1,1138.1 210.5,1136.0 212.8,1137.3 215.2,1131.8 217.5,1125.2 219.9,1129.2 222.3,1131.9 224.6,1138.6 227.0,1141.8 229.4,1145.3 231.7,1148.1 234.1,1151.6 236.5,1156.2 238.8,1155.2 241.2,1155.6 243.5,1150.2 245.9,1144.0 248.3,1144.1 250.6,1141.8 253.0,1141.3 255.4,1145.1 257.7,1148.6 260.1,1150.9 262.4,1147.7 264.8,1148.4 267.2,1153.1 269.5,1153.8 271.9,1154.0 274.3,1157.2 276.6,1158.4 279.0,1155.8 281.4,1148.4 283.7,1140.0 286.1,1132.3 288.4,1126.7 290.8,1128.3 293.2,1124.5 295.5,1124.6 297.9,1124.0 300.3,1121.4 302.6,1125.0 305.0,1126.6 307.4,1127.3 309.7,1124.7 312.1,1122.0 314.4,1119.6 316.8,1117.2 319.2,1114.8 321.5,1114.0 323.9,1109.1 326.3,1105.3 328.6,1101.9 331.0,1101.0 333.3,1099.4 335.7,1096.7 338.1,1090.7 340.4,1084.1 342.8,1075.3 345.2,1068.6 347.5,1062.0 349.9,1057.3 352.3,1055.9 354.6,1052.3 357.0,1044.6 359.3,1035.7 361.7,1021.2 364.1,1009.7 366.4,997.2 368.8,983.2 371.2,963.7 373.5,943.2 375.9,917.5 378.3,890.1 380.6,857.9 383.0,827.3 385.3,798.5 387.7,783.3 390.1,770.8 392.4,766.5 394.8,765.6 397.2,768.9 399.5,772.5 401.9,779.7 404.2,786.8 406.6,794.5 409.0,800.5 411.3,804.4 413.7,810.0 416.1,812.0 418.4,817.1 420.8,821.0 423.2,824.0 425.5,825.3 427.9,824.5 430.2,823.8 432.6,823.8 435.0,824.4 437.3,823.3 439.7,820.3 442.1,815.7 444.4,817.2 446.8,815.5 449.2,815.0 451.5,812.8 453.9,813.4 456.2,813.5 458.6,810.6 461.0,809.6 463.3,808.1 465.7,804.8 468.1,806.8 470.4,806.8 472.8,811.2 475.1,810.8 477.5,811.1 479.9,809.0 482.2,806.0 484.6,802.1 487.0,797.9 489.3,796.9 491.7,798.1 494.1,798.1 496.4,799.2 498.8,800.8 501.1,805.9 503.5,809.2 505.9,820.2 508.2,828.3 510.6,840.3 513.0,849.4 515.3,861.2 517.7,873.0 520.1,884.0 522.4,892.8 524.8,898.9 527.1,905.0 529.5,913.8 531.9,924.7 534.2,932.6 536.6,935.6 539.0,941.5 541.3,947.0 543.7,952.6 546.0,954.5 548.4,957.5 550.8,963.6 553.1,969.2 555.5,971.2 557.9,973.8 560.2,970.2 562.6,967.7 565.0,962.2 567.3,957.1 569.7,951.6 572.0,951.1 574.4,949.7 576.8,946.1 579.1,942.2 581.5,939.8 583.9,935.8 586.2,932.5 588.6,924.7 591.0,921.6 593.3,914.8 595.7,907.3 598.0,896.2 600.4,886.4 602.8,879.4 605.1,873.1 607.5,867.5 609.9,865.9 612.2,862.5 614.6,861.1 616.9,854.6 619.3,850.6 621.7,844.5 624.0,839.1 626.4,831.3 628.8,823.2 631.1,817.5 633.5,811.5 635.9,806.1 638.2,806.3 640.6,807.1 642.9,810.7 645.3,813.8 647.7,822.3 650.0,836.3 652.4,850.6 654.8,864.2 657.1,876.5 659.5,881.8 661.9,895.9 664.2,919.6 666.6,944.3 668.9,972.0 671.3,997.9 673.7,1020.1 676.0,1039.7 678.4,1055.6 680.8,1067.2 683.1,1083.3 685.5,1098.1 687.8,1110.6 690.2,1118.1 692.6,1124.3 694.9,1122.6 697.3,1119.2 699.7,1112.4 702.0,1108.4 704.4,1107.0 706.8,1106.5 709.1,1108.8 711.5,1110.7 713.8,1110.4 716.2,1109.8 718.6,1115.1 720.9,1117.4 723.3,1125.0 725.7,1127.8 728.0,1132.1 730.4,1136.1 732.8,1142.2 735.1,1146.0 737.5,1149.5 739.8,1149.9 742.2,1147.3 744.6,1146.8 746.9,1142.5 749.3,1139.4 751.7,1137.0 754.0,1138.5 756.4,1139.5 758.7,1142.5 761.1,1143.5 763.5,1141.0 765.8,1138.7 768.2,1140.1 770.6,1142.2 772.9,1140.2 775.3,1138.4 777.7,1136.5 780.0,1136.7 782.4,1131.7 784.7,1123.9 787.1,1128.5 789.5,1132.5 791.8,1138.7 794.2,1142.8 796.6,1143.8 798.9,1147.3 801.3,1151.2 803.7,1154.7 806.0,1157.0 808.4,1154.9 810.7,1148.4 813.1,1143.6 815.5,1142.2 817.8,1143.8 820.2,1141.6 822.6,1145.0 824.9,1146.3 827.3,1149.5 829.6,1148.3 832.0,1151.4 834.4,1151.5 836.7,1154.3 839.1,1153.3 841.5,1157.4 843.8,1157.7 846.2,1155.1 848.6,1147.2 850.9,1141.3 853.3,1133.4 855.6,1128.1 858.0,1128.4 860.4,1126.5 862.7,1126.3 865.1,1120.6 867.5,1122.8 869.8,1125.0 872.2,1123.4 874.6,1126.8 876.9,1126.1 879.3,1123.2 881.6,1120.9 884.0,1117.7 886.4,1114.7 888.7,1112.5 891.1,1110.2 893.5,1103.6 895.8,1101.9 898.2,1099.8 900.5,1099.4 902.9,1096.6 905.3,1090.1 907.6,1083.7 910.0,1076.3 912.4,1067.7 914.7,1061.0 917.1,1057.5 919.5,1055.0 921.8,1051.4 924.2,1044.0 926.5,1035.8 928.9,1021.4 931.3,1008.8 933.6,997.9 936.0,983.5 938.4,963.2 940.7,943.0 943.1,917.6 945.5,889.6 947.8,857.2 950.2,826.9 952.5,799.3 954.9,783.4 957.3,770.6 959.6,766.9 962.0,766.2 964.4,768.9 966.7,772.2 969.1,779.3 971.4,786.7 973.8,794.2 976.2,800.2 978.5,804.9 980.9,810.0 983.3,812.2 985.6,817.1 988.0,820.4 990.4,824.1 992.7,825.5 995.1,824.6 997.4,822.7 999.8,823.9 1002.2,824.5 1004.5,822.9 1006.9,820.5 1009.3,815.3 1011.6,816.6 1014.0,815.7 1016.4,815.1 1018.7,812.5 1021.1,812.8 1023.4,813.3 1025.8,811.3 1028.2,808.6 1030.5,807.4 1032.9,805.6 1035.3,806.7 1037.6,806.9 1040.0,810.9 1042.3,810.8 1044.7,811.1 1047.1,808.0 1049.4,806.7 1051.8,801.8 1054.2,798.8 1056.5,796.8 1058.9,797.6 1061.3,797.3 1063.6,799.2 1066.0,800.3 1068.3,805.5 1070.7,809.6 1073.1,820.1 1075.4,828.8 1077.8,840.2 1080.2,850.0 1082.5,861.6 1084.9,873.7 1087.3,884.3 1089.6,892.4 1092.0,899.2 1094.3,904.0 1096.7,914.1 1099.1,924.7 1101.4,932.2 1103.8,935.9 1106.2,941.4 1108.5,947.0 1110.9,952.4 1113.2,954.8 1115.6,958.3 1118.0,963.3 1120.3,969.0 1122.7,971.1 1125.1,973.1 1127.4,970.2 1129.8,967.7 1132.2,962.0 1134.5,957.0 1136.9,951.5 1139.2,950.8 1141.6,949.5 1144.0,946.6 1146.3,942.2 1148.7,939.1 1151.1,936.3 1153.4,931.9 1155.8,925.3 1158.2,920.6 1160.5,914.1 1162.9,908.0 1165.2,896.5 1167.6,887.2 1170.0,879.2 1172.3,873.2 1174.7,867.0 1177.1,865.3 1179.4,862.3 1181.8,860.9 1184.1,854.0 1186.5,850.3 1188.9,844.5 1191.2,838.2 1193.6,831.6 1196.0,823.1 1198.3,818.0 1200.7,811.4 1203.1,806.8 1205.4,805.7 1207.8,808.3 1210.1,810.5 1212.5,813.8 1214.9,821.9 1217.2,836.9 1219.6,850.4 1222.0,864.3 1224.3,876.4 1226.7,880.1 1229.1,899.0 1231.4,918.7 1233.8,944.4 1236.1,972.6 1238.5,996.0 1240.9,1020.7 1243.2,1039.1 1245.6,1052.8 1248.0,1067.6 1250.3,1083.1 1252.7,1098.5 1255.0,1110.1 1257.4,1120.0 1259.8,1124.2 1262.1,1122.5 1264.5,1117.9 1266.9,1113.0 1269.2,1105.9 1271.6,1105.7 1274.0,1105.7 1276.3,1107.7 1278.7,1110.3 1281.0,1111.4 1283.4,1113.2 1285.8,1113.9 1288.1,1118.0 1290.5,1124.9 1292.9,1127.1 1295.2,1132.5 1297.6,1136.3 1300.0,1142.8 1302.3,1146.8 1304.7,1149.7 1307.0,1151.4 1309.4,1148.3 1311.8,1147.8 1314.1,1143.9 1316.5,1138.3 1318.9,1135.4 1321.2,1137.9 1323.6,1139.4 1325.9,1143.0 1328.3,1143.1 1330.7,1141.5 1333.0,1139.8 1335.4,1141.1 1337.8,1142.5 1337.8,1155.6 1335.4,1153.8 1333.0,1152.9 1330.7,1156.4 1328.3,1158.3 1325.9,1157.0 1323.6,1155.5 1321.2,1152.5 1318.9,1151.8 1316.5,1153.2 1314.1,1157.8 1311.8,1163.6 1309.4,1164.3 1307.0,1166.9 1304.7,1166.2 1302.3,1163.5 1300.0,1158.9 1297.6,1151.8 1295.2,1147.6 1292.9,1142.8 1290.5,1140.0 1288.1,1133.7 1285.8,1129.7 1283.4,1128.1 1281.0,1127.4 1278.7,1126.8 1276.3,1125.5 1274.0,1122.0 1271.6,1122.6 1269.2,1122.3 1266.9,1128.2 1264.5,1132.7 1262.1,1137.9 1259.8,1138.7 1257.4,1133.7 1255.0,1125.1 1252.7,1113.4 1250.3,1097.8 1248.0,1083.5 1245.6,1071.3 1243.2,1056.7 1240.9,1034.4 1238.5,1012.6 1236.1,986.4 1233.8,957.6 1231.4,932.0 1229.1,911.6 1226.7,893.0 1224.3,886.8 1222.0,875.3 1219.6,860.1 1217.2,846.0 1214.9,831.5 1212.5,823.2 1210.1,819.8 1207.8,817.1 1205.4,815.2 1203.1,815.9 1200.7,821.1 1198.3,826.9 1196.0,832.0 1193.6,840.7 1191.2,847.9 1188.9,853.4 1186.5,859.7 1184.1,863.9 1181.8,870.0 1179.4,872.1 1177.1,874.6 1174.7,877.1 1172.3,882.3 1170.0,888.5 1167.6,896.1 1165.2,905.7 1162.9,917.2 1160.5,923.8 1158.2,930.9 1155.8,934.4 1153.4,941.5 1151.1,945.1 1148.7,949.5 1146.3,951.8 1144.0,955.6 1141.6,958.5 1139.2,960.4 1136.9,960.8 1134.5,965.8 1132.2,971.6 1129.8,977.2 1127.4,979.8 1125.1,982.7 1122.7,980.1 1120.3,978.1 1118.0,972.6 1115.6,967.8 1113.2,964.1 1110.9,961.7 1108.5,956.7 1106.2,950.2 1103.8,945.0 1101.4,942.3 1099.1,933.5 1096.7,923.5 1094.3,914.1 1092.0,908.2 1089.6,902.4 1087.3,893.5 1084.9,882.9 1082.5,870.5 1080.2,858.9 1077.8,849.9 1075.4,838.2 1073.1,829.7 1070.7,818.9 1068.3,815.3 1066.0,810.2 1063.6,809.1 1061.3,807.7 1058.9,807.4 1056.5,805.9 1054.2,807.8 1051.8,811.4 1049.4,816.5 1047.1,818.4 1044.7,820.7 1042.3,820.6 1040.0,821.2 1037.6,816.0 1035.3,817.2 1032.9,815.1 1030.5,817.1 1028.2,818.9 1025.8,820.7 1023.4,822.6 1021.1,822.3 1018.7,822.5 1016.4,824.8 1014.0,824.5 1011.6,827.0 1009.3,824.4 1006.9,829.6 1004.5,832.2 1002.2,833.8 999.8,832.7 997.4,832.6 995.1,833.8 992.7,834.7 990.4,833.6 988.0,830.8 985.6,826.8 983.3,822.7 980.9,819.6 978.5,814.2 976.2,810.0 973.8,804.4 971.4,795.8 969.1,788.8 966.7,781.7 964.4,778.2 962.0,775.4 959.6,775.7 957.3,780.4 954.9,792.3 952.5,808.3 950.2,837.0 947.8,867.4 945.5,899.3 943.1,927.1 940.7,952.8 938.4,972.4 936.0,992.5 933.6,1007.8 931.3,1020.4 928.9,1033.2 926.5,1049.1 924.2,1056.6 921.8,1065.0 919.5,1070.9 917.1,1072.4 914.7,1077.7 912.4,1082.9 910.0,1091.9 907.6,1099.6 905.3,1105.1 902.9,1111.6 900.5,1114.8 898.2,1116.3 895.8,1116.7 893.5,1118.7 891.1,1125.7 888.7,1128.6 886.4,1132.8 884.0,1132.2 881.6,1139.5 879.3,1140.5 876.9,1142.0 874.6,1143.2 872.2,1141.2 869.8,1139.5 867.5,1136.5 865.1,1137.8 862.7,1140.1 860.4,1141.8 858.0,1144.2 855.6,1144.9 853.3,1150.1 850.9,1157.3 848.6,1163.9 846.2,1172.7 843.8,1172.9 841.5,1173.6 839.1,1169.0 836.7,1168.8 834.4,1168.5 832.0,1166.2 829.6,1164.5 827.3,1165.6 824.9,1162.8 822.6,1161.5 820.2,1157.3 817.8,1157.3 815.5,1161.2 813.1,1160.6 810.7,1164.4 808.4,1169.6 806.0,1171.5 803.7,1170.5 801.3,1166.8 798.9,1163.6 796.6,1161.2 794.2,1157.1 791.8,1154.9 789.5,1147.3 787.1,1143.7 784.7,1143.2 782.4,1146.2 780.0,1153.4 777.7,1153.3 775.3,1153.6 772.9,1156.4 770.6,1157.2 768.2,1155.6 765.8,1154.3 763.5,1155.9 761.1,1158.1 758.7,1157.2 756.4,1155.8 754.0,1154.2 751.7,1153.1 749.3,1153.4 746.9,1158.5 744.6,1162.2 742.2,1164.1 739.8,1166.1 737.5,1165.1 735.1,1162.8 732.8,1158.0 730.4,1151.9 728.0,1148.9 725.7,1142.9 723.3,1140.1 720.9,1134.1 718.6,1129.5 716.2,1128.5 713.8,1127.0 711.5,1127.6 709.1,1123.7 706.8,1122.6 704.4,1124.3 702.0,1122.9 699.7,1128.4 697.3,1133.4 694.9,1138.8 692.6,1138.5 690.2,1134.5 687.8,1125.2 685.5,1114.9 683.1,1099.0 680.8,1084.9 678.4,1070.7 676.0,1054.6 673.7,1035.0 671.3,1013.9 668.9,986.5 666.6,957.7 664.2,933.8 661.9,911.9 659.5,893.7 657.1,887.2 654.8,874.8 652.4,860.5 650.0,845.7 647.7,831.4 645.3,823.1 642.9,820.2 640.6,818.3 638.2,815.7 635.9,816.9 633.5,821.0 631.1,826.8 628.8,832.4 626.4,840.3 624.0,848.0 621.7,853.4 619.3,859.9 616.9,863.6 614.6,870.1 612.2,871.5 609.9,875.0 607.5,877.4 605.1,882.2 602.8,888.8 600.4,895.9 598.0,905.2 595.7,917.1 593.3,924.8 591.0,930.5 588.6,934.2 586.2,941.4 583.9,945.4 581.5,949.1 579.1,951.8 576.8,955.4 574.4,958.6 572.0,960.1 569.7,961.1 567.3,965.9 565.0,970.8 562.6,976.8 560.2,979.3 557.9,982.9 555.5,980.5 553.1,978.4 550.8,972.4 548.4,967.5 546.0,964.3 543.7,961.8 541.3,956.1 539.0,950.4 536.6,944.9 534.2,942.1 531.9,934.2 529.5,923.1 527.1,914.1 524.8,908.1 522.4,902.1 520.1,893.2 517.7,883.2 515.3,870.3 513.0,859.0 510.6,849.7 508.2,837.7 505.9,829.2 503.5,818.4 501.1,815.5 498.8,809.5 496.4,809.0 494.1,807.1 491.7,807.7 489.3,806.0 487.0,808.2 484.6,811.3 482.2,815.5 479.9,818.4 477.5,820.3 475.1,820.1 472.8,820.7 470.4,815.7 468.1,816.3 465.7,815.1 463.3,817.2 461.0,819.0 458.6,820.9 456.2,822.4 453.9,822.8 451.5,822.6 449.2,824.7 446.8,825.6 444.4,826.0 442.1,824.8 439.7,829.7 437.3,832.4 435.0,833.5 432.6,832.8 430.2,833.1 427.9,833.9 425.5,834.4 423.2,833.6 420.8,830.4 418.4,826.0 416.1,822.2 413.7,819.9 411.3,814.4 409.0,809.5 406.6,803.6 404.2,796.3 401.9,788.6 399.5,781.6 397.2,778.7 394.8,775.4 392.4,776.1 390.1,780.9 387.7,792.6 385.3,808.5 383.0,837.1 380.6,867.9 378.3,899.2 375.9,926.9 373.5,952.8 371.2,972.3 368.8,992.7 366.4,1007.7 364.1,1020.0 361.7,1032.5 359.3,1047.7 357.0,1056.4 354.6,1065.2 352.3,1069.5 349.9,1071.9 347.5,1076.2 345.2,1085.6 342.8,1089.9 340.4,1101.0 338.1,1106.3 335.7,1111.5 333.3,1113.8 331.0,1114.7 328.6,1118.5 326.3,1121.3 323.9,1125.7 321.5,1129.9 319.2,1132.1 316.8,1134.1 314.4,1137.8 312.1,1137.7 309.7,1141.4 307.4,1141.6 305.0,1141.2 302.6,1140.4 300.3,1138.6 297.9,1138.6 295.5,1141.3 293.2,1142.3 290.8,1143.5 288.4,1142.9 286.1,1148.8 283.7,1156.2 281.4,1165.7 279.0,1172.9 276.6,1174.3 274.3,1172.3 271.9,1170.0 269.5,1169.0 267.2,1167.4 264.8,1166.6 262.4,1165.8 260.1,1165.6 257.7,1163.8 255.4,1160.1 253.0,1156.6 250.6,1161.0 248.3,1160.0 245.9,1158.8 243.5,1166.3 241.2,1170.0 238.8,1172.2 236.5,1171.3 234.1,1165.9 231.7,1162.9 229.4,1161.6 227.0,1158.3 224.6,1154.9 222.3,1146.5 219.9,1144.1 217.5,1141.9 215.2,1146.6 212.8,1152.7 210.5,1151.4 208.1,1155.6 205.7,1155.1 203.4,1156.9 201.0,1153.4" fill="#93bfea" stroke="none"/>
<line x1="203.3" y1="1018.2" x2="1337.6" y2="1018.2" stroke="#000" stroke-width="4.2"/>
<polyline points="201.0,1182.4 203.4,1186.5 205.7,1183.3 208.1,1182.4 210.5,1179.5 212.8,1185.6 215.2,1187.8 217.5,1192.0 219.9,1191.7 222.3,1192.9 224.6,1193.5 227.0,1196.8 229.4,1194.3 231.7,1191.2 234.1,1189.0 236.5,1187.4 238.8,1186.6 241.2,1180.1 243.5,1172.0 245.9,1166.6 248.3,1169.2 250.6,1171.3 253.0,1169.8 255.4,1169.6 257.7,1173.7 260.1,1172.7 262.4,1179.4 264.8,1176.6 267.2,1179.4 269.5,1173.6 271.9,1170.5 274.3,1164.6 276.6,1167.0 279.0,1173.0 281.4,1170.1 283.7,1165.1 286.1,1157.4 288.4,1155.7 290.8,1155.9 293.2,1163.4 295.5,1168.1 297.9,1166.7 300.3,1160.1 302.6,1158.7 305.0,1156.9 307.4,1154.9 309.7,1149.8 312.1,1143.8 314.4,1137.9 316.8,1130.4 319.2,1123.2 321.5,1112.9 323.9,1114.2 326.3,1114.3 328.6,1116.5 331.0,1112.1 333.3,1105.0 335.7,1099.6 338.1,1089.1 340.4,1081.4 342.8,1067.0 345.2,1067.1 347.5,1062.1 349.9,1063.9 352.3,1054.6 354.6,1055.3 357.0,1049.2 359.3,1039.9 361.7,1025.2 364.1,1012.7 366.4,1001.5 368.8,992.6 371.2,970.3 373.5,944.1 375.9,917.2 378.3,893.6 380.6,870.5 383.0,846.9 385.3,825.2 387.7,818.5 390.1,814.1 392.4,814.7 394.8,822.9 397.2,840.6 399.5,861.5 401.9,872.1 404.2,880.6 406.6,880.8 409.0,885.4 411.3,884.4 413.7,888.7 416.1,891.3 418.4,903.8 420.8,906.7 423.2,898.1 425.5,881.7 427.9,877.6 430.2,875.7 432.6,876.8 435.0,876.4 437.3,873.8 439.7,874.9 442.1,874.4 444.4,878.0 446.8,880.5 449.2,882.6 451.5,886.2 453.9,885.5 456.2,889.3 458.6,887.1 461.0,879.1 463.3,874.5 465.7,866.4 468.1,866.3 470.4,861.7 472.8,857.6 475.1,857.3 477.5,860.6 479.9,869.0 482.2,872.7 484.6,875.8 487.0,880.4 489.3,888.4 491.7,892.4 494.1,890.3 496.4,887.6 498.8,886.5 501.1,895.5 503.5,899.6 505.9,908.8 508.2,913.8 510.6,918.8 513.0,916.2 515.3,914.7 517.7,920.9 520.1,928.5 522.4,932.2 524.8,936.4 527.1,934.7 529.5,936.0 531.9,929.7 534.2,929.7 536.6,933.5 539.0,941.1 541.3,946.8 543.7,944.9 546.0,948.2 548.4,951.5 550.8,957.3 553.1,958.1 555.5,959.3 557.9,964.0 560.2,964.5 562.6,958.1 565.0,944.8 567.3,939.3 569.7,935.0 572.0,934.4 574.4,935.5 576.8,931.0 579.1,931.2 581.5,928.5 583.9,936.5 586.2,936.4 588.6,941.8 591.0,942.1 593.3,936.8 595.7,927.6 598.0,912.2 600.4,895.8 602.8,886.2 605.1,878.9 607.5,876.1 609.9,864.7 612.2,857.3 614.6,853.5 616.9,856.1 619.3,858.7 621.7,867.3 624.0,875.7 626.4,879.3 628.8,880.9 631.1,878.2 633.5,877.5 635.9,876.0 638.2,887.0 640.6,903.3 642.9,926.4 645.3,945.4 647.7,967.6 650.0,979.5 652.4,984.1 654.8,985.7 657.1,975.6 659.5,982.6 661.9,981.9 664.2,1000.6 666.6,1007.9 668.9,1023.8 671.3,1038.9 673.7,1050.2 676.0,1059.2 678.4,1067.8 680.8,1084.1 683.1,1099.4 685.5,1112.7 687.8,1118.4 690.2,1128.9 692.6,1132.6 694.9,1144.1 697.3,1146.9 699.7,1150.8 702.0,1136.8 704.4,1130.6 706.8,1126.6 709.1,1136.9 711.5,1145.6 713.8,1154.6 716.2,1161.1 718.6,1162.8 720.9,1165.8 723.3,1166.4 725.7,1171.1 728.0,1173.8 730.4,1169.7 732.8,1166.8 735.1,1165.8 737.5,1168.2 739.8,1164.1 742.2,1166.8 744.6,1170.1 746.9,1178.0 749.3,1181.2 751.7,1179.8 754.0,1178.1 756.4,1173.2 758.7,1176.7 761.1,1174.6 763.5,1175.4 765.8,1175.8 768.2,1182.4 770.6,1186.5 772.9,1183.3 775.3,1182.4 777.7,1179.5 780.0,1185.6 782.4,1187.8 784.7,1192.0 787.1,1191.7 789.5,1192.9 791.8,1193.5 794.2,1196.8 796.6,1194.3 798.9,1191.2 801.3,1189.0 803.7,1187.4 806.0,1186.6 808.4,1180.1 810.7,1172.0 813.1,1166.6 815.5,1169.2 817.8,1171.3 820.2,1169.8 822.6,1169.6 824.9,1173.7 827.3,1172.7 829.6,1179.4 832.0,1176.6 834.4,1179.4 836.7,1173.6 839.1,1170.5 841.5,1164.6 843.8,1167.0 846.2,1173.0 848.6,1170.1 850.9,1165.1 853.3,1157.4 855.6,1155.7 858.0,1155.9 860.4,1163.4 862.7,1168.1 865.1,1166.7 867.5,1160.1 869.8,1158.7 872.2,1156.9 874.6,1154.9 876.9,1149.8 879.3,1143.8 881.6,1137.9 884.0,1130.4 886.4,1123.2 888.7,1112.9 891.1,1114.2 893.5,1114.3 895.8,1116.5 898.2,1112.1 900.5,1105.0 902.9,1099.6 905.3,1089.1 907.6,1081.4 910.0,1067.0 912.4,1067.1 914.7,1062.1 917.1,1063.9 919.5,1054.6 921.8,1055.3 924.2,1049.2 926.5,1039.9 928.9,1025.2 931.3,1012.7 933.6,1001.5 936.0,992.6 938.4,970.3 940.7,944.1 943.1,917.2 945.5,893.6 947.8,870.5 950.2,846.9 952.5,825.2 954.9,818.5 957.3,814.1 959.6,814.7 962.0,822.9 964.4,840.6 966.7,861.5 969.1,872.1 971.4,880.6 973.8,880.8 976.2,885.4 978.5,884.4 980.9,888.7 983.3,891.3 985.6,903.8 988.0,906.7 990.4,898.1 992.7,881.7 995.1,877.6 997.4,875.7 999.8,876.8 1002.2,876.4 1004.5,873.8 1006.9,874.9 1009.3,874.4 1011.6,878.0 1014.0,880.5 1016.4,882.6 1018.7,886.2 1021.1,885.5 1023.4,889.3 1025.8,887.1 1028.2,879.1 1030.5,874.5 1032.9,866.4 1035.3,866.3 1037.6,861.7 1040.0,857.6 1042.3,857.3 1044.7,860.6 1047.1,869.0 1049.4,872.7 1051.8,875.8 1054.2,880.4 1056.5,888.4 1058.9,892.4 1061.3,890.3 1063.6,887.6 1066.0,886.5 1068.3,895.5 1070.7,899.6 1073.1,908.8 1075.4,913.8 1077.8,918.8 1080.2,916.2 1082.5,914.7 1084.9,920.9 1087.3,928.5 1089.6,932.2 1092.0,936.4 1094.3,934.7 1096.7,936.0 1099.1,929.7 1101.4,929.7 1103.8,933.5 1106.2,941.1 1108.5,946.8 1110.9,944.9 1113.2,948.2 1115.6,951.5 1118.0,957.3 1120.3,958.1 1122.7,959.3 1125.1,964.0 1127.4,964.5 1129.8,958.1 1132.2,944.8 1134.5,939.3 1136.9,935.0 1139.2,934.4 1141.6,935.5 1144.0,931.0 1146.3,931.2 1148.7,928.5 1151.1,936.5 1153.4,936.4 1155.8,941.8 1158.2,942.1 1160.5,936.8 1162.9,927.6 1165.2,912.2 1167.6,895.8 1170.0,886.2 1172.3,878.9 1174.7,876.1 1177.1,864.7 1179.4,857.3 1181.8,853.5 1184.1,856.1 1186.5,858.7 1188.9,867.3 1191.2,875.7 1193.6,879.3 1196.0,880.9 1198.3,878.2 1200.7,877.5 1203.1,876.0 1205.4,887.0 1207.8,903.3 1210.1,926.4 1212.5,945.4 1214.9,967.6 1217.2,979.5 1219.6,984.1 1222.0,985.7 1224.3,975.6 1226.7,982.6 1229.1,981.9 1231.4,1000.6 1233.8,1007.9 1236.1,1023.8 1238.5,1038.9 1240.9,1050.2 1243.2,1059.2 1245.6,1067.8 1248.0,1084.1 1250.3,1099.4 1252.7,1112.7 1255.0,1118.4 1257.4,1128.9 1259.8,1132.6 1262.1,1144.1 1264.5,1146.9 1266.9,1150.8 1269.2,1136.8 1271.6,1130.6 1274.0,1126.6 1276.3,1136.9 1278.7,1145.6 1281.0,1154.6 1283.4,1161.1 1285.8,1162.8 1288.1,1165.8 1290.5,1166.4 1292.9,1171.1 1295.2,1173.8 1297.6,1169.7 1300.0,1166.8 1302.3,1165.8 1304.7,1168.2 1307.0,1164.1 1309.4,1166.8 1311.8,1170.1 1314.1,1178.0 1316.5,1181.2 1318.9,1179.8 1321.2,1178.1 1323.6,1173.2 1325.9,1176.7 1328.3,1174.6 1330.7,1175.4 1333.0,1175.8 1335.4,1182.4 1337.8,1186.5" stroke="#000" stroke-width="6.1"/>
<line x1="203.3" y1="1042.8" x2="1337.6" y2="1042.8" stroke="#ec1c24" stroke-width="4.2"/>
<polyline points="201.0,1190.1 203.4,1187.5 205.7,1187.3 208.1,1188.0 210.5,1188.8 212.8,1189.4 215.2,1191.1 217.5,1193.6 219.9,1194.8 222.3,1193.9 224.6,1192.7 227.0,1191.5 229.4,1188.2 231.7,1185.3 234.1,1182.1 236.5,1181.6 238.8,1179.9 241.2,1178.4 243.5,1173.3 245.9,1169.3 248.3,1171.8 250.6,1175.5 253.0,1177.1 255.4,1180.1 257.7,1183.0 260.1,1186.0 262.4,1187.7 264.8,1188.3 267.2,1187.1 269.5,1185.3 271.9,1183.8 274.3,1180.3 276.6,1178.2 279.0,1176.5 281.4,1174.5 283.7,1170.7 286.1,1167.6 288.4,1165.1 290.8,1162.5 293.2,1159.5 295.5,1156.4 297.9,1155.2 300.3,1152.6 302.6,1150.4 305.0,1147.8 307.4,1144.7 309.7,1143.2 312.1,1139.5 314.4,1136.9 316.8,1132.1 319.2,1129.3 321.5,1127.1 323.9,1126.1 326.3,1124.2 328.6,1122.5 331.0,1122.6 333.3,1127.8 335.7,1132.0 338.1,1136.0 340.4,1137.7 342.8,1137.4 345.2,1132.0 347.5,1125.5 349.9,1116.1 352.3,1108.4 354.6,1099.6 357.0,1089.5 359.3,1082.2 361.7,1076.9 364.1,1074.0 366.4,1071.1 368.8,1068.9 371.2,1055.9 373.5,1037.6 375.9,1006.8 378.3,975.5 380.6,942.9 383.0,913.9 385.3,890.3 387.7,868.3 390.1,848.9 392.4,836.7 394.8,832.7 397.2,836.6 399.5,842.5 401.9,847.5 404.2,851.8 406.6,856.6 409.0,862.0 411.3,866.3 413.7,870.2 416.1,872.5 418.4,875.2 420.8,878.7 423.2,882.4 425.5,885.7 427.9,886.0 430.2,883.8 432.6,880.6 435.0,876.9 437.3,871.3 439.7,866.6 442.1,861.0 444.4,857.3 446.8,854.5 449.2,853.1 451.5,856.2 453.9,859.3 456.2,860.1 458.6,861.5 461.0,863.3 463.3,864.7 465.7,866.2 468.1,866.0 470.4,866.0 472.8,865.9 475.1,864.9 477.5,864.4 479.9,863.1 482.2,863.5 484.6,863.3 487.0,863.3 489.3,862.6 491.7,863.9 494.1,864.3 496.4,866.4 498.8,869.0 501.1,872.2 503.5,877.8 505.9,884.5 508.2,891.9 510.6,900.7 513.0,909.1 515.3,918.8 517.7,925.1 520.1,931.5 522.4,937.7 524.8,942.7 527.1,947.3 529.5,951.3 531.9,955.5 534.2,960.0 536.6,963.1 539.0,964.8 541.3,965.5 543.7,968.1 546.0,972.2 548.4,976.3 550.8,981.3 553.1,986.7 555.5,988.4 557.9,990.0 560.2,986.6 562.6,983.4 565.0,977.2 567.3,971.9 569.7,966.6 572.0,961.5 574.4,956.0 576.8,953.1 579.1,951.0 581.5,948.2 583.9,943.8 586.2,938.7 588.6,932.9 591.0,926.3 593.3,919.6 595.7,915.8 598.0,911.9 600.4,909.5 602.8,907.1 605.1,905.4 607.5,905.7 609.9,906.7 612.2,908.7 614.6,911.3 616.9,914.6 619.3,916.8 621.7,919.3 624.0,921.2 626.4,931.2 628.8,940.8 631.1,952.0 633.5,962.5 635.9,974.7 638.2,985.5 640.6,995.4 642.9,1004.7 645.3,1015.9 647.7,1027.5 650.0,1038.3 652.4,1051.5 654.8,1069.3 657.1,1086.6 659.5,1100.0 661.9,1114.4 664.2,1128.1 666.6,1142.5 668.9,1154.4 671.3,1165.7 673.7,1174.5 676.0,1182.6 678.4,1188.2 680.8,1191.2 683.1,1195.1 685.5,1198.9 687.8,1202.5 690.2,1203.1 692.6,1204.5 694.9,1204.6 697.3,1207.1 699.7,1208.3 702.0,1210.9 704.4,1211.1 706.8,1209.0 709.1,1206.4 711.5,1201.8 713.8,1196.0 716.2,1191.0 718.6,1190.4 720.9,1191.7 723.3,1194.4 725.7,1197.7 728.0,1198.7 730.4,1197.5 732.8,1197.2 735.1,1195.6 737.5,1196.2 739.8,1196.0 742.2,1196.0 744.6,1195.3 746.9,1193.7 749.3,1193.1 751.7,1192.9 754.0,1193.3 756.4,1193.7 758.7,1192.5 761.1,1192.8 763.5,1192.6 765.8,1192.2 768.2,1190.1 770.6,1187.5 772.9,1187.3 775.3,1188.0 777.7,1188.8 780.0,1189.4 782.4,1191.1 784.7,1193.6 787.1,1194.8 789.5,1193.9 791.8,1192.7 794.2,1191.5 796.6,1188.2 798.9,1185.3 801.3,1182.1 803.7,1181.6 806.0,1179.9 808.4,1178.4 810.7,1173.3 813.1,1169.3 815.5,1171.8 817.8,1175.5 820.2,1177.1 822.6,1180.1 824.9,1183.0 827.3,1186.0 829.6,1187.7 832.0,1188.3 834.4,1187.1 836.7,1185.3 839.1,1183.8 841.5,1180.3 843.8,1178.2 846.2,1176.5 848.6,1174.5 850.9,1170.7 853.3,1167.6 855.6,1165.1 858.0,1162.5 860.4,1159.5 862.7,1156.4 865.1,1155.2 867.5,1152.6 869.8,1150.4 872.2,1147.8 874.6,1144.7 876.9,1143.2 879.3,1139.5 881.6,1136.9 884.0,1132.1 886.4,1129.3 888.7,1127.1 891.1,1126.1 893.5,1124.2 895.8,1122.5 898.2,1122.6 900.5,1127.8 902.9,1132.0 905.3,1136.0 907.6,1137.7 910.0,1137.4 912.4,1132.0 914.7,1125.5 917.1,1116.1 919.5,1108.4 921.8,1099.6 924.2,1089.5 926.5,1082.2 928.9,1076.9 931.3,1074.0 933.6,1071.1 936.0,1068.9 938.4,1055.9 940.7,1037.6 943.1,1006.8 945.5,975.5 947.8,942.9 950.2,913.9 952.5,890.3 954.9,868.3 957.3,848.9 959.6,836.7 962.0,832.7 964.4,836.6 966.7,842.5 969.1,847.5 971.4,851.8 973.8,856.6 976.2,862.0 978.5,866.3 980.9,870.2 983.3,872.5 985.6,875.2 988.0,878.7 990.4,882.4 992.7,885.7 995.1,886.0 997.4,883.8 999.8,880.6 1002.2,876.9 1004.5,871.3 1006.9,866.6 1009.3,861.0 1011.6,857.3 1014.0,854.5 1016.4,853.1 1018.7,856.2 1021.1,859.3 1023.4,860.1 1025.8,861.5 1028.2,863.3 1030.5,864.7 1032.9,866.2 1035.3,866.0 1037.6,866.0 1040.0,865.9 1042.3,864.9 1044.7,864.4 1047.1,863.1 1049.4,863.5 1051.8,863.3 1054.2,863.3 1056.5,862.6 1058.9,863.9 1061.3,864.3 1063.6,866.4 1066.0,869.0 1068.3,872.2 1070.7,877.8 1073.1,884.5 1075.4,891.9 1077.8,900.7 1080.2,909.1 1082.5,918.8 1084.9,925.1 1087.3,931.5 1089.6,937.7 1092.0,942.7 1094.3,947.3 1096.7,951.3 1099.1,955.5 1101.4,960.0 1103.8,963.1 1106.2,964.8 1108.5,965.5 1110.9,968.1 1113.2,972.2 1115.6,976.3 1118.0,981.3 1120.3,986.7 1122.7,988.4 1125.1,990.0 1127.4,986.6 1129.8,983.4 1132.2,977.2 1134.5,971.9 1136.9,966.6 1139.2,961.5 1141.6,956.0 1144.0,953.1 1146.3,951.0 1148.7,948.2 1151.1,943.8 1153.4,938.7 1155.8,932.9 1158.2,926.3 1160.5,919.6 1162.9,915.8 1165.2,911.9 1167.6,909.5 1170.0,907.1 1172.3,905.4 1174.7,905.7 1177.1,906.7 1179.4,908.7 1181.8,911.3 1184.1,914.6 1186.5,916.8 1188.9,919.3 1191.2,921.2 1193.6,931.2 1196.0,940.8 1198.3,952.0 1200.7,962.5 1203.1,974.7 1205.4,985.5 1207.8,995.4 1210.1,1004.7 1212.5,1015.9 1214.9,1027.5 1217.2,1038.3 1219.6,1051.5 1222.0,1069.3 1224.3,1086.6 1226.7,1100.0 1229.1,1114.4 1231.4,1128.1 1233.8,1142.5 1236.1,1154.4 1238.5,1165.7 1240.9,1174.5 1243.2,1182.6 1245.6,1188.2 1248.0,1191.2 1250.3,1195.1 1252.7,1198.9 1255.0,1202.5 1257.4,1203.1 1259.8,1204.5 1262.1,1204.6 1264.5,1207.1 1266.9,1208.3 1269.2,1210.9 1271.6,1211.1 1274.0,1209.0 1276.3,1206.4 1278.7,1201.8 1281.0,1196.0 1283.4,1191.0 1285.8,1190.4 1288.1,1191.7 1290.5,1194.4 1292.9,1197.7 1295.2,1198.7 1297.6,1197.5 1300.0,1197.2 1302.3,1195.6 1304.7,1196.2 1307.0,1196.0 1309.4,1196.0 1311.8,1195.3 1314.1,1193.7 1316.5,1193.1 1318.9,1192.9 1321.2,1193.3 1323.6,1193.7 1325.9,1192.5 1328.3,1192.8 1330.7,1192.6 1333.0,1192.2 1335.4,1190.1 1337.8,1187.5" stroke="#ec1c24" stroke-width="6.1"/>
<line x1="203.3" y1="989.8" x2="1337.6" y2="989.8" stroke="#3a55a5" stroke-width="4.2"/>
<polyline points="201.0,1147.6 203.4,1149.9 205.7,1148.3 208.1,1146.7 210.5,1144.5 212.8,1144.2 215.2,1139.3 217.5,1134.5 219.9,1136.4 222.3,1139.6 224.6,1145.5 227.0,1149.9 229.4,1152.5 231.7,1154.8 234.1,1158.8 236.5,1163.4 238.8,1164.6 241.2,1162.9 243.5,1157.2 245.9,1151.5 248.3,1151.9 250.6,1150.6 253.0,1149.6 255.4,1153.1 257.7,1155.4 260.1,1158.2 262.4,1157.3 264.8,1158.5 267.2,1160.3 269.5,1161.5 271.9,1162.3 274.3,1164.8 276.6,1165.8 279.0,1164.8 281.4,1156.4 283.7,1149.0 286.1,1140.4 288.4,1135.6 290.8,1135.5 293.2,1134.4 295.5,1133.4 297.9,1131.0 300.3,1129.7 302.6,1131.8 305.0,1133.8 307.4,1134.6 309.7,1133.5 312.1,1130.7 314.4,1129.4 316.8,1125.3 319.2,1124.0 321.5,1121.2 323.9,1117.8 326.3,1112.0 328.6,1108.7 331.0,1107.9 333.3,1106.8 335.7,1103.8 338.1,1098.1 340.4,1091.3 342.8,1083.2 345.2,1075.7 347.5,1068.9 349.9,1065.4 352.3,1062.5 354.6,1058.3 357.0,1050.8 359.3,1041.4 361.7,1027.2 364.1,1014.9 366.4,1002.9 368.8,988.2 371.2,968.0 373.5,947.7 375.9,922.3 378.3,894.7 380.6,862.2 383.0,832.4 385.3,803.8 387.7,787.8 390.1,775.5 392.4,771.2 394.8,770.6 397.2,773.8 399.5,777.0 401.9,784.2 404.2,791.3 406.6,799.2 409.0,805.1 411.3,809.8 413.7,814.8 416.1,817.3 418.4,821.6 420.8,825.3 423.2,828.8 425.5,829.8 427.9,829.2 430.2,828.3 432.6,828.3 435.0,829.1 437.3,827.8 439.7,825.1 442.1,820.0 444.4,821.5 446.8,820.0 449.2,819.8 451.5,818.0 453.9,817.9 456.2,818.0 458.6,816.1 461.0,814.0 463.3,812.7 465.7,810.2 468.1,811.2 470.4,811.4 472.8,815.9 475.1,815.3 477.5,815.9 479.9,813.7 482.2,811.1 484.6,806.6 487.0,803.3 489.3,801.2 491.7,802.7 494.1,802.5 496.4,804.1 498.8,805.1 501.1,810.4 503.5,814.1 505.9,824.7 508.2,833.3 510.6,845.1 513.0,854.5 515.3,866.0 517.7,878.2 520.1,888.8 522.4,897.4 524.8,903.6 527.1,909.8 529.5,918.7 531.9,929.1 534.2,937.0 536.6,940.4 539.0,945.9 541.3,951.6 543.7,957.0 546.0,959.3 548.4,962.9 550.8,968.0 553.1,973.6 555.5,975.7 557.9,978.3 560.2,974.9 562.6,972.4 565.0,966.5 567.3,961.5 569.7,956.5 572.0,955.7 574.4,954.1 576.8,951.0 579.1,947.2 581.5,944.3 583.9,940.8 586.2,936.9 588.6,929.8 591.0,926.0 593.3,919.2 595.7,912.4 598.0,900.8 600.4,891.5 602.8,883.9 605.1,877.8 607.5,872.1 609.9,870.2 612.2,866.9 614.6,865.4 616.9,859.3 619.3,855.1 621.7,849.0 624.0,843.5 626.4,836.0 628.8,827.7 631.1,822.3 633.5,816.4 635.9,811.5 638.2,810.7 640.6,812.7 642.9,815.2 645.3,818.7 647.7,826.6 650.0,841.3 652.4,855.3 654.8,869.5 657.1,881.7 659.5,887.5 661.9,904.8 664.2,925.6 666.6,951.1 668.9,979.1 671.3,1005.1 673.7,1027.4 676.0,1047.6 678.4,1062.5 680.8,1076.0 683.1,1090.8 685.5,1105.3 687.8,1117.7 690.2,1127.0 692.6,1131.8 694.9,1130.4 697.3,1125.9 699.7,1121.1 702.0,1115.2 704.4,1113.9 706.8,1114.8 709.1,1116.4 711.5,1118.7 713.8,1118.4 716.2,1120.2 718.6,1122.3 720.9,1126.5 723.3,1132.4 725.7,1135.8 728.0,1139.7 730.4,1143.0 732.8,1150.2 735.1,1155.5 737.5,1157.5 739.8,1158.2 742.2,1155.9 744.6,1155.0 746.9,1150.8 749.3,1146.4 751.7,1144.1 754.0,1145.7 756.4,1148.0 758.7,1150.3 761.1,1150.2 763.5,1148.4 765.8,1146.4 768.2,1147.6 770.6,1149.9 772.9,1148.3 775.3,1146.7 777.7,1144.5 780.0,1144.2 782.4,1139.3 784.7,1134.5 787.1,1136.4 789.5,1139.6 791.8,1145.5 794.2,1149.9 796.6,1152.5 798.9,1154.8 801.3,1158.8 803.7,1163.4 806.0,1164.6 808.4,1162.9 810.7,1157.2 813.1,1151.5 815.5,1151.9 817.8,1150.6 820.2,1149.6 822.6,1153.1 824.9,1155.4 827.3,1158.2 829.6,1157.3 832.0,1158.5 834.4,1160.3 836.7,1161.5 839.1,1162.3 841.5,1164.8 843.8,1165.8 846.2,1164.8 848.6,1156.4 850.9,1149.0 853.3,1140.4 855.6,1135.6 858.0,1135.5 860.4,1134.4 862.7,1133.4 865.1,1131.0 867.5,1129.7 869.8,1131.8 872.2,1133.8 874.6,1134.6 876.9,1133.5 879.3,1130.7 881.6,1129.4 884.0,1125.3 886.4,1124.0 888.7,1121.2 891.1,1117.8 893.5,1112.0 895.8,1108.7 898.2,1107.9 900.5,1106.8 902.9,1103.8 905.3,1098.1 907.6,1091.3 910.0,1083.2 912.4,1075.7 914.7,1068.9 917.1,1065.4 919.5,1062.5 921.8,1058.3 924.2,1050.8 926.5,1041.4 928.9,1027.2 931.3,1014.9 933.6,1002.9 936.0,988.2 938.4,968.0 940.7,947.7 943.1,922.3 945.5,894.7 947.8,862.2 950.2,832.4 952.5,803.8 954.9,787.8 957.3,775.5 959.6,771.2 962.0,770.6 964.4,773.8 966.7,777.0 969.1,784.2 971.4,791.3 973.8,799.2 976.2,805.1 978.5,809.8 980.9,814.8 983.3,817.3 985.6,821.6 988.0,825.3 990.4,828.8 992.7,829.8 995.1,829.2 997.4,828.3 999.8,828.3 1002.2,829.1 1004.5,827.8 1006.9,825.1 1009.3,820.0 1011.6,821.5 1014.0,820.0 1016.4,819.8 1018.7,818.0 1021.1,817.9 1023.4,818.0 1025.8,816.1 1028.2,814.0 1030.5,812.7 1032.9,810.2 1035.3,811.2 1037.6,811.4 1040.0,815.9 1042.3,815.3 1044.7,815.9 1047.1,813.7 1049.4,811.1 1051.8,806.6 1054.2,803.3 1056.5,801.2 1058.9,802.7 1061.3,802.5 1063.6,804.1 1066.0,805.1 1068.3,810.4 1070.7,814.1 1073.1,824.7 1075.4,833.3 1077.8,845.1 1080.2,854.5 1082.5,866.0 1084.9,878.2 1087.3,888.8 1089.6,897.4 1092.0,903.6 1094.3,909.8 1096.7,918.7 1099.1,929.1 1101.4,937.0 1103.8,940.4 1106.2,945.9 1108.5,951.6 1110.9,957.0 1113.2,959.3 1115.6,962.9 1118.0,968.0 1120.3,973.6 1122.7,975.7 1125.1,978.3 1127.4,974.9 1129.8,972.4 1132.2,966.5 1134.5,961.5 1136.9,956.5 1139.2,955.7 1141.6,954.1 1144.0,951.0 1146.3,947.2 1148.7,944.3 1151.1,940.8 1153.4,936.9 1155.8,929.8 1158.2,926.0 1160.5,919.2 1162.9,912.4 1165.2,900.8 1167.6,891.5 1170.0,883.9 1172.3,877.8 1174.7,872.1 1177.1,870.2 1179.4,866.9 1181.8,865.4 1184.1,859.3 1186.5,855.1 1188.9,849.0 1191.2,843.5 1193.6,836.0 1196.0,827.7 1198.3,822.3 1200.7,816.4 1203.1,811.5 1205.4,810.7 1207.8,812.7 1210.1,815.2 1212.5,818.7 1214.9,826.6 1217.2,841.3 1219.6,855.3 1222.0,869.5 1224.3,881.7 1226.7,887.5 1229.1,904.8 1231.4,925.6 1233.8,951.1 1236.1,979.1 1238.5,1005.1 1240.9,1027.4 1243.2,1047.6 1245.6,1062.5 1248.0,1076.0 1250.3,1090.8 1252.7,1105.3 1255.0,1117.7 1257.4,1127.0 1259.8,1131.8 1262.1,1130.4 1264.5,1125.9 1266.9,1121.1 1269.2,1115.2 1271.6,1113.9 1274.0,1114.8 1276.3,1116.4 1278.7,1118.7 1281.0,1118.4 1283.4,1120.2 1285.8,1122.3 1288.1,1126.5 1290.5,1132.4 1292.9,1135.8 1295.2,1139.7 1297.6,1143.0 1300.0,1150.2 1302.3,1155.5 1304.7,1157.5 1307.0,1158.2 1309.4,1155.9 1311.8,1155.0 1314.1,1150.8 1316.5,1146.4 1318.9,1144.1 1321.2,1145.7 1323.6,1148.0 1325.9,1150.3 1328.3,1150.2 1330.7,1148.4 1333.0,1146.4 1335.4,1147.6 1337.8,1149.9" stroke="#3a55a5" stroke-width="6.1"/>
</g>
<line x1="196.8" y1="740.2" x2="203.3" y2="740.2" stroke="#000" stroke-width="2.2"/>
<text transform="translate(162.2,756.8) scale(0.8374,1)" font-size="35.94" fill="#000">38</text>
<line x1="196.8" y1="903.63" x2="203.3" y2="903.63" stroke="#000" stroke-width="3.6"/>
<text transform="translate(162.18,917.4) scale(0.8456,1)" font-size="35.94" fill="#000">37</text>
<line x1="196.8" y1="1067.07" x2="203.3" y2="1067.07" stroke="#000" stroke-width="2.2"/>
<text transform="translate(162.2,1079.1) scale(0.8374,1)" font-size="35.94" fill="#000">36</text>
<line x1="196.8" y1="1230.5" x2="203.3" y2="1230.5" stroke="#000" stroke-width="2.2"/>
<text transform="translate(162.2,1240.8) scale(0.8374,1)" font-size="35.94" fill="#000">35</text>
<text transform="translate(350.61,1269.6) scale(1.0092,1)" font-size="34.2" fill="#000">12</text>
<text transform="translate(642.9,1269.6) scale(0.9502,1)" font-size="34.2" fill="#000">0</text>
<text transform="translate(917.81,1269.6) scale(1.0092,1)" font-size="34.2" fill="#000">12</text>
<text transform="translate(1210.1,1269.6) scale(0.9502,1)" font-size="34.2" fill="#000">0</text>
<text transform="translate(701.75,1291.5) scale(0.9435,1)" font-size="45.22" fill="#000">Time (hrs)</text>
<text transform="translate(148.2,1144.03) rotate(-90) scale(0.9927,1)" font-size="41.59" fill="#000">Temperature (°C)</text>
<rect x="208.2" y="744.2" width="146" height="102.2" fill="#fff" stroke="#000" stroke-width="2.1"/>
<line x1="216.3" y1="766.8" x2="252.5" y2="766.8" stroke="#3a55a5" stroke-width="4.4"/>
<line x1="216.3" y1="798" x2="252.5" y2="798" stroke="#ec1c24" stroke-width="4.4"/>
<line x1="216.3" y1="826.8" x2="252.5" y2="826.8" stroke="#000" stroke-width="4.4"/>
<text transform="translate(256.16,776) scale(0.9971,1)" font-size="32.03" fill="#000">SPF</text>
<text transform="translate(258.73,807.6) scale(0.9819,1)" font-size="31.88" fill="#000">GF</text>
<text transform="translate(259.03,835.3) scale(0.9950,1)" font-size="31.88" fill="#000">ex-GF</text>
<text transform="translate(37.95,801.4) scale(1.0514,1)" font-size="93.33" fill="#000">B</text>
</g>
<g id="panelB2">
<rect x="537.5" y="1312.6" width="465.1" height="286.9" fill="#d1d2d4"/>
<line x1="190.6" y1="1312.6" x2="1350.3" y2="1312.6" stroke="#000" stroke-width="2.6"/>
<line x1="191.8" y1="1312.6" x2="191.8" y2="1608" stroke="#000" stroke-width="2.4"/>
<line x1="1349.1" y1="1312.6" x2="1349.1" y2="1607.5" stroke="#000" stroke-width="2.6"/>
<line x1="191.8" y1="1599.5" x2="1349.1" y2="1599.5" stroke="#000" stroke-width="2.6"/>
<line x1="491.8" y1="1372.6" x2="511.8" y2="1372.6" stroke="#1f5aa6" stroke-width="2.3"/>
<line x1="491.8" y1="1369.2" x2="491.8" y2="1376" stroke="#1f5aa6" stroke-width="2.5"/>
<line x1="1141.6" y1="1372.6" x2="1153.8" y2="1372.6" stroke="#1f5aa6" stroke-width="2.3"/>
<line x1="1153.8" y1="1369.2" x2="1153.8" y2="1376" stroke="#1f5aa6" stroke-width="2.5"/>
<rect x="511.8" y="1337" width="629.8" height="72.8" fill="#7aaedf" stroke="#1f5aa6" stroke-width="2.5"/>
<line x1="184.3" y1="1372.6" x2="191.8" y2="1372.6" stroke="#000" stroke-width="2.2"/>
<line x1="533.9" y1="1456.4" x2="552.4" y2="1456.4" stroke="#ec1c24" stroke-width="2.3"/>
<line x1="533.9" y1="1453" x2="533.9" y2="1459.8" stroke="#ec1c24" stroke-width="2.5"/>
<line x1="1010.2" y1="1456.4" x2="1030.2" y2="1456.4" stroke="#ec1c24" stroke-width="2.3"/>
<line x1="1030.2" y1="1453" x2="1030.2" y2="1459.8" stroke="#ec1c24" stroke-width="2.5"/>
<rect x="552.4" y="1420.8" width="457.8" height="72.9" fill="#f4846a" stroke="#ec1c24" stroke-width="2.5"/>
<line x1="184.3" y1="1456.4" x2="191.8" y2="1456.4" stroke="#000" stroke-width="2.2"/>
<line x1="433.8" y1="1539.7" x2="443.1" y2="1539.7" stroke="#111" stroke-width="2.3"/>
<line x1="433.8" y1="1536.3" x2="433.8" y2="1543.1" stroke="#111" stroke-width="2.5"/>
<line x1="1136.6" y1="1539.7" x2="1164.4" y2="1539.7" stroke="#111" stroke-width="2.3"/>
<line x1="1164.4" y1="1536.3" x2="1164.4" y2="1543.1" stroke="#111" stroke-width="2.5"/>
<rect x="443.1" y="1504.3" width="693.5" height="73" fill="#9a9390" stroke="#111" stroke-width="2.5"/>
<line x1="184.3" y1="1539.7" x2="191.8" y2="1539.7" stroke="#000" stroke-width="2.2"/>
<text transform="translate(76.85,1391.5) scale(1.0054,1)" font-size="52.03" fill="#000">SPF</text>
<text transform="translate(105.26,1476.4) scale(1.0003,1)" font-size="52.75" fill="#000">GF</text>
<text transform="translate(31.99,1562) scale(0.9961,1)" font-size="53.04" fill="#000">ex-GF</text>
<line x1="364.2" y1="1599.5" x2="364.2" y2="1608.7" stroke="#000" stroke-width="2.4"/>
<text transform="translate(343.73,1647) scale(0.9885,1)" font-size="38.7" fill="#000">11</text>
<line x1="537.5" y1="1599.5" x2="537.5" y2="1608.7" stroke="#000" stroke-width="2.4"/>
<text transform="translate(516.18,1647) scale(0.9707,1)" font-size="38.7" fill="#000">12</text>
<line x1="710.1" y1="1599.5" x2="710.1" y2="1608.7" stroke="#000" stroke-width="2.4"/>
<text transform="translate(689.22,1647) scale(1.0103,1)" font-size="38.7" fill="#000">13</text>
<line x1="829.6" y1="1599.5" x2="829.6" y2="1608.7" stroke="#000" stroke-width="2.4"/>
<text transform="translate(806.93,1647) scale(1.0464,1)" font-size="38.7" fill="#000">23</text>
<line x1="1002.6" y1="1599.5" x2="1002.6" y2="1608.7" stroke="#000" stroke-width="2.4"/>
<text transform="translate(990.35,1647) scale(1.1306,1)" font-size="38.7" fill="#000">0</text>
<line x1="1176.4" y1="1599.5" x2="1176.4" y2="1608.7" stroke="#000" stroke-width="2.4"/>
<text transform="translate(1169,1647) scale(0.6535,1)" font-size="38.7" fill="#000">1</text>
<line x1="208.5" y1="1610.4" x2="232.5" y2="1590" stroke="#000" stroke-width="2.5"/>
<line x1="235.5" y1="1610.4" x2="260" y2="1590" stroke="#000" stroke-width="2.5"/>
<line x1="748.5" y1="1610.4" x2="772" y2="1590" stroke="#000" stroke-width="2.5"/>
<line x1="775.3" y1="1610.4" x2="799.2" y2="1590" stroke="#000" stroke-width="2.5"/>
<line x1="1282.8" y1="1610.4" x2="1307.3" y2="1590" stroke="#000" stroke-width="2.5"/>
<line x1="1310.6" y1="1610.4" x2="1334.2" y2="1590" stroke="#000" stroke-width="2.5"/>
<text transform="translate(685.56,1698.9) scale(1.0504,1)" font-size="44.64" fill="#000">Time (ZT)</text>
<text transform="translate(738.6,1475.99) scale(1.1546,1)" font-size="40.57" fill="#000">***</text>
<text transform="translate(1039.93,1429.91) rotate(90) scale(1.0807,1)" font-size="42.86" fill="#000">***</text>
<text transform="translate(729.63,1555.1) scale(0.9320,1)" font-size="40.88" font-weight="bold" fill="#000">###</text>
<text transform="translate(1175.9,1521.73) rotate(90) scale(0.9342,1)" font-size="40.74" font-weight="bold" fill="#000">##</text>
<text transform="translate(387.9,1531.47) rotate(90) scale(0.7159,1)" font-size="40.44" font-weight="bold" fill="#000">#</text>
</g>
<g id="panelC">
<rect x="169.1" y="1743" width="286.7" height="645.3" fill="#d1d2d4"/>
<line x1="232.1" y1="1857.2" x2="232.1" y2="1864.6" stroke="#3b4ea3" stroke-width="2.3"/>
<line x1="227.3" y1="1857.2" x2="236.9" y2="1857.2" stroke="#3b4ea3" stroke-width="2.3"/>
<rect x="193.9" y="1864.6" width="76.4" height="523.7" fill="#7aaedf" stroke="#1f5aa6" stroke-width="2.6"/>
<line x1="232.1" y1="2388.3" x2="232.1" y2="2394.8" stroke="#000" stroke-width="1.8"/>
<line x1="319.6" y1="1896.5" x2="319.6" y2="1910.2" stroke="#ec1c24" stroke-width="2.3"/>
<line x1="314.8" y1="1896.5" x2="324.4" y2="1896.5" stroke="#ec1c24" stroke-width="2.3"/>
<rect x="280.9" y="1910.2" width="77.4" height="478.1" fill="#f4846a" stroke="#ec1c24" stroke-width="2.6"/>
<line x1="319.6" y1="2388.3" x2="319.6" y2="2394.8" stroke="#000" stroke-width="1.8"/>
<line x1="407.25" y1="1891.2" x2="407.25" y2="1932" stroke="#111" stroke-width="2.3"/>
<line x1="402.45" y1="1891.2" x2="412.05" y2="1891.2" stroke="#111" stroke-width="2.3"/>
<rect x="368.5" y="1932" width="77.5" height="456.3" fill="#9a9390" stroke="#111" stroke-width="2.6"/>
<line x1="407.25" y1="2388.3" x2="407.25" y2="2394.8" stroke="#000" stroke-width="1.8"/>
<line x1="506.1" y1="2113.4" x2="506.1" y2="2120.2" stroke="#3b4ea3" stroke-width="2.3"/>
<line x1="501.3" y1="2113.4" x2="510.9" y2="2113.4" stroke="#3b4ea3" stroke-width="2.3"/>
<rect x="467.3" y="2120.2" width="77.6" height="268.1" fill="#7aaedf" stroke="#1f5aa6" stroke-width="2.6"/>
<line x1="506.1" y1="2388.3" x2="506.1" y2="2394.8" stroke="#000" stroke-width="1.8"/>
<line x1="593.2" y1="2147.4" x2="593.2" y2="2158.7" stroke="#ec1c24" stroke-width="2.3"/>
<line x1="588.4" y1="2147.4" x2="598" y2="2147.4" stroke="#ec1c24" stroke-width="2.3"/>
<rect x="554.1" y="2158.7" width="78.2" height="229.6" fill="#f4846a" stroke="#ec1c24" stroke-width="2.6"/>
<line x1="593.2" y1="2388.3" x2="593.2" y2="2394.8" stroke="#000" stroke-width="1.8"/>
<line x1="681.1" y1="2123.8" x2="681.1" y2="2157.6" stroke="#111" stroke-width="2.3"/>
<line x1="676.3" y1="2123.8" x2="685.9" y2="2123.8" stroke="#111" stroke-width="2.3"/>
<rect x="642" y="2157.6" width="78.2" height="230.7" fill="#9a9390" stroke="#111" stroke-width="2.6"/>
<line x1="681.1" y1="2388.3" x2="681.1" y2="2394.8" stroke="#000" stroke-width="1.8"/>
<line x1="455.5" y1="1744" x2="455.5" y2="2388.3" stroke="#000" stroke-width="2.7" stroke-dasharray="11.7,9.8" stroke-dashoffset="4.7"/>
<rect x="169.1" y="1743" width="574.1" height="645.3" fill="none" stroke="#000" stroke-width="2.6"/>
<line x1="160.7" y1="1743" x2="169.1" y2="1743" stroke="#000" stroke-width="2.2"/>
<text transform="translate(107.99,1759.4) scale(0.9440,1)" font-size="47.83" fill="#000">38</text>
<line x1="160.7" y1="1823.66" x2="169.1" y2="1823.66" stroke="#000" stroke-width="2"/>
<line x1="160.7" y1="1904.33" x2="169.1" y2="1904.33" stroke="#000" stroke-width="2.2"/>
<text transform="translate(107.98,1920.73) scale(0.9532,1)" font-size="47.83" fill="#000">37</text>
<line x1="160.7" y1="1984.99" x2="169.1" y2="1984.99" stroke="#000" stroke-width="2"/>
<line x1="160.7" y1="2065.65" x2="169.1" y2="2065.65" stroke="#000" stroke-width="2.2"/>
<text transform="translate(107.99,2082.05) scale(0.9440,1)" font-size="47.83" fill="#000">36</text>
<line x1="160.7" y1="2146.31" x2="169.1" y2="2146.31" stroke="#000" stroke-width="2"/>
<line x1="160.7" y1="2226.98" x2="169.1" y2="2226.98" stroke="#000" stroke-width="2.2"/>
<text transform="translate(107.99,2243.38) scale(0.9440,1)" font-size="47.83" fill="#000">35</text>
<line x1="160.7" y1="2307.64" x2="169.1" y2="2307.64" stroke="#000" stroke-width="2"/>
<line x1="160.7" y1="2388.3" x2="169.1" y2="2388.3" stroke="#000" stroke-width="2.2"/>
<text transform="translate(108.01,2403.4) scale(0.9349,1)" font-size="47.83" fill="#000">34</text>
<text transform="translate(86.37,2291.07) rotate(-90) scale(1.0600,1)" font-size="55.4" fill="#000">Temperature (°C)</text>
<text transform="translate(175.19,1814.57) scale(0.8803,1)" font-size="93.38" fill="#000">C</text>
<text transform="translate(285.26,1779.3) scale(0.9133,1)" font-size="33.33" fill="#000">Dark</text>
<text transform="translate(560.71,1779.3) scale(0.9707,1)" font-size="33.33" fill="#000">Light</text>
<text transform="translate(191.6,2432.3) scale(0.9420,1)" font-size="42.46" fill="#000">SPF</text>
<text transform="translate(290.04,2432.3) scale(0.9692,1)" font-size="42.46" fill="#000">GF</text>
<text transform="translate(348.84,2432.3) scale(0.9778,1)" font-size="42.46" fill="#000">ex-GF</text>
<text transform="translate(465.4,2432.3) scale(0.9420,1)" font-size="42.46" fill="#000">SPF</text>
<text transform="translate(564.84,2432.3) scale(0.9692,1)" font-size="42.46" fill="#000">GF</text>
<text transform="translate(622.64,2432.3) scale(0.9778,1)" font-size="42.46" fill="#000">ex-GF</text>
<text transform="translate(299.86,1890.46) scale(0.9039,1)" font-size="54.29" fill="#000">**</text>
<text transform="translate(387.25,1883.99) scale(0.9696,1)" font-size="51.43" fill="#000">**</text>
<text transform="translate(574.05,2139.59) scale(0.9805,1)" font-size="50.86" fill="#000">**</text>
</g>
</svg>
</body></html>
